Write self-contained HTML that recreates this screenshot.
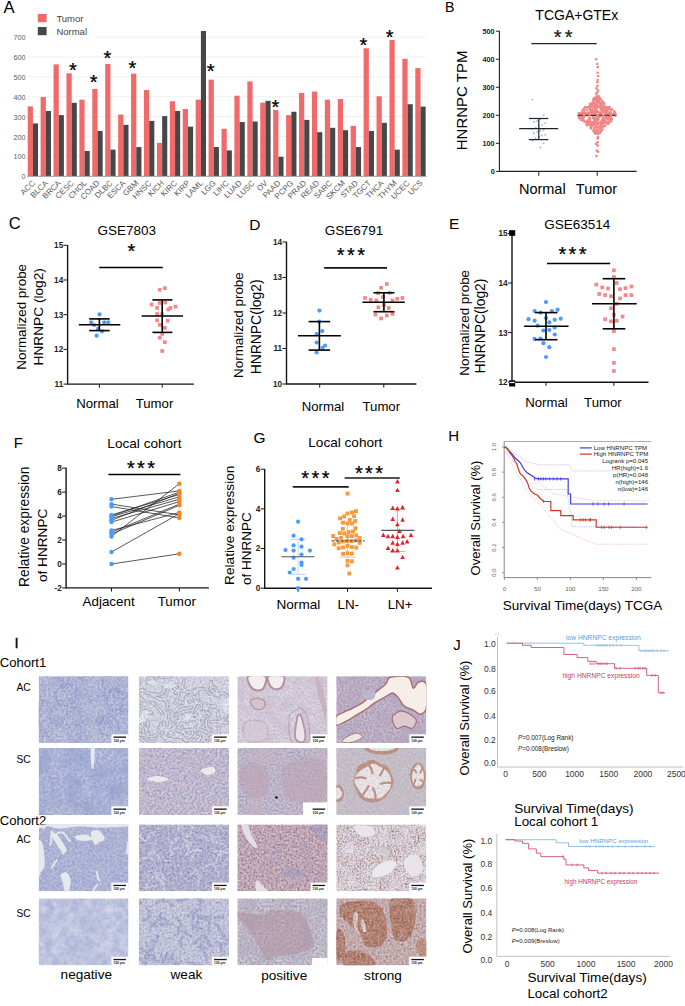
<!DOCTYPE html>
<html><head><meta charset="utf-8"><style>
html,body{margin:0;padding:0;background:#fff;overflow:hidden;}
svg{display:block;font-family:"Liberation Sans", sans-serif;}
</style></head><body>
<svg width="685" height="1006" viewBox="0 0 685 1006">
<defs><filter id="sblur" x="-5%" y="-5%" width="110%" height="110%"><feGaussianBlur stdDeviation="0.6"/></filter><clipPath id="cp1"><rect x="38.70" y="676.20" width="89.70" height="66.70"/></clipPath><filter id="nf1" x="0" y="0" width="1" height="1" color-interpolation-filters="sRGB"><feTurbulence type="fractalNoise" baseFrequency="0.07" numOctaves="2" seed="11" result="n"/><feColorMatrix in="n" type="matrix" values="0 0 0 0 0.549 0 0 0 0 0.580 0 0 0 0 0.776 1.667 0 0 0 -0.583"/><feComposite in2="SourceAlpha" operator="in"/></filter><filter id="nf2" x="0" y="0" width="1" height="1" color-interpolation-filters="sRGB"><feTurbulence type="fractalNoise" baseFrequency="0.5" numOctaves="2" seed="12" result="n"/><feColorMatrix in="n" type="matrix" values="0 0 0 0 0.549 0 0 0 0 0.580 0 0 0 0 0.776 1.833 0 0 0 -0.642"/><feComposite in2="SourceAlpha" operator="in"/></filter><filter id="nf3" x="0" y="0" width="1" height="1" color-interpolation-filters="sRGB"><feTurbulence type="fractalNoise" baseFrequency="0.45" numOctaves="2" seed="13" result="n"/><feColorMatrix in="n" type="matrix" values="0 0 0 0 0.839 0 0 0 0 0.847 0 0 0 0 0.902 1.500 0 0 0 -0.525"/><feComposite in2="SourceAlpha" operator="in"/></filter><clipPath id="cp2"><rect x="138.90" y="676.20" width="90.20" height="66.70"/></clipPath><filter id="nf4" x="0" y="0" width="1" height="1" color-interpolation-filters="sRGB"><feTurbulence type="fractalNoise" baseFrequency="0.5" numOctaves="2" seed="22" result="n"/><feColorMatrix in="n" type="matrix" values="0 0 0 0 0.667 0 0 0 0 0.635 0 0 0 0 0.737 1.000 0 0 0 -0.350"/><feComposite in2="SourceAlpha" operator="in"/></filter><filter id="nf5" x="0" y="0" width="1" height="1" color-interpolation-filters="sRGB"><feTurbulence type="fractalNoise" baseFrequency="0.5" numOctaves="2" seed="25" result="n"/><feColorMatrix in="n" type="matrix" values="0 0 0 0 0.910 0 0 0 0 0.918 0 0 0 0 0.941 1.333 0 0 0 -0.467"/><feComposite in2="SourceAlpha" operator="in"/></filter><filter id="nf6" x="0" y="0" width="1" height="1" color-interpolation-filters="sRGB"><feTurbulence type="fractalNoise" baseFrequency="0.5" numOctaves="2" seed="26" result="n"/><feColorMatrix in="n" type="matrix" values="0 0 0 0 0.588 0 0 0 0 0.557 0 0 0 0 0.675 1.000 0 0 0 -0.350"/><feComposite in2="SourceAlpha" operator="in"/></filter><clipPath id="cp3"><rect x="237.40" y="676.20" width="90.20" height="66.70"/></clipPath><filter id="nf7" x="0" y="0" width="1" height="1" color-interpolation-filters="sRGB"><feTurbulence type="fractalNoise" baseFrequency="0.5" numOctaves="2" seed="31" result="n"/><feColorMatrix in="n" type="matrix" values="0 0 0 0 0.714 0 0 0 0 0.667 0 0 0 0 0.753 1.833 0 0 0 -0.642"/><feComposite in2="SourceAlpha" operator="in"/></filter><filter id="nf8" x="0" y="0" width="1" height="1" color-interpolation-filters="sRGB"><feTurbulence type="fractalNoise" baseFrequency="0.08" numOctaves="2" seed="32" result="n"/><feColorMatrix in="n" type="matrix" values="0 0 0 0 0.784 0 0 0 0 0.729 0 0 0 0 0.792 1.500 0 0 0 -0.525"/><feComposite in2="SourceAlpha" operator="in"/></filter><clipPath id="cp4"><rect x="336.30" y="676.20" width="90.00" height="66.70"/></clipPath><filter id="nf9" x="0" y="0" width="1" height="1" color-interpolation-filters="sRGB"><feTurbulence type="fractalNoise" baseFrequency="0.5" numOctaves="2" seed="41" result="n"/><feColorMatrix in="n" type="matrix" values="0 0 0 0 0.627 0 0 0 0 0.541 0 0 0 0 0.635 2.000 0 0 0 -0.700"/><feComposite in2="SourceAlpha" operator="in"/></filter><filter id="nf10" x="0" y="0" width="1" height="1" color-interpolation-filters="sRGB"><feTurbulence type="fractalNoise" baseFrequency="0.08" numOctaves="2" seed="42" result="n"/><feColorMatrix in="n" type="matrix" values="0 0 0 0 0.698 0 0 0 0 0.647 0 0 0 0 0.753 1.667 0 0 0 -0.583"/><feComposite in2="SourceAlpha" operator="in"/></filter><clipPath id="cp5"><rect x="38.70" y="748.00" width="89.70" height="66.90"/></clipPath><filter id="nf11" x="0" y="0" width="1" height="1" color-interpolation-filters="sRGB"><feTurbulence type="fractalNoise" baseFrequency="0.5" numOctaves="2" seed="51" result="n"/><feColorMatrix in="n" type="matrix" values="0 0 0 0 0.533 0 0 0 0 0.573 0 0 0 0 0.784 2.000 0 0 0 -0.700"/><feComposite in2="SourceAlpha" operator="in"/></filter><filter id="nf12" x="0" y="0" width="1" height="1" color-interpolation-filters="sRGB"><feTurbulence type="fractalNoise" baseFrequency="0.35" numOctaves="2" seed="52" result="n"/><feColorMatrix in="n" type="matrix" values="0 0 0 0 0.824 0 0 0 0 0.839 0 0 0 0 0.902 1.500 0 0 0 -0.525"/><feComposite in2="SourceAlpha" operator="in"/></filter><filter id="nf13" x="0" y="0" width="1" height="1" color-interpolation-filters="sRGB"><feTurbulence type="fractalNoise" baseFrequency="0.06" numOctaves="2" seed="53" result="n"/><feColorMatrix in="n" type="matrix" values="0 0 0 0 0.588 0 0 0 0 0.627 0 0 0 0 0.808 1.667 0 0 0 -0.583"/><feComposite in2="SourceAlpha" operator="in"/></filter><clipPath id="cp6"><rect x="138.90" y="748.00" width="90.20" height="66.90"/></clipPath><filter id="nf14" x="0" y="0" width="1" height="1" color-interpolation-filters="sRGB"><feTurbulence type="fractalNoise" baseFrequency="0.5" numOctaves="2" seed="61" result="n"/><feColorMatrix in="n" type="matrix" values="0 0 0 0 0.549 0 0 0 0 0.525 0 0 0 0 0.698 2.167 0 0 0 -0.758"/><feComposite in2="SourceAlpha" operator="in"/></filter><filter id="nf15" x="0" y="0" width="1" height="1" color-interpolation-filters="sRGB"><feTurbulence type="fractalNoise" baseFrequency="0.06" numOctaves="2" seed="62" result="n"/><feColorMatrix in="n" type="matrix" values="0 0 0 0 0.753 0 0 0 0 0.675 0 0 0 0 0.753 1.667 0 0 0 -0.583"/><feComposite in2="SourceAlpha" operator="in"/></filter><filter id="nf16" x="0" y="0" width="1" height="1" color-interpolation-filters="sRGB"><feTurbulence type="fractalNoise" baseFrequency="0.4" numOctaves="2" seed="63" result="n"/><feColorMatrix in="n" type="matrix" values="0 0 0 0 0.886 0 0 0 0 0.878 0 0 0 0 0.918 1.500 0 0 0 -0.525"/><feComposite in2="SourceAlpha" operator="in"/></filter><clipPath id="cp7"><rect x="237.40" y="748.00" width="90.20" height="66.90"/></clipPath><filter id="nf17" x="0" y="0" width="1" height="1" color-interpolation-filters="sRGB"><feTurbulence type="fractalNoise" baseFrequency="0.5" numOctaves="2" seed="71" result="n"/><feColorMatrix in="n" type="matrix" values="0 0 0 0 0.588 0 0 0 0 0.557 0 0 0 0 0.698 2.000 0 0 0 -0.700"/><feComposite in2="SourceAlpha" operator="in"/></filter><filter id="nf18" x="0" y="0" width="1" height="1" color-interpolation-filters="sRGB"><feTurbulence type="fractalNoise" baseFrequency="0.06" numOctaves="2" seed="72" result="n"/><feColorMatrix in="n" type="matrix" values="0 0 0 0 0.776 0 0 0 0 0.698 0 0 0 0 0.753 1.500 0 0 0 -0.525"/><feComposite in2="SourceAlpha" operator="in"/></filter><clipPath id="cp8"><rect x="336.30" y="748.00" width="90.00" height="66.90"/></clipPath><filter id="nf19" x="0" y="0" width="1" height="1" color-interpolation-filters="sRGB"><feTurbulence type="fractalNoise" baseFrequency="0.5" numOctaves="2" seed="81" result="n"/><feColorMatrix in="n" type="matrix" values="0 0 0 0 0.675 0 0 0 0 0.659 0 0 0 0 0.729 2.000 0 0 0 -0.700"/><feComposite in2="SourceAlpha" operator="in"/></filter><filter id="nf20" x="0" y="0" width="1" height="1" color-interpolation-filters="sRGB"><feTurbulence type="fractalNoise" baseFrequency="0.08" numOctaves="2" seed="82" result="n"/><feColorMatrix in="n" type="matrix" values="0 0 0 0 0.761 0 0 0 0 0.745 0 0 0 0 0.784 1.333 0 0 0 -0.467"/><feComposite in2="SourceAlpha" operator="in"/></filter><filter id="nf21" x="0" y="0" width="1" height="1" color-interpolation-filters="sRGB"><feTurbulence type="fractalNoise" baseFrequency="0.5" numOctaves="2" seed="83" result="n"/><feColorMatrix in="n" type="matrix" values="0 0 0 0 0.784 0 0 0 0 0.706 0 0 0 0 0.725 1.167 0 0 0 -0.408"/><feComposite in2="SourceAlpha" operator="in"/></filter><clipPath id="cp9"><rect x="38.70" y="824.50" width="89.70" height="66.70"/></clipPath><filter id="nf22" x="0" y="0" width="1" height="1" color-interpolation-filters="sRGB"><feTurbulence type="fractalNoise" baseFrequency="0.08" numOctaves="2" seed="96" result="n"/><feColorMatrix in="n" type="matrix" values="0 0 0 0 0.627 0 0 0 0 0.651 0 0 0 0 0.808 1.333 0 0 0 -0.467"/><feComposite in2="SourceAlpha" operator="in"/></filter><filter id="nf23" x="0" y="0" width="1" height="1" color-interpolation-filters="sRGB"><feTurbulence type="fractalNoise" baseFrequency="0.5" numOctaves="2" seed="91" result="n"/><feColorMatrix in="n" type="matrix" values="0 0 0 0 0.541 0 0 0 0 0.573 0 0 0 0 0.776 1.667 0 0 0 -0.583"/><feComposite in2="SourceAlpha" operator="in"/></filter><filter id="nf24" x="0" y="0" width="1" height="1" color-interpolation-filters="sRGB"><feTurbulence type="fractalNoise" baseFrequency="0.4" numOctaves="2" seed="94" result="n"/><feColorMatrix in="n" type="matrix" values="0 0 0 0 0.839 0 0 0 0 0.847 0 0 0 0 0.902 1.167 0 0 0 -0.408"/><feComposite in2="SourceAlpha" operator="in"/></filter><clipPath id="cp10"><rect x="138.90" y="824.50" width="90.20" height="66.70"/></clipPath><filter id="nf25" x="0" y="0" width="1" height="1" color-interpolation-filters="sRGB"><feTurbulence type="fractalNoise" baseFrequency="0.5" numOctaves="2" seed="101" result="n"/><feColorMatrix in="n" type="matrix" values="0 0 0 0 0.494 0 0 0 0 0.502 0 0 0 0 0.690 1.833 0 0 0 -0.642"/><feComposite in2="SourceAlpha" operator="in"/></filter><filter id="nf26" x="0" y="0" width="1" height="1" color-interpolation-filters="sRGB"><feTurbulence type="fractalNoise" baseFrequency="0.4" numOctaves="2" seed="103" result="n"/><feColorMatrix in="n" type="matrix" values="0 0 0 0 0.871 0 0 0 0 0.871 0 0 0 0 0.910 1.333 0 0 0 -0.467"/><feComposite in2="SourceAlpha" operator="in"/></filter><clipPath id="cp11"><rect x="237.40" y="824.50" width="90.20" height="66.70"/></clipPath><filter id="nf27" x="0" y="0" width="1" height="1" color-interpolation-filters="sRGB"><feTurbulence type="fractalNoise" baseFrequency="0.5" numOctaves="2" seed="111" result="n"/><feColorMatrix in="n" type="matrix" values="0 0 0 0 0.588 0 0 0 0 0.431 0 0 0 0 0.510 2.333 0 0 0 -0.817"/><feComposite in2="SourceAlpha" operator="in"/></filter><filter id="nf28" x="0" y="0" width="1" height="1" color-interpolation-filters="sRGB"><feTurbulence type="fractalNoise" baseFrequency="0.45" numOctaves="2" seed="112" result="n"/><feColorMatrix in="n" type="matrix" values="0 0 0 0 0.878 0 0 0 0 0.839 0 0 0 0 0.863 1.667 0 0 0 -0.583"/><feComposite in2="SourceAlpha" operator="in"/></filter><filter id="nf29" x="0" y="0" width="1" height="1" color-interpolation-filters="sRGB"><feTurbulence type="fractalNoise" baseFrequency="0.07" numOctaves="2" seed="113" result="n"/><feColorMatrix in="n" type="matrix" values="0 0 0 0 0.667 0 0 0 0 0.627 0 0 0 0 0.765 1.562 0 0 0 -0.844"/><feComposite in2="SourceAlpha" operator="in"/></filter><clipPath id="cp12"><rect x="336.30" y="824.50" width="90.00" height="66.70"/></clipPath><filter id="nf30" x="0" y="0" width="1" height="1" color-interpolation-filters="sRGB"><feTurbulence type="fractalNoise" baseFrequency="0.55" numOctaves="2" seed="121" result="n"/><feColorMatrix in="n" type="matrix" values="0 0 0 0 0.675 0 0 0 0 0.478 0 0 0 0 0.431 2.692 0 0 0 -1.131"/><feComposite in2="SourceAlpha" operator="in"/></filter><filter id="nf31" x="0" y="0" width="1" height="1" color-interpolation-filters="sRGB"><feTurbulence type="fractalNoise" baseFrequency="0.09" numOctaves="2" seed="122" result="n"/><feColorMatrix in="n" type="matrix" values="0 0 0 0 0.933 0 0 0 0 0.925 0 0 0 0 0.937 2.000 0 0 0 -0.700"/><feComposite in2="SourceAlpha" operator="in"/></filter><filter id="nf32" x="0" y="0" width="1" height="1" color-interpolation-filters="sRGB"><feTurbulence type="fractalNoise" baseFrequency="0.6" numOctaves="2" seed="123" result="n"/><feColorMatrix in="n" type="matrix" values="0 0 0 0 0.549 0 0 0 0 0.510 0 0 0 0 0.667 1.000 0 0 0 -0.350"/><feComposite in2="SourceAlpha" operator="in"/></filter><clipPath id="cp13"><rect x="38.70" y="898.40" width="89.70" height="66.90"/></clipPath><filter id="nf33" x="0" y="0" width="1" height="1" color-interpolation-filters="sRGB"><feTurbulence type="fractalNoise" baseFrequency="0.06" numOctaves="2" seed="131" result="n"/><feColorMatrix in="n" type="matrix" values="0 0 0 0 0.659 0 0 0 0 0.690 0 0 0 0 0.839 2.000 0 0 0 -0.700"/><feComposite in2="SourceAlpha" operator="in"/></filter><filter id="nf34" x="0" y="0" width="1" height="1" color-interpolation-filters="sRGB"><feTurbulence type="fractalNoise" baseFrequency="0.5" numOctaves="2" seed="132" result="n"/><feColorMatrix in="n" type="matrix" values="0 0 0 0 0.647 0 0 0 0 0.675 0 0 0 0 0.831 1.500 0 0 0 -0.525"/><feComposite in2="SourceAlpha" operator="in"/></filter><filter id="nf35" x="0" y="0" width="1" height="1" color-interpolation-filters="sRGB"><feTurbulence type="fractalNoise" baseFrequency="0.15" numOctaves="2" seed="133" result="n"/><feColorMatrix in="n" type="matrix" values="0 0 0 0 0.855 0 0 0 0 0.863 0 0 0 0 0.918 1.500 0 0 0 -0.525"/><feComposite in2="SourceAlpha" operator="in"/></filter><clipPath id="cp14"><rect x="138.90" y="898.40" width="90.20" height="66.90"/></clipPath><filter id="nf36" x="0" y="0" width="1" height="1" color-interpolation-filters="sRGB"><feTurbulence type="fractalNoise" baseFrequency="0.5" numOctaves="2" seed="141" result="n"/><feColorMatrix in="n" type="matrix" values="0 0 0 0 0.529 0 0 0 0 0.541 0 0 0 0 0.722 1.667 0 0 0 -0.583"/><feComposite in2="SourceAlpha" operator="in"/></filter><filter id="nf37" x="0" y="0" width="1" height="1" color-interpolation-filters="sRGB"><feTurbulence type="fractalNoise" baseFrequency="0.4" numOctaves="2" seed="144" result="n"/><feColorMatrix in="n" type="matrix" values="0 0 0 0 0.894 0 0 0 0 0.902 0 0 0 0 0.925 1.167 0 0 0 -0.408"/><feComposite in2="SourceAlpha" operator="in"/></filter><clipPath id="cp15"><rect x="237.40" y="898.40" width="90.20" height="66.90"/></clipPath><filter id="nf38" x="0" y="0" width="1" height="1" color-interpolation-filters="sRGB"><feTurbulence type="fractalNoise" baseFrequency="0.5" numOctaves="2" seed="151" result="n"/><feColorMatrix in="n" type="matrix" values="0 0 0 0 0.549 0 0 0 0 0.518 0 0 0 0 0.627 2.000 0 0 0 -0.700"/><feComposite in2="SourceAlpha" operator="in"/></filter><filter id="nf39" x="0" y="0" width="1" height="1" color-interpolation-filters="sRGB"><feTurbulence type="fractalNoise" baseFrequency="0.4" numOctaves="2" seed="152" result="n"/><feColorMatrix in="n" type="matrix" values="0 0 0 0 0.871 0 0 0 0 0.855 0 0 0 0 0.878 1.500 0 0 0 -0.525"/><feComposite in2="SourceAlpha" operator="in"/></filter><filter id="nf40" x="0" y="0" width="1" height="1" color-interpolation-filters="sRGB"><feTurbulence type="fractalNoise" baseFrequency="0.07" numOctaves="2" seed="153" result="n"/><feColorMatrix in="n" type="matrix" values="0 0 0 0 0.690 0 0 0 0 0.659 0 0 0 0 0.745 1.500 0 0 0 -0.525"/><feComposite in2="SourceAlpha" operator="in"/></filter><clipPath id="cp16"><rect x="336.30" y="898.40" width="90.00" height="66.90"/></clipPath><filter id="nf41" x="0" y="0" width="1" height="1" color-interpolation-filters="sRGB"><feTurbulence type="fractalNoise" baseFrequency="0.5" numOctaves="2" seed="161" result="n"/><feColorMatrix in="n" type="matrix" values="0 0 0 0 0.745 0 0 0 0 0.588 0 0 0 0 0.569 1.667 0 0 0 -0.583"/><feComposite in2="SourceAlpha" operator="in"/></filter><filter id="nf42" x="0" y="0" width="1" height="1" color-interpolation-filters="sRGB"><feTurbulence type="fractalNoise" baseFrequency="0.6" numOctaves="2" seed="162" result="n"/><feColorMatrix in="n" type="matrix" values="0 0 0 0 0.627 0 0 0 0 0.588 0 0 0 0 0.745 1.000 0 0 0 -0.350"/><feComposite in2="SourceAlpha" operator="in"/></filter><filter id="nf43" x="0" y="0" width="1" height="1" color-interpolation-filters="sRGB"><feTurbulence type="fractalNoise" baseFrequency="0.5" numOctaves="2" seed="163" result="n"/><feColorMatrix in="n" type="matrix" values="0 0 0 0 0.510 0 0 0 0 0.314 0 0 0 0 0.275 1.333 0 0 0 -0.467"/><feComposite in2="SourceAlpha" operator="in"/></filter><filter id="nf44" x="0" y="0" width="1" height="1" color-interpolation-filters="sRGB"><feTurbulence type="fractalNoise" baseFrequency="0.5" numOctaves="2" seed="164" result="n"/><feColorMatrix in="n" type="matrix" values="0 0 0 0 0.910 0 0 0 0 0.871 0 0 0 0 0.878 1.167 0 0 0 -0.408"/><feComposite in2="SourceAlpha" operator="in"/></filter><filter id="nf45" x="0" y="0" width="1" height="1" color-interpolation-filters="sRGB"><feTurbulence type="fractalNoise" baseFrequency="0.15" numOctaves="2" seed="165" result="n"/><feColorMatrix in="n" type="matrix" values="0 0 0 0 0.784 0 0 0 0 0.667 0 0 0 0 0.627 1.000 0 0 0 -0.350"/><feComposite in2="SourceAlpha" operator="in"/></filter></defs>
<rect width="685" height="1006" fill="#fff"/>
<text x="3.40" y="13.30" font-size="16.6" fill="#000" text-anchor="start" font-weight="normal"  style="">A</text>
<line x1="27.30" y1="156.17" x2="426.50" y2="156.17" stroke="#eeeeee" stroke-width="0.9" />
<line x1="27.30" y1="136.34" x2="426.50" y2="136.34" stroke="#eeeeee" stroke-width="0.9" />
<line x1="27.30" y1="116.51" x2="426.50" y2="116.51" stroke="#eeeeee" stroke-width="0.9" />
<line x1="27.30" y1="96.68" x2="426.50" y2="96.68" stroke="#eeeeee" stroke-width="0.9" />
<line x1="27.30" y1="76.85" x2="426.50" y2="76.85" stroke="#eeeeee" stroke-width="0.9" />
<line x1="27.30" y1="57.02" x2="426.50" y2="57.02" stroke="#eeeeee" stroke-width="0.9" />
<line x1="27.30" y1="37.19" x2="31.50" y2="37.19" stroke="#eeeeee" stroke-width="0.9" />
<line x1="95.50" y1="37.19" x2="426.50" y2="37.19" stroke="#eeeeee" stroke-width="0.9" />
<text x="25.40" y="179.20" font-size="7.2" fill="#5a5a5a" text-anchor="end" font-weight="normal"  style="">0</text>
<text x="25.40" y="159.37" font-size="7.2" fill="#5a5a5a" text-anchor="end" font-weight="normal"  style="">100</text>
<text x="25.40" y="139.54" font-size="7.2" fill="#5a5a5a" text-anchor="end" font-weight="normal"  style="">200</text>
<text x="25.40" y="119.71" font-size="7.2" fill="#5a5a5a" text-anchor="end" font-weight="normal"  style="">300</text>
<text x="25.40" y="99.88" font-size="7.2" fill="#5a5a5a" text-anchor="end" font-weight="normal"  style="">400</text>
<text x="25.40" y="80.05" font-size="7.2" fill="#5a5a5a" text-anchor="end" font-weight="normal"  style="">500</text>
<text x="25.40" y="60.22" font-size="7.2" fill="#5a5a5a" text-anchor="end" font-weight="normal"  style="">600</text>
<text x="25.40" y="40.39" font-size="7.2" fill="#5a5a5a" text-anchor="end" font-weight="normal"  style="">700</text>
<rect x="27.70" y="106.40" width="5.25" height="69.60" fill="#f06a69" />
<rect x="32.95" y="123.45" width="5.10" height="52.55" fill="#464847" />
<rect x="40.62" y="97.08" width="5.25" height="78.92" fill="#f06a69" />
<rect x="45.87" y="110.96" width="5.10" height="65.04" fill="#464847" />
<rect x="53.54" y="64.36" width="5.25" height="111.64" fill="#f06a69" />
<rect x="58.79" y="115.12" width="5.10" height="60.88" fill="#464847" />
<rect x="66.46" y="73.28" width="5.25" height="102.72" fill="#f06a69" />
<rect x="71.71" y="102.83" width="5.10" height="73.17" fill="#464847" />
<rect x="79.38" y="99.65" width="5.25" height="76.35" fill="#f06a69" />
<rect x="84.63" y="151.01" width="5.10" height="24.99" fill="#464847" />
<rect x="92.30" y="88.95" width="5.25" height="87.05" fill="#f06a69" />
<rect x="97.55" y="130.99" width="5.10" height="45.01" fill="#464847" />
<rect x="105.22" y="63.96" width="5.25" height="112.04" fill="#f06a69" />
<rect x="110.47" y="149.63" width="5.10" height="26.37" fill="#464847" />
<rect x="118.14" y="114.53" width="5.25" height="61.47" fill="#f06a69" />
<rect x="123.39" y="124.84" width="5.10" height="51.16" fill="#464847" />
<rect x="131.06" y="73.68" width="5.25" height="102.32" fill="#f06a69" />
<rect x="136.31" y="147.05" width="5.10" height="28.95" fill="#464847" />
<rect x="143.98" y="89.94" width="5.25" height="86.06" fill="#f06a69" />
<rect x="149.23" y="120.87" width="5.10" height="55.13" fill="#464847" />
<rect x="156.90" y="142.88" width="5.25" height="33.12" fill="#f06a69" />
<rect x="162.15" y="116.11" width="5.10" height="59.89" fill="#464847" />
<rect x="169.82" y="101.24" width="5.25" height="74.76" fill="#f06a69" />
<rect x="175.07" y="110.96" width="5.10" height="65.04" fill="#464847" />
<rect x="182.74" y="108.97" width="5.25" height="67.03" fill="#f06a69" />
<rect x="187.99" y="126.62" width="5.10" height="49.38" fill="#464847" />
<rect x="195.66" y="99.65" width="5.25" height="76.35" fill="#f06a69" />
<rect x="200.91" y="31.00" width="5.10" height="145.00" fill="#464847" />
<rect x="208.58" y="79.63" width="5.25" height="96.37" fill="#f06a69" />
<rect x="213.83" y="147.05" width="5.10" height="28.95" fill="#464847" />
<rect x="221.50" y="128.80" width="5.25" height="47.20" fill="#f06a69" />
<rect x="226.75" y="150.42" width="5.10" height="25.58" fill="#464847" />
<rect x="234.42" y="95.69" width="5.25" height="80.31" fill="#f06a69" />
<rect x="239.67" y="122.06" width="5.10" height="53.94" fill="#464847" />
<rect x="247.34" y="81.41" width="5.25" height="94.59" fill="#f06a69" />
<rect x="252.59" y="121.47" width="5.10" height="54.53" fill="#464847" />
<rect x="260.26" y="102.63" width="5.25" height="73.37" fill="#f06a69" />
<rect x="265.51" y="100.84" width="5.10" height="75.16" fill="#464847" />
<rect x="273.18" y="109.97" width="5.25" height="66.03" fill="#f06a69" />
<rect x="278.43" y="156.76" width="5.10" height="19.24" fill="#464847" />
<rect x="286.10" y="115.12" width="5.25" height="60.88" fill="#f06a69" />
<rect x="291.35" y="111.75" width="5.10" height="64.25" fill="#464847" />
<rect x="299.02" y="92.91" width="5.25" height="83.09" fill="#f06a69" />
<rect x="304.27" y="119.88" width="5.10" height="56.12" fill="#464847" />
<rect x="311.94" y="91.52" width="5.25" height="84.48" fill="#f06a69" />
<rect x="317.19" y="132.18" width="5.10" height="43.82" fill="#464847" />
<rect x="324.86" y="99.65" width="5.25" height="76.35" fill="#f06a69" />
<rect x="330.11" y="127.81" width="5.10" height="48.19" fill="#464847" />
<rect x="337.78" y="99.06" width="5.25" height="76.94" fill="#f06a69" />
<rect x="343.03" y="130.19" width="5.10" height="45.81" fill="#464847" />
<rect x="350.70" y="125.83" width="5.25" height="50.17" fill="#f06a69" />
<rect x="355.95" y="147.05" width="5.10" height="28.95" fill="#464847" />
<rect x="363.62" y="48.29" width="5.25" height="127.71" fill="#f06a69" />
<rect x="368.87" y="130.99" width="5.10" height="45.01" fill="#464847" />
<rect x="376.54" y="96.28" width="5.25" height="79.72" fill="#f06a69" />
<rect x="381.79" y="122.86" width="5.10" height="53.14" fill="#464847" />
<rect x="389.46" y="39.97" width="5.25" height="136.03" fill="#f06a69" />
<rect x="394.71" y="149.63" width="5.10" height="26.37" fill="#464847" />
<rect x="402.38" y="58.80" width="5.25" height="117.20" fill="#f06a69" />
<rect x="407.63" y="104.22" width="5.10" height="71.78" fill="#464847" />
<rect x="415.30" y="68.12" width="5.25" height="107.88" fill="#f06a69" />
<rect x="420.55" y="106.59" width="5.10" height="69.41" fill="#464847" />
<line x1="27.30" y1="176.30" x2="426.50" y2="176.30" stroke="#8a8a8a" stroke-width="0.9" />
<text x="0" y="0" font-size="8" fill="#5a5a5a" text-anchor="end" transform="translate(35.50,183.6) rotate(-45)">ACC</text>
<text x="0" y="0" font-size="8" fill="#5a5a5a" text-anchor="end" transform="translate(48.42,183.6) rotate(-45)">BLCA</text>
<text x="0" y="0" font-size="8" fill="#5a5a5a" text-anchor="end" transform="translate(61.34,183.6) rotate(-45)">BRCA</text>
<text x="0" y="0" font-size="8" fill="#5a5a5a" text-anchor="end" transform="translate(74.26,183.6) rotate(-45)">CESC</text>
<text x="0" y="0" font-size="8" fill="#5a5a5a" text-anchor="end" transform="translate(87.18,183.6) rotate(-45)">CHOL</text>
<text x="0" y="0" font-size="8" fill="#5a5a5a" text-anchor="end" transform="translate(100.10,183.6) rotate(-45)">COAD</text>
<text x="0" y="0" font-size="8" fill="#5a5a5a" text-anchor="end" transform="translate(113.02,183.6) rotate(-45)">DLBC</text>
<text x="0" y="0" font-size="8" fill="#5a5a5a" text-anchor="end" transform="translate(125.94,183.6) rotate(-45)">ESCA</text>
<text x="0" y="0" font-size="8" fill="#5a5a5a" text-anchor="end" transform="translate(138.86,183.6) rotate(-45)">GBM</text>
<text x="0" y="0" font-size="8" fill="#5a5a5a" text-anchor="end" transform="translate(151.78,183.6) rotate(-45)">HNSC</text>
<text x="0" y="0" font-size="8" fill="#5a5a5a" text-anchor="end" transform="translate(164.70,183.6) rotate(-45)">KICH</text>
<text x="0" y="0" font-size="8" fill="#5a5a5a" text-anchor="end" transform="translate(177.62,183.6) rotate(-45)">KIRC</text>
<text x="0" y="0" font-size="8" fill="#5a5a5a" text-anchor="end" transform="translate(190.54,183.6) rotate(-45)">KIRP</text>
<text x="0" y="0" font-size="8" fill="#5a5a5a" text-anchor="end" transform="translate(203.46,183.6) rotate(-45)">LAML</text>
<text x="0" y="0" font-size="8" fill="#5a5a5a" text-anchor="end" transform="translate(216.38,183.6) rotate(-45)">LGG</text>
<text x="0" y="0" font-size="8" fill="#5a5a5a" text-anchor="end" transform="translate(229.30,183.6) rotate(-45)">LIHC</text>
<text x="0" y="0" font-size="8" fill="#5a5a5a" text-anchor="end" transform="translate(242.22,183.6) rotate(-45)">LUAD</text>
<text x="0" y="0" font-size="8" fill="#5a5a5a" text-anchor="end" transform="translate(255.14,183.6) rotate(-45)">LUSC</text>
<text x="0" y="0" font-size="8" fill="#5a5a5a" text-anchor="end" transform="translate(268.06,183.6) rotate(-45)">OV</text>
<text x="0" y="0" font-size="8" fill="#5a5a5a" text-anchor="end" transform="translate(280.98,183.6) rotate(-45)">PAAD</text>
<text x="0" y="0" font-size="8" fill="#5a5a5a" text-anchor="end" transform="translate(293.90,183.6) rotate(-45)">PCPG</text>
<text x="0" y="0" font-size="8" fill="#5a5a5a" text-anchor="end" transform="translate(306.82,183.6) rotate(-45)">PRAD</text>
<text x="0" y="0" font-size="8" fill="#5a5a5a" text-anchor="end" transform="translate(319.74,183.6) rotate(-45)">READ</text>
<text x="0" y="0" font-size="8" fill="#5a5a5a" text-anchor="end" transform="translate(332.66,183.6) rotate(-45)">SARC</text>
<text x="0" y="0" font-size="8" fill="#5a5a5a" text-anchor="end" transform="translate(345.58,183.6) rotate(-45)">SKCM</text>
<text x="0" y="0" font-size="8" fill="#5a5a5a" text-anchor="end" transform="translate(358.50,183.6) rotate(-45)">STAD</text>
<text x="0" y="0" font-size="8" fill="#5a5a5a" text-anchor="end" transform="translate(371.42,183.6) rotate(-45)">TGCT</text>
<text x="0" y="0" font-size="8" fill="#5a5a5a" text-anchor="end" transform="translate(384.34,183.6) rotate(-45)">THCA</text>
<text x="0" y="0" font-size="8" fill="#5a5a5a" text-anchor="end" transform="translate(397.26,183.6) rotate(-45)">THYM</text>
<text x="0" y="0" font-size="8" fill="#5a5a5a" text-anchor="end" transform="translate(410.18,183.6) rotate(-45)">UCEC</text>
<text x="0" y="0" font-size="8" fill="#5a5a5a" text-anchor="end" transform="translate(423.10,183.6) rotate(-45)">UCS</text>
<text x="73.00" y="76.60" font-size="20" fill="#000" text-anchor="middle" font-weight="normal" stroke="#000" stroke-width="0.25" style="">*</text>
<text x="93.60" y="88.50" font-size="20" fill="#000" text-anchor="middle" font-weight="normal" stroke="#000" stroke-width="0.25" style="">*</text>
<text x="107.50" y="65.30" font-size="20" fill="#000" text-anchor="middle" font-weight="normal" stroke="#000" stroke-width="0.25" style="">*</text>
<text x="132.50" y="75.10" font-size="20" fill="#000" text-anchor="middle" font-weight="normal" stroke="#000" stroke-width="0.25" style="">*</text>
<text x="210.60" y="78.00" font-size="20" fill="#000" text-anchor="middle" font-weight="normal" stroke="#000" stroke-width="0.25" style="">*</text>
<text x="275.50" y="113.80" font-size="20" fill="#000" text-anchor="middle" font-weight="normal" stroke="#000" stroke-width="0.25" style="">*</text>
<text x="363.50" y="52.40" font-size="20" fill="#000" text-anchor="middle" font-weight="normal" stroke="#000" stroke-width="0.25" style="">*</text>
<text x="389.60" y="43.60" font-size="20" fill="#000" text-anchor="middle" font-weight="normal" stroke="#000" stroke-width="0.25" style="">*</text>
<rect x="37.80" y="14.00" width="8.80" height="8.20" fill="#f06a69" />
<rect x="37.80" y="27.00" width="8.80" height="8.20" fill="#464847" />
<text x="56.40" y="21.60" font-size="9.5" fill="#444" text-anchor="start" font-weight="normal"  style="">Tumor</text>
<text x="56.40" y="34.80" font-size="9.5" fill="#444" text-anchor="start" font-weight="normal"  style="">Normal</text>
<text x="445.00" y="12.40" font-size="14.2" fill="#000" text-anchor="start" font-weight="normal"  style="">B</text>
<text x="576.80" y="20.00" font-size="14" fill="#000" text-anchor="middle" font-weight="normal"  style="">TCGA+GTEx</text>
<line x1="499.40" y1="31.00" x2="499.40" y2="171.90" stroke="#222" stroke-width="1.1" />
<line x1="499.40" y1="171.40" x2="636.60" y2="171.40" stroke="#222" stroke-width="1.1" />
<line x1="496.00" y1="171.40" x2="499.40" y2="171.40" stroke="#222" stroke-width="1" />
<text x="494.70" y="174.00" font-size="7.3" fill="#222" text-anchor="end" font-weight="bold"  style="">0</text>
<line x1="496.00" y1="143.36" x2="499.40" y2="143.36" stroke="#222" stroke-width="1" />
<text x="494.70" y="145.96" font-size="7.3" fill="#222" text-anchor="end" font-weight="bold"  style="">100</text>
<line x1="496.00" y1="115.32" x2="499.40" y2="115.32" stroke="#222" stroke-width="1" />
<text x="494.70" y="117.92" font-size="7.3" fill="#222" text-anchor="end" font-weight="bold"  style="">200</text>
<line x1="496.00" y1="87.28" x2="499.40" y2="87.28" stroke="#222" stroke-width="1" />
<text x="494.70" y="89.88" font-size="7.3" fill="#222" text-anchor="end" font-weight="bold"  style="">300</text>
<line x1="496.00" y1="59.24" x2="499.40" y2="59.24" stroke="#222" stroke-width="1" />
<text x="494.70" y="61.84" font-size="7.3" fill="#222" text-anchor="end" font-weight="bold"  style="">400</text>
<line x1="496.00" y1="31.20" x2="499.40" y2="31.20" stroke="#222" stroke-width="1" />
<text x="494.70" y="33.80" font-size="7.3" fill="#222" text-anchor="end" font-weight="bold"  style="">500</text>
<line x1="538.80" y1="171.40" x2="538.80" y2="175.90" stroke="#222" stroke-width="1" />
<line x1="597.20" y1="171.40" x2="597.20" y2="175.90" stroke="#222" stroke-width="1" />
<text x="542.30" y="194.40" font-size="14.5" fill="#000" text-anchor="middle" font-weight="normal"  style="">Normal</text>
<text x="596.50" y="194.40" font-size="14.5" fill="#000" text-anchor="middle" font-weight="normal"  style="">Tumor</text>
<text x="0" y="0" font-size="15" fill="#000" text-anchor="middle" transform="translate(467.4,100.4) rotate(-90)">HNRNPC TPM</text>
<line x1="531.40" y1="43.60" x2="596.70" y2="43.60" stroke="#222" stroke-width="1.1" />
<text x="557.60" y="44.30" font-size="20" fill="#222" text-anchor="middle" font-weight="normal" stroke="#222" stroke-width="0.25" style="">*</text>
<text x="568.60" y="44.30" font-size="20" fill="#222" text-anchor="middle" font-weight="normal" stroke="#222" stroke-width="0.25" style="">*</text>
<circle cx="532.40" cy="99.62" r="0.95" fill="#94bde8"/>
<circle cx="543.60" cy="115.32" r="0.95" fill="#94bde8"/>
<circle cx="540.40" cy="119.25" r="0.95" fill="#94bde8"/>
<circle cx="537.20" cy="120.93" r="0.95" fill="#94bde8"/>
<circle cx="534.00" cy="122.05" r="0.95" fill="#94bde8"/>
<circle cx="545.20" cy="123.17" r="0.95" fill="#94bde8"/>
<circle cx="542.00" cy="124.85" r="0.95" fill="#94bde8"/>
<circle cx="538.80" cy="126.26" r="0.95" fill="#94bde8"/>
<circle cx="535.60" cy="127.66" r="0.95" fill="#94bde8"/>
<circle cx="532.40" cy="128.78" r="0.95" fill="#94bde8"/>
<circle cx="543.60" cy="129.90" r="0.95" fill="#94bde8"/>
<circle cx="540.40" cy="130.74" r="0.95" fill="#94bde8"/>
<circle cx="537.20" cy="131.86" r="0.95" fill="#94bde8"/>
<circle cx="534.00" cy="133.27" r="0.95" fill="#94bde8"/>
<circle cx="545.20" cy="134.67" r="0.95" fill="#94bde8"/>
<circle cx="542.00" cy="135.51" r="0.95" fill="#94bde8"/>
<circle cx="538.80" cy="136.63" r="0.95" fill="#94bde8"/>
<circle cx="535.60" cy="138.31" r="0.95" fill="#94bde8"/>
<circle cx="532.40" cy="140.56" r="0.95" fill="#94bde8"/>
<circle cx="543.60" cy="143.36" r="0.95" fill="#94bde8"/>
<circle cx="540.40" cy="147.57" r="0.95" fill="#94bde8"/>
<line x1="578.00" y1="115.30" x2="616.50" y2="115.30" stroke="#222" stroke-width="1.2" />
<circle cx="595.45" cy="99.71" r="1.3" fill="#f48585"/>
<circle cx="597.57" cy="111.09" r="1.3" fill="#f48585"/>
<circle cx="580.49" cy="117.09" r="1.3" fill="#f48585"/>
<circle cx="595.03" cy="117.74" r="1.3" fill="#f48585"/>
<circle cx="602.87" cy="115.13" r="1.3" fill="#f48585"/>
<circle cx="589.38" cy="118.77" r="1.3" fill="#f48585"/>
<circle cx="585.01" cy="107.35" r="1.3" fill="#f48585"/>
<circle cx="597.76" cy="100.38" r="1.3" fill="#f48585"/>
<circle cx="589.76" cy="119.35" r="1.3" fill="#f48585"/>
<circle cx="600.00" cy="127.77" r="1.3" fill="#f48585"/>
<circle cx="598.18" cy="124.73" r="1.3" fill="#f48585"/>
<circle cx="607.76" cy="116.49" r="1.3" fill="#f48585"/>
<circle cx="594.35" cy="123.37" r="1.3" fill="#f48585"/>
<circle cx="611.00" cy="120.76" r="1.3" fill="#f48585"/>
<circle cx="601.89" cy="121.23" r="1.3" fill="#f48585"/>
<circle cx="599.37" cy="116.69" r="1.3" fill="#f48585"/>
<circle cx="595.27" cy="125.22" r="1.3" fill="#f48585"/>
<circle cx="596.17" cy="120.03" r="1.3" fill="#f48585"/>
<circle cx="596.04" cy="122.53" r="1.3" fill="#f48585"/>
<circle cx="606.36" cy="123.37" r="1.3" fill="#f48585"/>
<circle cx="594.29" cy="128.41" r="1.3" fill="#f48585"/>
<circle cx="595.82" cy="109.32" r="1.3" fill="#f48585"/>
<circle cx="597.67" cy="119.78" r="1.3" fill="#f48585"/>
<circle cx="583.28" cy="119.71" r="1.3" fill="#f48585"/>
<circle cx="598.17" cy="133.67" r="1.3" fill="#f48585"/>
<circle cx="606.41" cy="117.01" r="1.3" fill="#f48585"/>
<circle cx="594.58" cy="105.44" r="1.3" fill="#f48585"/>
<circle cx="600.64" cy="105.34" r="1.3" fill="#f48585"/>
<circle cx="592.61" cy="107.64" r="1.3" fill="#f48585"/>
<circle cx="596.69" cy="130.41" r="1.3" fill="#f48585"/>
<circle cx="602.13" cy="105.94" r="1.3" fill="#f48585"/>
<circle cx="596.80" cy="103.54" r="1.3" fill="#f48585"/>
<circle cx="583.39" cy="120.44" r="1.3" fill="#f48585"/>
<circle cx="586.00" cy="113.49" r="1.3" fill="#f48585"/>
<circle cx="585.59" cy="113.47" r="1.3" fill="#f48585"/>
<circle cx="608.29" cy="123.71" r="1.3" fill="#f48585"/>
<circle cx="604.24" cy="111.08" r="1.3" fill="#f48585"/>
<circle cx="595.67" cy="98.45" r="1.3" fill="#f48585"/>
<circle cx="610.16" cy="116.06" r="1.3" fill="#f48585"/>
<circle cx="599.31" cy="99.87" r="1.3" fill="#f48585"/>
<circle cx="601.27" cy="109.35" r="1.3" fill="#f48585"/>
<circle cx="592.32" cy="112.66" r="1.3" fill="#f48585"/>
<circle cx="591.66" cy="126.29" r="1.3" fill="#f48585"/>
<circle cx="605.43" cy="112.75" r="1.3" fill="#f48585"/>
<circle cx="581.92" cy="113.54" r="1.3" fill="#f48585"/>
<circle cx="596.98" cy="104.93" r="1.3" fill="#f48585"/>
<circle cx="589.72" cy="122.93" r="1.3" fill="#f48585"/>
<circle cx="584.37" cy="112.34" r="1.3" fill="#f48585"/>
<circle cx="594.86" cy="107.99" r="1.3" fill="#f48585"/>
<circle cx="596.65" cy="107.65" r="1.3" fill="#f48585"/>
<circle cx="593.39" cy="103.90" r="1.3" fill="#f48585"/>
<circle cx="594.95" cy="111.63" r="1.3" fill="#f48585"/>
<circle cx="581.12" cy="113.72" r="1.3" fill="#f48585"/>
<circle cx="609.95" cy="114.34" r="1.3" fill="#f48585"/>
<circle cx="586.67" cy="110.02" r="1.3" fill="#f48585"/>
<circle cx="607.40" cy="107.41" r="1.3" fill="#f48585"/>
<circle cx="593.38" cy="123.93" r="1.3" fill="#f48585"/>
<circle cx="589.41" cy="106.24" r="1.3" fill="#f48585"/>
<circle cx="602.75" cy="122.15" r="1.3" fill="#f48585"/>
<circle cx="592.54" cy="110.61" r="1.3" fill="#f48585"/>
<circle cx="603.67" cy="108.52" r="1.3" fill="#f48585"/>
<circle cx="594.31" cy="118.29" r="1.3" fill="#f48585"/>
<circle cx="608.43" cy="121.59" r="1.3" fill="#f48585"/>
<circle cx="591.62" cy="124.89" r="1.3" fill="#f48585"/>
<circle cx="608.49" cy="119.30" r="1.3" fill="#f48585"/>
<circle cx="600.39" cy="130.22" r="1.3" fill="#f48585"/>
<circle cx="611.30" cy="116.03" r="1.3" fill="#f48585"/>
<circle cx="609.80" cy="115.50" r="1.3" fill="#f48585"/>
<circle cx="610.41" cy="115.82" r="1.3" fill="#f48585"/>
<circle cx="595.61" cy="124.32" r="1.3" fill="#f48585"/>
<circle cx="598.26" cy="122.79" r="1.3" fill="#f48585"/>
<circle cx="593.84" cy="101.94" r="1.3" fill="#f48585"/>
<circle cx="614.37" cy="113.14" r="1.3" fill="#f48585"/>
<circle cx="610.94" cy="121.22" r="1.3" fill="#f48585"/>
<circle cx="600.85" cy="104.43" r="1.3" fill="#f48585"/>
<circle cx="584.44" cy="113.37" r="1.3" fill="#f48585"/>
<circle cx="601.16" cy="130.98" r="1.3" fill="#f48585"/>
<circle cx="590.02" cy="103.88" r="1.3" fill="#f48585"/>
<circle cx="596.40" cy="114.67" r="1.3" fill="#f48585"/>
<circle cx="584.03" cy="121.00" r="1.3" fill="#f48585"/>
<circle cx="598.67" cy="115.54" r="1.3" fill="#f48585"/>
<circle cx="600.36" cy="115.60" r="1.3" fill="#f48585"/>
<circle cx="599.06" cy="127.26" r="1.3" fill="#f48585"/>
<circle cx="592.20" cy="102.91" r="1.3" fill="#f48585"/>
<circle cx="588.18" cy="107.50" r="1.3" fill="#f48585"/>
<circle cx="588.14" cy="120.21" r="1.3" fill="#f48585"/>
<circle cx="578.26" cy="115.85" r="1.3" fill="#f48585"/>
<circle cx="591.04" cy="128.41" r="1.3" fill="#f48585"/>
<circle cx="600.94" cy="125.15" r="1.3" fill="#f48585"/>
<circle cx="608.39" cy="115.94" r="1.3" fill="#f48585"/>
<circle cx="596.20" cy="100.21" r="1.3" fill="#f48585"/>
<circle cx="583.83" cy="108.92" r="1.3" fill="#f48585"/>
<circle cx="597.88" cy="131.84" r="1.3" fill="#f48585"/>
<circle cx="587.42" cy="122.84" r="1.3" fill="#f48585"/>
<circle cx="590.04" cy="109.31" r="1.3" fill="#f48585"/>
<circle cx="594.14" cy="119.47" r="1.3" fill="#f48585"/>
<circle cx="583.74" cy="115.83" r="1.3" fill="#f48585"/>
<circle cx="604.55" cy="112.67" r="1.3" fill="#f48585"/>
<circle cx="594.48" cy="98.03" r="1.3" fill="#f48585"/>
<circle cx="595.64" cy="104.71" r="1.3" fill="#f48585"/>
<circle cx="589.62" cy="117.46" r="1.3" fill="#f48585"/>
<circle cx="615.37" cy="113.49" r="1.3" fill="#f48585"/>
<circle cx="606.15" cy="114.92" r="1.3" fill="#f48585"/>
<circle cx="601.61" cy="110.69" r="1.3" fill="#f48585"/>
<circle cx="590.69" cy="105.11" r="1.3" fill="#f48585"/>
<circle cx="609.67" cy="115.69" r="1.3" fill="#f48585"/>
<circle cx="602.99" cy="119.70" r="1.3" fill="#f48585"/>
<circle cx="596.93" cy="98.69" r="1.3" fill="#f48585"/>
<circle cx="597.50" cy="117.70" r="1.3" fill="#f48585"/>
<circle cx="610.70" cy="112.63" r="1.3" fill="#f48585"/>
<circle cx="591.85" cy="111.45" r="1.3" fill="#f48585"/>
<circle cx="580.59" cy="116.79" r="1.3" fill="#f48585"/>
<circle cx="604.90" cy="120.22" r="1.3" fill="#f48585"/>
<circle cx="596.95" cy="101.04" r="1.3" fill="#f48585"/>
<circle cx="589.26" cy="114.60" r="1.3" fill="#f48585"/>
<circle cx="607.58" cy="112.32" r="1.3" fill="#f48585"/>
<circle cx="608.90" cy="108.96" r="1.3" fill="#f48585"/>
<circle cx="610.34" cy="112.56" r="1.3" fill="#f48585"/>
<circle cx="597.43" cy="116.07" r="1.3" fill="#f48585"/>
<circle cx="604.12" cy="122.97" r="1.3" fill="#f48585"/>
<circle cx="585.09" cy="113.31" r="1.3" fill="#f48585"/>
<circle cx="586.75" cy="123.74" r="1.3" fill="#f48585"/>
<circle cx="601.29" cy="113.95" r="1.3" fill="#f48585"/>
<circle cx="598.75" cy="97.54" r="1.3" fill="#f48585"/>
<circle cx="615.53" cy="115.63" r="1.3" fill="#f48585"/>
<circle cx="600.02" cy="112.89" r="1.3" fill="#f48585"/>
<circle cx="601.99" cy="120.69" r="1.3" fill="#f48585"/>
<circle cx="598.59" cy="96.03" r="1.3" fill="#f48585"/>
<circle cx="596.72" cy="100.66" r="1.3" fill="#f48585"/>
<circle cx="594.42" cy="98.66" r="1.3" fill="#f48585"/>
<circle cx="594.80" cy="111.81" r="1.3" fill="#f48585"/>
<circle cx="599.84" cy="114.03" r="1.3" fill="#f48585"/>
<circle cx="602.18" cy="127.40" r="1.3" fill="#f48585"/>
<circle cx="594.75" cy="106.45" r="1.3" fill="#f48585"/>
<circle cx="606.49" cy="115.04" r="1.3" fill="#f48585"/>
<circle cx="596.11" cy="97.03" r="1.3" fill="#f48585"/>
<circle cx="608.25" cy="107.20" r="1.3" fill="#f48585"/>
<circle cx="598.49" cy="119.32" r="1.3" fill="#f48585"/>
<circle cx="614.23" cy="111.29" r="1.3" fill="#f48585"/>
<circle cx="606.35" cy="115.61" r="1.3" fill="#f48585"/>
<circle cx="579.90" cy="116.70" r="1.3" fill="#f48585"/>
<circle cx="604.98" cy="110.85" r="1.3" fill="#f48585"/>
<circle cx="597.80" cy="101.62" r="1.3" fill="#f48585"/>
<circle cx="600.01" cy="116.24" r="1.3" fill="#f48585"/>
<circle cx="582.41" cy="110.51" r="1.3" fill="#f48585"/>
<circle cx="599.99" cy="132.73" r="1.3" fill="#f48585"/>
<circle cx="603.64" cy="102.84" r="1.3" fill="#f48585"/>
<circle cx="605.73" cy="116.40" r="1.3" fill="#f48585"/>
<circle cx="598.85" cy="116.78" r="1.3" fill="#f48585"/>
<circle cx="594.49" cy="132.97" r="1.3" fill="#f48585"/>
<circle cx="596.71" cy="96.83" r="1.3" fill="#f48585"/>
<circle cx="605.08" cy="125.99" r="1.3" fill="#f48585"/>
<circle cx="594.50" cy="112.06" r="1.3" fill="#f48585"/>
<circle cx="593.63" cy="125.19" r="1.3" fill="#f48585"/>
<circle cx="592.08" cy="110.57" r="1.3" fill="#f48585"/>
<circle cx="603.16" cy="117.18" r="1.3" fill="#f48585"/>
<circle cx="584.66" cy="115.29" r="1.3" fill="#f48585"/>
<circle cx="599.34" cy="101.10" r="1.3" fill="#f48585"/>
<circle cx="594.14" cy="102.96" r="1.3" fill="#f48585"/>
<circle cx="594.63" cy="106.33" r="1.3" fill="#f48585"/>
<circle cx="586.88" cy="121.62" r="1.3" fill="#f48585"/>
<circle cx="592.86" cy="117.64" r="1.3" fill="#f48585"/>
<circle cx="611.83" cy="109.40" r="1.3" fill="#f48585"/>
<circle cx="596.37" cy="100.33" r="1.3" fill="#f48585"/>
<circle cx="611.65" cy="118.99" r="1.3" fill="#f48585"/>
<circle cx="581.46" cy="116.09" r="1.3" fill="#f48585"/>
<circle cx="596.09" cy="99.59" r="1.3" fill="#f48585"/>
<circle cx="597.54" cy="130.14" r="1.3" fill="#f48585"/>
<circle cx="586.17" cy="115.43" r="1.3" fill="#f48585"/>
<circle cx="602.81" cy="120.41" r="1.3" fill="#f48585"/>
<circle cx="595.23" cy="107.51" r="1.3" fill="#f48585"/>
<circle cx="596.11" cy="107.03" r="1.3" fill="#f48585"/>
<circle cx="605.97" cy="117.53" r="1.3" fill="#f48585"/>
<circle cx="609.68" cy="107.21" r="1.3" fill="#f48585"/>
<circle cx="589.87" cy="113.99" r="1.3" fill="#f48585"/>
<circle cx="600.58" cy="108.15" r="1.3" fill="#f48585"/>
<circle cx="591.50" cy="112.34" r="1.3" fill="#f48585"/>
<circle cx="596.92" cy="98.22" r="1.3" fill="#f48585"/>
<circle cx="583.87" cy="116.71" r="1.3" fill="#f48585"/>
<circle cx="603.10" cy="118.67" r="1.3" fill="#f48585"/>
<circle cx="580.70" cy="114.00" r="1.3" fill="#f48585"/>
<circle cx="595.60" cy="133.41" r="1.3" fill="#f48585"/>
<circle cx="606.45" cy="107.58" r="1.3" fill="#f48585"/>
<circle cx="602.49" cy="101.41" r="1.3" fill="#f48585"/>
<circle cx="596.32" cy="103.84" r="1.3" fill="#f48585"/>
<circle cx="597.28" cy="127.51" r="1.3" fill="#f48585"/>
<circle cx="601.65" cy="112.38" r="1.3" fill="#f48585"/>
<circle cx="583.59" cy="115.30" r="1.3" fill="#f48585"/>
<circle cx="579.10" cy="113.60" r="1.3" fill="#f48585"/>
<circle cx="604.64" cy="106.86" r="1.3" fill="#f48585"/>
<circle cx="594.54" cy="113.69" r="1.3" fill="#f48585"/>
<circle cx="592.85" cy="112.78" r="1.3" fill="#f48585"/>
<circle cx="607.25" cy="118.76" r="1.3" fill="#f48585"/>
<circle cx="597.16" cy="112.26" r="1.3" fill="#f48585"/>
<circle cx="587.87" cy="122.08" r="1.3" fill="#f48585"/>
<circle cx="610.68" cy="116.77" r="1.3" fill="#f48585"/>
<circle cx="607.26" cy="110.59" r="1.3" fill="#f48585"/>
<circle cx="583.15" cy="119.56" r="1.3" fill="#f48585"/>
<circle cx="597.06" cy="102.81" r="1.3" fill="#f48585"/>
<circle cx="610.72" cy="117.45" r="1.3" fill="#f48585"/>
<circle cx="593.45" cy="102.21" r="1.3" fill="#f48585"/>
<circle cx="603.17" cy="126.52" r="1.3" fill="#f48585"/>
<circle cx="590.73" cy="112.81" r="1.3" fill="#f48585"/>
<circle cx="594.32" cy="104.73" r="1.3" fill="#f48585"/>
<circle cx="597.47" cy="123.16" r="1.3" fill="#f48585"/>
<circle cx="589.77" cy="112.62" r="1.3" fill="#f48585"/>
<circle cx="603.81" cy="125.58" r="1.3" fill="#f48585"/>
<circle cx="589.79" cy="124.38" r="1.3" fill="#f48585"/>
<circle cx="581.14" cy="120.03" r="1.3" fill="#f48585"/>
<circle cx="594.59" cy="118.90" r="1.3" fill="#f48585"/>
<circle cx="610.40" cy="118.38" r="1.3" fill="#f48585"/>
<circle cx="599.15" cy="102.20" r="1.3" fill="#f48585"/>
<circle cx="613.24" cy="114.09" r="1.3" fill="#f48585"/>
<circle cx="598.50" cy="122.87" r="1.3" fill="#f48585"/>
<circle cx="604.19" cy="104.12" r="1.3" fill="#f48585"/>
<circle cx="600.50" cy="122.17" r="1.3" fill="#f48585"/>
<circle cx="594.79" cy="99.11" r="1.3" fill="#f48585"/>
<circle cx="587.95" cy="112.61" r="1.3" fill="#f48585"/>
<circle cx="606.37" cy="117.77" r="1.3" fill="#f48585"/>
<circle cx="603.53" cy="120.24" r="1.3" fill="#f48585"/>
<circle cx="605.69" cy="108.66" r="1.3" fill="#f48585"/>
<circle cx="590.55" cy="104.73" r="1.3" fill="#f48585"/>
<circle cx="596.90" cy="117.99" r="1.3" fill="#f48585"/>
<circle cx="610.18" cy="114.39" r="1.3" fill="#f48585"/>
<circle cx="595.13" cy="130.45" r="1.3" fill="#f48585"/>
<circle cx="593.22" cy="116.89" r="1.3" fill="#f48585"/>
<circle cx="595.24" cy="121.41" r="1.3" fill="#f48585"/>
<circle cx="602.53" cy="106.68" r="1.3" fill="#f48585"/>
<circle cx="596.92" cy="106.33" r="1.3" fill="#f48585"/>
<circle cx="590.34" cy="104.85" r="1.3" fill="#f48585"/>
<circle cx="609.01" cy="115.13" r="1.3" fill="#f48585"/>
<circle cx="578.94" cy="113.31" r="1.3" fill="#f48585"/>
<circle cx="599.85" cy="128.17" r="1.3" fill="#f48585"/>
<circle cx="603.18" cy="117.70" r="1.3" fill="#f48585"/>
<circle cx="600.93" cy="99.35" r="1.3" fill="#f48585"/>
<circle cx="582.23" cy="117.60" r="1.3" fill="#f48585"/>
<circle cx="598.17" cy="99.03" r="1.3" fill="#f48585"/>
<circle cx="590.06" cy="109.16" r="1.3" fill="#f48585"/>
<circle cx="609.85" cy="117.72" r="1.3" fill="#f48585"/>
<circle cx="596.24" cy="110.39" r="1.3" fill="#f48585"/>
<circle cx="581.89" cy="112.60" r="1.3" fill="#f48585"/>
<circle cx="608.18" cy="117.14" r="1.3" fill="#f48585"/>
<circle cx="604.42" cy="106.64" r="1.3" fill="#f48585"/>
<circle cx="593.64" cy="112.60" r="1.3" fill="#f48585"/>
<circle cx="579.20" cy="118.19" r="1.3" fill="#f48585"/>
<circle cx="602.25" cy="120.12" r="1.3" fill="#f48585"/>
<circle cx="603.63" cy="119.30" r="1.3" fill="#f48585"/>
<circle cx="596.31" cy="127.09" r="1.3" fill="#f48585"/>
<circle cx="592.70" cy="122.40" r="1.3" fill="#f48585"/>
<circle cx="586.08" cy="114.69" r="1.3" fill="#f48585"/>
<circle cx="597.26" cy="101.98" r="1.3" fill="#f48585"/>
<circle cx="585.68" cy="107.22" r="1.3" fill="#f48585"/>
<circle cx="590.35" cy="121.71" r="1.3" fill="#f48585"/>
<circle cx="590.02" cy="121.36" r="1.3" fill="#f48585"/>
<circle cx="591.75" cy="112.02" r="1.3" fill="#f48585"/>
<circle cx="611.04" cy="109.74" r="1.3" fill="#f48585"/>
<circle cx="601.39" cy="126.18" r="1.3" fill="#f48585"/>
<circle cx="588.05" cy="115.32" r="1.3" fill="#f48585"/>
<circle cx="590.48" cy="110.08" r="1.3" fill="#f48585"/>
<circle cx="596.05" cy="108.48" r="1.3" fill="#f48585"/>
<circle cx="597.84" cy="106.70" r="1.3" fill="#f48585"/>
<circle cx="591.99" cy="104.44" r="1.3" fill="#f48585"/>
<circle cx="596.39" cy="104.72" r="1.3" fill="#f48585"/>
<circle cx="602.49" cy="123.81" r="1.3" fill="#f48585"/>
<circle cx="587.46" cy="123.81" r="1.3" fill="#f48585"/>
<circle cx="599.97" cy="103.22" r="1.3" fill="#f48585"/>
<circle cx="587.59" cy="107.36" r="1.3" fill="#f48585"/>
<circle cx="594.40" cy="131.21" r="1.3" fill="#f48585"/>
<circle cx="594.13" cy="99.49" r="1.3" fill="#f48585"/>
<circle cx="605.35" cy="121.63" r="1.3" fill="#f48585"/>
<circle cx="605.69" cy="111.09" r="1.3" fill="#f48585"/>
<circle cx="590.54" cy="107.29" r="1.3" fill="#f48585"/>
<circle cx="583.29" cy="117.23" r="1.3" fill="#f48585"/>
<circle cx="594.52" cy="120.55" r="1.3" fill="#f48585"/>
<circle cx="607.91" cy="121.45" r="1.3" fill="#f48585"/>
<circle cx="596.06" cy="106.78" r="1.3" fill="#f48585"/>
<circle cx="595.11" cy="111.13" r="1.3" fill="#f48585"/>
<circle cx="592.89" cy="123.39" r="1.3" fill="#f48585"/>
<circle cx="606.32" cy="112.54" r="1.3" fill="#f48585"/>
<circle cx="589.37" cy="114.69" r="1.3" fill="#f48585"/>
<circle cx="602.55" cy="129.44" r="1.3" fill="#f48585"/>
<circle cx="587.12" cy="125.35" r="1.3" fill="#f48585"/>
<circle cx="584.34" cy="113.69" r="1.3" fill="#f48585"/>
<circle cx="597.77" cy="96.31" r="1.3" fill="#f48585"/>
<circle cx="583.94" cy="109.77" r="1.3" fill="#f48585"/>
<circle cx="605.96" cy="109.01" r="1.3" fill="#f48585"/>
<circle cx="598.71" cy="106.87" r="1.3" fill="#f48585"/>
<circle cx="582.04" cy="118.21" r="1.3" fill="#f48585"/>
<circle cx="595.53" cy="111.27" r="1.3" fill="#f48585"/>
<circle cx="598.76" cy="101.31" r="1.3" fill="#f48585"/>
<circle cx="611.51" cy="119.16" r="1.3" fill="#f48585"/>
<circle cx="589.14" cy="115.29" r="1.3" fill="#f48585"/>
<circle cx="595.97" cy="110.67" r="1.3" fill="#f48585"/>
<circle cx="608.60" cy="112.59" r="1.3" fill="#f48585"/>
<circle cx="592.03" cy="123.60" r="1.3" fill="#f48585"/>
<circle cx="594.28" cy="127.89" r="1.3" fill="#f48585"/>
<circle cx="593.33" cy="130.60" r="1.3" fill="#f48585"/>
<circle cx="602.92" cy="109.18" r="1.3" fill="#f48585"/>
<circle cx="588.35" cy="122.24" r="1.3" fill="#f48585"/>
<circle cx="590.95" cy="128.06" r="1.3" fill="#f48585"/>
<circle cx="609.13" cy="122.50" r="1.3" fill="#f48585"/>
<circle cx="593.55" cy="99.21" r="1.3" fill="#f48585"/>
<circle cx="596.28" cy="133.36" r="1.3" fill="#f48585"/>
<circle cx="614.89" cy="113.57" r="1.3" fill="#f48585"/>
<circle cx="608.28" cy="108.50" r="1.3" fill="#f48585"/>
<circle cx="591.21" cy="113.61" r="1.3" fill="#f48585"/>
<circle cx="594.01" cy="124.04" r="1.3" fill="#f48585"/>
<circle cx="603.12" cy="110.09" r="1.3" fill="#f48585"/>
<circle cx="584.71" cy="121.66" r="1.3" fill="#f48585"/>
<circle cx="607.31" cy="113.62" r="1.3" fill="#f48585"/>
<circle cx="590.70" cy="106.43" r="1.3" fill="#f48585"/>
<circle cx="601.73" cy="103.49" r="1.3" fill="#f48585"/>
<circle cx="589.37" cy="124.13" r="1.3" fill="#f48585"/>
<circle cx="601.60" cy="112.72" r="1.3" fill="#f48585"/>
<circle cx="589.47" cy="114.26" r="1.3" fill="#f48585"/>
<circle cx="604.86" cy="111.96" r="1.3" fill="#f48585"/>
<circle cx="594.44" cy="110.07" r="1.3" fill="#f48585"/>
<circle cx="586.75" cy="124.60" r="1.3" fill="#f48585"/>
<circle cx="602.39" cy="101.99" r="1.3" fill="#f48585"/>
<circle cx="600.93" cy="123.27" r="1.3" fill="#f48585"/>
<circle cx="591.91" cy="105.61" r="1.3" fill="#f48585"/>
<circle cx="599.60" cy="105.53" r="1.3" fill="#f48585"/>
<circle cx="593.77" cy="100.73" r="1.3" fill="#f48585"/>
<circle cx="605.81" cy="112.03" r="1.3" fill="#f48585"/>
<circle cx="593.54" cy="99.50" r="1.3" fill="#f48585"/>
<circle cx="607.56" cy="123.74" r="1.3" fill="#f48585"/>
<circle cx="599.22" cy="112.62" r="1.3" fill="#f48585"/>
<circle cx="607.06" cy="108.10" r="1.3" fill="#f48585"/>
<circle cx="590.73" cy="126.90" r="1.3" fill="#f48585"/>
<circle cx="599.56" cy="97.71" r="1.3" fill="#f48585"/>
<circle cx="596.09" cy="59.24" r="1.3" fill="#f48585"/>
<circle cx="597.22" cy="64.01" r="1.3" fill="#f48585"/>
<circle cx="597.76" cy="67.09" r="1.3" fill="#f48585"/>
<circle cx="597.58" cy="72.70" r="1.3" fill="#f48585"/>
<circle cx="598.07" cy="76.06" r="1.3" fill="#f48585"/>
<circle cx="597.58" cy="79.99" r="1.3" fill="#f48585"/>
<circle cx="597.52" cy="82.23" r="1.3" fill="#f48585"/>
<circle cx="597.46" cy="85.88" r="1.3" fill="#f48585"/>
<circle cx="596.40" cy="88.40" r="1.3" fill="#f48585"/>
<circle cx="598.05" cy="90.64" r="1.3" fill="#f48585"/>
<circle cx="597.24" cy="92.61" r="1.3" fill="#f48585"/>
<circle cx="596.05" cy="94.01" r="1.3" fill="#f48585"/>
<circle cx="597.97" cy="136.91" r="1.3" fill="#f48585"/>
<circle cx="597.65" cy="138.59" r="1.3" fill="#f48585"/>
<circle cx="597.58" cy="142.24" r="1.3" fill="#f48585"/>
<circle cx="596.12" cy="143.92" r="1.3" fill="#f48585"/>
<circle cx="597.69" cy="145.60" r="1.3" fill="#f48585"/>
<circle cx="596.81" cy="150.65" r="1.3" fill="#f48585"/>
<circle cx="597.95" cy="151.77" r="1.3" fill="#f48585"/>
<circle cx="596.37" cy="155.98" r="1.3" fill="#f48585"/>
<line x1="578.00" y1="115.30" x2="616.50" y2="115.30" stroke="#222" stroke-width="1.1" stroke-dasharray="5,2.5,3,3" opacity="0.85"/>
<line x1="519.20" y1="128.70" x2="558.20" y2="128.70" stroke="#222" stroke-width="1.2" />
<line x1="528.90" y1="118.50" x2="548.30" y2="118.50" stroke="#222" stroke-width="1.2" />
<line x1="528.90" y1="139.60" x2="548.30" y2="139.60" stroke="#222" stroke-width="1.2" />
<line x1="538.80" y1="118.50" x2="538.80" y2="139.60" stroke="#222" stroke-width="1.2" />
<text x="8.80" y="228.60" font-size="16.5" fill="#000" text-anchor="start" font-weight="normal"  style="">C</text>
<text x="126.70" y="235.00" font-size="13.5" fill="#000" text-anchor="middle" font-weight="normal"  style="">GSE7803</text>
<line x1="67.60" y1="245.00" x2="67.60" y2="384.60" stroke="#151515" stroke-width="1.4" />
<line x1="67.60" y1="384.10" x2="193.90" y2="384.10" stroke="#151515" stroke-width="1.4" />
<line x1="63.60" y1="384.10" x2="67.60" y2="384.10" stroke="#151515" stroke-width="1" />
<text x="63.20" y="387.00" font-size="8.2" fill="#222" text-anchor="end" font-weight="bold"  style="">11</text>
<line x1="63.60" y1="349.40" x2="67.60" y2="349.40" stroke="#151515" stroke-width="1" />
<text x="63.20" y="352.30" font-size="8.2" fill="#222" text-anchor="end" font-weight="bold"  style="">12</text>
<line x1="63.60" y1="314.70" x2="67.60" y2="314.70" stroke="#151515" stroke-width="1" />
<text x="63.20" y="317.60" font-size="8.2" fill="#222" text-anchor="end" font-weight="bold"  style="">13</text>
<line x1="63.60" y1="280.00" x2="67.60" y2="280.00" stroke="#151515" stroke-width="1" />
<text x="63.20" y="282.90" font-size="8.2" fill="#222" text-anchor="end" font-weight="bold"  style="">14</text>
<line x1="63.60" y1="245.30" x2="67.60" y2="245.30" stroke="#151515" stroke-width="1" />
<text x="63.20" y="248.20" font-size="8.2" fill="#222" text-anchor="end" font-weight="bold"  style="">15</text>
<line x1="99.40" y1="384.10" x2="99.40" y2="387.70" stroke="#151515" stroke-width="1" />
<line x1="162.20" y1="384.10" x2="162.20" y2="387.70" stroke="#151515" stroke-width="1" />
<text x="97.40" y="407.80" font-size="13.2" fill="#000" text-anchor="middle" font-weight="normal"  style="">Normal</text>
<text x="154.50" y="407.80" font-size="13.2" fill="#000" text-anchor="middle" font-weight="normal"  style="">Tumor</text>
<line x1="99.20" y1="267.50" x2="162.80" y2="267.50" stroke="#000" stroke-width="1.4" />
<text x="131.50" y="258.32" font-size="20" fill="#000" text-anchor="middle" font-weight="normal" stroke="#000" stroke-width="0.25" style="">*</text>
<text x="0" y="0" font-size="13.4" text-anchor="middle" transform="translate(26.00,316.80) rotate(-90)">Normalized probe</text>
<text x="0" y="0" font-size="13.7" text-anchor="middle" transform="translate(42.60,316.80) rotate(-90)">HNRNPC (log2)</text>
<circle cx="99.50" cy="314.40" r="2.1" fill="#4a9bff"/>
<circle cx="91.10" cy="322.30" r="2.1" fill="#4a9bff"/>
<circle cx="94.20" cy="325.00" r="2.1" fill="#4a9bff"/>
<circle cx="98.10" cy="328.70" r="2.1" fill="#4a9bff"/>
<circle cx="102.10" cy="331.30" r="2.1" fill="#4a9bff"/>
<circle cx="104.30" cy="322.30" r="2.1" fill="#4a9bff"/>
<circle cx="108.20" cy="322.30" r="2.1" fill="#4a9bff"/>
<circle cx="96.60" cy="335.70" r="2.1" fill="#4a9bff"/>
<rect x="157.85" y="287.85" width="3.70" height="3.70" fill="#f58787" />
<rect x="162.95" y="286.35" width="3.70" height="3.70" fill="#f58787" />
<rect x="149.75" y="302.75" width="3.70" height="3.70" fill="#f58787" />
<rect x="155.25" y="306.05" width="3.70" height="3.70" fill="#f58787" />
<rect x="157.85" y="301.15" width="3.70" height="3.70" fill="#f58787" />
<rect x="163.35" y="300.65" width="3.70" height="3.70" fill="#f58787" />
<rect x="166.45" y="307.65" width="3.70" height="3.70" fill="#f58787" />
<rect x="168.55" y="306.15" width="3.70" height="3.70" fill="#f58787" />
<rect x="173.65" y="304.75" width="3.70" height="3.70" fill="#f58787" />
<rect x="155.25" y="312.15" width="3.70" height="3.70" fill="#f58787" />
<rect x="160.35" y="312.15" width="3.70" height="3.70" fill="#f58787" />
<rect x="155.25" y="318.45" width="3.70" height="3.70" fill="#f58787" />
<rect x="165.85" y="318.85" width="3.70" height="3.70" fill="#f58787" />
<rect x="157.85" y="322.95" width="3.70" height="3.70" fill="#f58787" />
<rect x="162.95" y="326.05" width="3.70" height="3.70" fill="#f58787" />
<rect x="160.35" y="332.15" width="3.70" height="3.70" fill="#f58787" />
<rect x="157.85" y="335.85" width="3.70" height="3.70" fill="#f58787" />
<rect x="162.95" y="340.35" width="3.70" height="3.70" fill="#f58787" />
<rect x="160.35" y="349.15" width="3.70" height="3.70" fill="#f58787" />
<line x1="78.80" y1="324.70" x2="120.30" y2="324.70" stroke="#000" stroke-width="1.6" />
<line x1="89.20" y1="318.90" x2="109.70" y2="318.90" stroke="#000" stroke-width="1.6" />
<line x1="89.20" y1="330.60" x2="109.70" y2="330.60" stroke="#000" stroke-width="1.6" />
<line x1="99.40" y1="318.90" x2="99.40" y2="330.60" stroke="#000" stroke-width="1.6" />
<line x1="141.70" y1="316.00" x2="183.00" y2="316.00" stroke="#000" stroke-width="1.6" />
<line x1="152.40" y1="299.90" x2="172.40" y2="299.90" stroke="#000" stroke-width="1.6" />
<line x1="152.40" y1="332.40" x2="172.40" y2="332.40" stroke="#000" stroke-width="1.6" />
<line x1="162.20" y1="299.90" x2="162.20" y2="332.40" stroke="#000" stroke-width="1.6" />
<text x="249.20" y="229.70" font-size="15.5" fill="#000" text-anchor="start" font-weight="normal"  style="">D</text>
<text x="353.90" y="235.00" font-size="13.5" fill="#000" text-anchor="middle" font-weight="normal"  style="">GSE6791</text>
<line x1="286.50" y1="241.70" x2="286.50" y2="384.50" stroke="#151515" stroke-width="1.4" />
<line x1="286.50" y1="384.00" x2="416.40" y2="384.00" stroke="#151515" stroke-width="1.4" />
<line x1="282.50" y1="384.00" x2="286.50" y2="384.00" stroke="#151515" stroke-width="1" />
<text x="282.10" y="386.90" font-size="8.2" fill="#222" text-anchor="end" font-weight="bold"  style="">10</text>
<line x1="282.50" y1="348.50" x2="286.50" y2="348.50" stroke="#151515" stroke-width="1" />
<text x="282.10" y="351.40" font-size="8.2" fill="#222" text-anchor="end" font-weight="bold"  style="">11</text>
<line x1="282.50" y1="313.00" x2="286.50" y2="313.00" stroke="#151515" stroke-width="1" />
<text x="282.10" y="315.90" font-size="8.2" fill="#222" text-anchor="end" font-weight="bold"  style="">12</text>
<line x1="282.50" y1="277.50" x2="286.50" y2="277.50" stroke="#151515" stroke-width="1" />
<text x="282.10" y="280.40" font-size="8.2" fill="#222" text-anchor="end" font-weight="bold"  style="">13</text>
<line x1="282.50" y1="242.00" x2="286.50" y2="242.00" stroke="#151515" stroke-width="1" />
<text x="282.10" y="244.90" font-size="8.2" fill="#222" text-anchor="end" font-weight="bold"  style="">14</text>
<line x1="319.70" y1="384.00" x2="319.70" y2="387.60" stroke="#151515" stroke-width="1" />
<line x1="383.80" y1="384.00" x2="383.80" y2="387.60" stroke="#151515" stroke-width="1" />
<text x="323.00" y="411.00" font-size="13.2" fill="#000" text-anchor="middle" font-weight="normal"  style="">Normal</text>
<text x="381.30" y="411.00" font-size="13.2" fill="#000" text-anchor="middle" font-weight="normal"  style="">Tumor</text>
<line x1="324.20" y1="267.90" x2="387.00" y2="267.90" stroke="#111" stroke-width="1.6" />
<text x="340.70" y="262.12" font-size="20" fill="#000" text-anchor="middle" font-weight="normal" stroke="#000" stroke-width="0.25" style="">*</text>
<text x="350.90" y="262.12" font-size="20" fill="#000" text-anchor="middle" font-weight="normal" stroke="#000" stroke-width="0.25" style="">*</text>
<text x="361.10" y="262.12" font-size="20" fill="#000" text-anchor="middle" font-weight="normal" stroke="#000" stroke-width="0.25" style="">*</text>
<text x="0" y="0" font-size="13.4" text-anchor="middle" transform="translate(243.10,325.10) rotate(-90)">Normalized probe</text>
<text x="0" y="0" font-size="13.9" text-anchor="middle" transform="translate(261.20,326.80) rotate(-90)">HNRNPC(log2)</text>
<circle cx="319.40" cy="310.60" r="2.1" fill="#4a9bff"/>
<circle cx="322.30" cy="331.10" r="2.1" fill="#4a9bff"/>
<circle cx="316.60" cy="334.00" r="2.1" fill="#4a9bff"/>
<circle cx="316.60" cy="342.50" r="2.1" fill="#4a9bff"/>
<circle cx="325.10" cy="345.50" r="2.1" fill="#4a9bff"/>
<circle cx="322.60" cy="347.80" r="2.1" fill="#4a9bff"/>
<circle cx="316.60" cy="352.50" r="2.1" fill="#4a9bff"/>
<circle cx="319.40" cy="321.60" r="2.1" fill="#4a9bff"/>
<rect x="384.95" y="282.15" width="3.70" height="3.70" fill="#f58787" />
<rect x="379.25" y="285.95" width="3.70" height="3.70" fill="#f58787" />
<rect x="387.75" y="290.95" width="3.70" height="3.70" fill="#f58787" />
<rect x="376.15" y="291.15" width="3.70" height="3.70" fill="#f58787" />
<rect x="363.15" y="296.05" width="3.70" height="3.70" fill="#f58787" />
<rect x="368.85" y="297.95" width="3.70" height="3.70" fill="#f58787" />
<rect x="374.55" y="298.55" width="3.70" height="3.70" fill="#f58787" />
<rect x="381.15" y="295.15" width="3.70" height="3.70" fill="#f58787" />
<rect x="390.65" y="298.55" width="3.70" height="3.70" fill="#f58787" />
<rect x="395.35" y="296.95" width="3.70" height="3.70" fill="#f58787" />
<rect x="400.55" y="296.05" width="3.70" height="3.70" fill="#f58787" />
<rect x="376.45" y="305.55" width="3.70" height="3.70" fill="#f58787" />
<rect x="386.85" y="306.15" width="3.70" height="3.70" fill="#f58787" />
<rect x="373.55" y="312.75" width="3.70" height="3.70" fill="#f58787" />
<rect x="379.25" y="316.55" width="3.70" height="3.70" fill="#f58787" />
<rect x="384.95" y="313.65" width="3.70" height="3.70" fill="#f58787" />
<rect x="390.65" y="312.15" width="3.70" height="3.70" fill="#f58787" />
<rect x="382.05" y="303.15" width="3.70" height="3.70" fill="#f58787" />
<line x1="298.00" y1="335.80" x2="340.90" y2="335.80" stroke="#000" stroke-width="1.6" />
<line x1="308.60" y1="321.60" x2="330.20" y2="321.60" stroke="#000" stroke-width="1.6" />
<line x1="308.60" y1="350.10" x2="330.20" y2="350.10" stroke="#000" stroke-width="1.6" />
<line x1="319.40" y1="321.60" x2="319.40" y2="350.10" stroke="#000" stroke-width="1.6" />
<line x1="362.50" y1="302.20" x2="404.80" y2="302.20" stroke="#000" stroke-width="1.6" />
<line x1="373.50" y1="292.80" x2="394.40" y2="292.80" stroke="#000" stroke-width="1.6" />
<line x1="373.50" y1="311.70" x2="394.40" y2="311.70" stroke="#000" stroke-width="1.6" />
<line x1="383.90" y1="292.80" x2="383.90" y2="311.70" stroke="#000" stroke-width="1.6" />
<text x="449.00" y="228.90" font-size="15.5" fill="#000" text-anchor="start" font-weight="normal"  style="">E</text>
<text x="577.20" y="228.60" font-size="13.5" fill="#000" text-anchor="middle" font-weight="normal"  style="">GSE63514</text>
<line x1="512.00" y1="233.00" x2="512.00" y2="382.70" stroke="#151515" stroke-width="1.4" />
<line x1="512.00" y1="382.20" x2="648.50" y2="382.20" stroke="#151515" stroke-width="1.4" />
<line x1="508.00" y1="382.20" x2="512.00" y2="382.20" stroke="#151515" stroke-width="1" />
<text x="507.60" y="385.10" font-size="8.2" fill="#222" text-anchor="end" font-weight="bold"  style="">12</text>
<line x1="508.00" y1="332.60" x2="512.00" y2="332.60" stroke="#151515" stroke-width="1" />
<text x="507.60" y="335.50" font-size="8.2" fill="#222" text-anchor="end" font-weight="bold"  style="">13</text>
<line x1="508.00" y1="283.00" x2="512.00" y2="283.00" stroke="#151515" stroke-width="1" />
<text x="507.60" y="285.90" font-size="8.2" fill="#222" text-anchor="end" font-weight="bold"  style="">14</text>
<line x1="508.00" y1="233.40" x2="512.00" y2="233.40" stroke="#151515" stroke-width="1" />
<text x="507.60" y="236.30" font-size="8.2" fill="#222" text-anchor="end" font-weight="bold"  style="">15</text>
<line x1="546.00" y1="382.20" x2="546.00" y2="385.80" stroke="#151515" stroke-width="1" />
<line x1="613.90" y1="382.20" x2="613.90" y2="385.80" stroke="#151515" stroke-width="1" />
<rect x="509.10" y="230.20" width="6.10" height="5.60" fill="#000" />
<rect x="509.10" y="380.30" width="6.10" height="6.20" fill="#000" />
<rect x="509.60" y="381.90" width="5.10" height="1.20" fill="#fff" />
<text x="546.40" y="407.20" font-size="13.2" fill="#000" text-anchor="middle" font-weight="normal"  style="">Normal</text>
<text x="602.90" y="407.20" font-size="13.2" fill="#000" text-anchor="middle" font-weight="normal"  style="">Tumor</text>
<line x1="547.00" y1="263.50" x2="610.20" y2="263.50" stroke="#000" stroke-width="1.4" />
<text x="562.30" y="260.82" font-size="20" fill="#000" text-anchor="middle" font-weight="normal" stroke="#000" stroke-width="0.25" style="">*</text>
<text x="572.50" y="260.82" font-size="20" fill="#000" text-anchor="middle" font-weight="normal" stroke="#000" stroke-width="0.25" style="">*</text>
<text x="582.70" y="260.82" font-size="20" fill="#000" text-anchor="middle" font-weight="normal" stroke="#000" stroke-width="0.25" style="">*</text>
<text x="0" y="0" font-size="13.4" text-anchor="middle" transform="translate(468.60,322.80) rotate(-90)">Normalized probe</text>
<text x="0" y="0" font-size="13.9" text-anchor="middle" transform="translate(484.60,326.00) rotate(-90)">HNRNPC(log2)</text>
<circle cx="546.00" cy="302.10" r="2.1" fill="#4a9bff"/>
<circle cx="534.60" cy="311.00" r="2.1" fill="#4a9bff"/>
<circle cx="540.50" cy="312.60" r="2.1" fill="#4a9bff"/>
<circle cx="551.90" cy="311.00" r="2.1" fill="#4a9bff"/>
<circle cx="557.60" cy="309.70" r="2.1" fill="#4a9bff"/>
<circle cx="528.50" cy="319.20" r="2.1" fill="#4a9bff"/>
<circle cx="534.60" cy="320.70" r="2.1" fill="#4a9bff"/>
<circle cx="549.30" cy="322.40" r="2.1" fill="#4a9bff"/>
<circle cx="554.70" cy="319.80" r="2.1" fill="#4a9bff"/>
<circle cx="560.70" cy="318.70" r="2.1" fill="#4a9bff"/>
<circle cx="537.70" cy="325.70" r="2.1" fill="#4a9bff"/>
<circle cx="554.70" cy="327.50" r="2.1" fill="#4a9bff"/>
<circle cx="543.40" cy="330.50" r="2.1" fill="#4a9bff"/>
<circle cx="549.30" cy="330.10" r="2.1" fill="#4a9bff"/>
<circle cx="554.70" cy="334.50" r="2.1" fill="#4a9bff"/>
<circle cx="534.60" cy="338.90" r="2.1" fill="#4a9bff"/>
<circle cx="543.40" cy="343.20" r="2.1" fill="#4a9bff"/>
<circle cx="549.30" cy="347.20" r="2.1" fill="#4a9bff"/>
<circle cx="546.00" cy="357.00" r="2.1" fill="#4a9bff"/>
<circle cx="540.50" cy="338.50" r="2.1" fill="#4a9bff"/>
<circle cx="546.00" cy="318.00" r="2.1" fill="#4a9bff"/>
<rect x="612.05" y="268.45" width="3.70" height="3.70" fill="#f58787" />
<rect x="612.05" y="275.05" width="3.70" height="3.70" fill="#f58787" />
<rect x="594.45" y="282.75" width="3.70" height="3.70" fill="#f58787" />
<rect x="600.45" y="285.55" width="3.70" height="3.70" fill="#f58787" />
<rect x="606.15" y="286.65" width="3.70" height="3.70" fill="#f58787" />
<rect x="614.85" y="281.15" width="3.70" height="3.70" fill="#f58787" />
<rect x="618.15" y="287.35" width="3.70" height="3.70" fill="#f58787" />
<rect x="623.65" y="286.25" width="3.70" height="3.70" fill="#f58787" />
<rect x="629.55" y="284.65" width="3.70" height="3.70" fill="#f58787" />
<rect x="597.35" y="292.15" width="3.70" height="3.70" fill="#f58787" />
<rect x="603.25" y="293.25" width="3.70" height="3.70" fill="#f58787" />
<rect x="609.15" y="294.35" width="3.70" height="3.70" fill="#f58787" />
<rect x="618.15" y="296.55" width="3.70" height="3.70" fill="#f58787" />
<rect x="623.65" y="293.25" width="3.70" height="3.70" fill="#f58787" />
<rect x="629.55" y="293.25" width="3.70" height="3.70" fill="#f58787" />
<rect x="614.85" y="301.95" width="3.70" height="3.70" fill="#f58787" />
<rect x="609.15" y="306.35" width="3.70" height="3.70" fill="#f58787" />
<rect x="612.05" y="312.95" width="3.70" height="3.70" fill="#f58787" />
<rect x="620.75" y="314.65" width="3.70" height="3.70" fill="#f58787" />
<rect x="603.25" y="317.35" width="3.70" height="3.70" fill="#f58787" />
<rect x="609.15" y="319.45" width="3.70" height="3.70" fill="#f58787" />
<rect x="614.85" y="318.85" width="3.70" height="3.70" fill="#f58787" />
<rect x="612.05" y="329.35" width="3.70" height="3.70" fill="#f58787" />
<rect x="612.05" y="347.25" width="3.70" height="3.70" fill="#f58787" />
<rect x="612.05" y="361.05" width="3.70" height="3.70" fill="#f58787" />
<rect x="612.05" y="369.15" width="3.70" height="3.70" fill="#f58787" />
<line x1="524.10" y1="326.20" x2="568.50" y2="326.20" stroke="#000" stroke-width="1.6" />
<line x1="535.00" y1="312.60" x2="557.40" y2="312.60" stroke="#000" stroke-width="1.6" />
<line x1="535.00" y1="339.70" x2="557.40" y2="339.70" stroke="#000" stroke-width="1.6" />
<line x1="546.00" y1="312.60" x2="546.00" y2="339.70" stroke="#000" stroke-width="1.6" />
<line x1="592.00" y1="303.70" x2="636.70" y2="303.70" stroke="#000" stroke-width="1.6" />
<line x1="602.70" y1="278.70" x2="625.30" y2="278.70" stroke="#000" stroke-width="1.6" />
<line x1="602.70" y1="328.80" x2="625.30" y2="328.80" stroke="#000" stroke-width="1.6" />
<line x1="613.90" y1="278.70" x2="613.90" y2="328.80" stroke="#000" stroke-width="1.6" />
<text x="13.80" y="448.20" font-size="15" fill="#000" text-anchor="start" font-weight="normal"  style="">F</text>
<text x="144.40" y="447.60" font-size="13.6" fill="#000" text-anchor="middle" font-weight="normal"  style="">Local cohort</text>
<line x1="66.10" y1="467.80" x2="66.10" y2="588.40" stroke="#151515" stroke-width="1.4" />
<line x1="66.10" y1="587.90" x2="208.90" y2="587.90" stroke="#151515" stroke-width="1.4" />
<line x1="62.10" y1="468.16" x2="66.10" y2="468.16" stroke="#151515" stroke-width="1" />
<text x="61.70" y="471.06" font-size="8.2" fill="#222" text-anchor="end" font-weight="bold"  style="">8</text>
<line x1="62.10" y1="492.12" x2="66.10" y2="492.12" stroke="#151515" stroke-width="1" />
<text x="61.70" y="495.02" font-size="8.2" fill="#222" text-anchor="end" font-weight="bold"  style="">6</text>
<line x1="62.10" y1="516.08" x2="66.10" y2="516.08" stroke="#151515" stroke-width="1" />
<text x="61.70" y="518.98" font-size="8.2" fill="#222" text-anchor="end" font-weight="bold"  style="">4</text>
<line x1="62.10" y1="540.04" x2="66.10" y2="540.04" stroke="#151515" stroke-width="1" />
<text x="61.70" y="542.94" font-size="8.2" fill="#222" text-anchor="end" font-weight="bold"  style="">2</text>
<line x1="62.10" y1="564.00" x2="66.10" y2="564.00" stroke="#151515" stroke-width="1" />
<text x="61.70" y="566.90" font-size="8.2" fill="#222" text-anchor="end" font-weight="bold"  style="">0</text>
<line x1="62.10" y1="587.96" x2="66.10" y2="587.96" stroke="#151515" stroke-width="1" />
<text x="61.70" y="590.86" font-size="8.2" fill="#222" text-anchor="end" font-weight="bold"  style="">-2</text>
<line x1="111.50" y1="587.90" x2="111.50" y2="591.50" stroke="#151515" stroke-width="1" />
<line x1="179.30" y1="587.90" x2="179.30" y2="591.50" stroke="#151515" stroke-width="1" />
<text x="108.60" y="606.30" font-size="13.4" fill="#000" text-anchor="middle" font-weight="normal"  style="">Adjacent</text>
<text x="176.80" y="606.30" font-size="13.4" fill="#000" text-anchor="middle" font-weight="normal"  style="">Tumor</text>
<line x1="108.40" y1="474.50" x2="180.40" y2="474.50" stroke="#000" stroke-width="1.4" />
<text x="130.80" y="474.52" font-size="20" fill="#000" text-anchor="middle" font-weight="normal" stroke="#000" stroke-width="0.25" style="">*</text>
<text x="141.00" y="474.52" font-size="20" fill="#000" text-anchor="middle" font-weight="normal" stroke="#000" stroke-width="0.25" style="">*</text>
<text x="151.20" y="474.52" font-size="20" fill="#000" text-anchor="middle" font-weight="normal" stroke="#000" stroke-width="0.25" style="">*</text>
<text x="0" y="0" font-size="13.8" text-anchor="start" transform="translate(28.90,587.00) rotate(-90)">Relative expression</text>
<text x="0" y="0" font-size="13.6" text-anchor="start" transform="translate(47.00,582.00) rotate(-90)">of HNRNPC</text>
<line x1="111.50" y1="499.31" x2="179.30" y2="490.92" stroke="#222" stroke-width="0.75" />
<line x1="111.50" y1="504.10" x2="179.30" y2="514.88" stroke="#222" stroke-width="0.75" />
<line x1="111.50" y1="506.50" x2="179.30" y2="517.88" stroke="#222" stroke-width="0.75" />
<line x1="111.50" y1="514.88" x2="179.30" y2="494.52" stroke="#222" stroke-width="0.75" />
<line x1="111.50" y1="516.68" x2="179.30" y2="496.91" stroke="#222" stroke-width="0.75" />
<line x1="111.50" y1="518.48" x2="179.30" y2="499.31" stroke="#222" stroke-width="0.75" />
<line x1="111.50" y1="520.27" x2="179.30" y2="493.32" stroke="#222" stroke-width="0.75" />
<line x1="111.50" y1="522.07" x2="179.30" y2="501.70" stroke="#222" stroke-width="0.75" />
<line x1="111.50" y1="530.46" x2="179.30" y2="512.49" stroke="#222" stroke-width="0.75" />
<line x1="111.50" y1="532.25" x2="179.30" y2="504.10" stroke="#222" stroke-width="0.75" />
<line x1="111.50" y1="534.05" x2="179.30" y2="505.30" stroke="#222" stroke-width="0.75" />
<line x1="111.50" y1="536.45" x2="179.30" y2="483.73" stroke="#222" stroke-width="0.75" />
<line x1="111.50" y1="552.02" x2="179.30" y2="513.68" stroke="#222" stroke-width="0.75" />
<line x1="111.50" y1="564.00" x2="179.30" y2="553.82" stroke="#222" stroke-width="0.75" />
<line x1="111.50" y1="516.08" x2="179.30" y2="492.12" stroke="#222" stroke-width="0.75" />
<circle cx="111.50" cy="499.31" r="2.2" fill="#4a9bff"/>
<circle cx="179.30" cy="490.92" r="2.2" fill="#f5861f"/>
<circle cx="111.50" cy="504.10" r="2.2" fill="#4a9bff"/>
<circle cx="179.30" cy="514.88" r="2.2" fill="#f5861f"/>
<circle cx="111.50" cy="506.50" r="2.2" fill="#4a9bff"/>
<circle cx="179.30" cy="517.88" r="2.2" fill="#f5861f"/>
<circle cx="111.50" cy="514.88" r="2.2" fill="#4a9bff"/>
<circle cx="179.30" cy="494.52" r="2.2" fill="#f5861f"/>
<circle cx="111.50" cy="516.68" r="2.2" fill="#4a9bff"/>
<circle cx="179.30" cy="496.91" r="2.2" fill="#f5861f"/>
<circle cx="111.50" cy="518.48" r="2.2" fill="#4a9bff"/>
<circle cx="179.30" cy="499.31" r="2.2" fill="#f5861f"/>
<circle cx="111.50" cy="520.27" r="2.2" fill="#4a9bff"/>
<circle cx="179.30" cy="493.32" r="2.2" fill="#f5861f"/>
<circle cx="111.50" cy="522.07" r="2.2" fill="#4a9bff"/>
<circle cx="179.30" cy="501.70" r="2.2" fill="#f5861f"/>
<circle cx="111.50" cy="530.46" r="2.2" fill="#4a9bff"/>
<circle cx="179.30" cy="512.49" r="2.2" fill="#f5861f"/>
<circle cx="111.50" cy="532.25" r="2.2" fill="#4a9bff"/>
<circle cx="179.30" cy="504.10" r="2.2" fill="#f5861f"/>
<circle cx="111.50" cy="534.05" r="2.2" fill="#4a9bff"/>
<circle cx="179.30" cy="505.30" r="2.2" fill="#f5861f"/>
<circle cx="111.50" cy="536.45" r="2.2" fill="#4a9bff"/>
<circle cx="179.30" cy="483.73" r="2.2" fill="#f5861f"/>
<circle cx="111.50" cy="552.02" r="2.2" fill="#4a9bff"/>
<circle cx="179.30" cy="513.68" r="2.2" fill="#f5861f"/>
<circle cx="111.50" cy="564.00" r="2.2" fill="#4a9bff"/>
<circle cx="179.30" cy="553.82" r="2.2" fill="#f5861f"/>
<circle cx="111.50" cy="516.08" r="2.2" fill="#4a9bff"/>
<circle cx="179.30" cy="492.12" r="2.2" fill="#f5861f"/>
<text x="253.60" y="443.00" font-size="15.5" fill="#000" text-anchor="start" font-weight="normal"  style="">G</text>
<text x="345.30" y="447.40" font-size="13.6" fill="#000" text-anchor="middle" font-weight="normal"  style="">Local cohort</text>
<line x1="264.70" y1="468.90" x2="264.70" y2="588.70" stroke="#151515" stroke-width="1.4" />
<line x1="264.70" y1="588.20" x2="432.00" y2="588.20" stroke="#151515" stroke-width="1.4" />
<line x1="260.70" y1="469.22" x2="264.70" y2="469.22" stroke="#151515" stroke-width="1" />
<text x="260.30" y="472.12" font-size="8.2" fill="#222" text-anchor="end" font-weight="bold"  style="">6</text>
<line x1="260.70" y1="508.88" x2="264.70" y2="508.88" stroke="#151515" stroke-width="1" />
<text x="260.30" y="511.78" font-size="8.2" fill="#222" text-anchor="end" font-weight="bold"  style="">4</text>
<line x1="260.70" y1="548.54" x2="264.70" y2="548.54" stroke="#151515" stroke-width="1" />
<text x="260.30" y="551.44" font-size="8.2" fill="#222" text-anchor="end" font-weight="bold"  style="">2</text>
<line x1="260.70" y1="588.20" x2="264.70" y2="588.20" stroke="#151515" stroke-width="1" />
<text x="260.30" y="591.10" font-size="8.2" fill="#222" text-anchor="end" font-weight="bold"  style="">0</text>
<line x1="298.10" y1="588.20" x2="298.10" y2="591.80" stroke="#151515" stroke-width="1" />
<line x1="347.50" y1="588.20" x2="347.50" y2="591.80" stroke="#151515" stroke-width="1" />
<line x1="397.40" y1="588.20" x2="397.40" y2="591.80" stroke="#151515" stroke-width="1" />
<text x="298.40" y="608.70" font-size="13.6" fill="#000" text-anchor="middle" font-weight="normal"  style="">Normal</text>
<text x="348.30" y="609.20" font-size="13.4" fill="#000" text-anchor="middle" font-weight="normal"  style="">LN-</text>
<text x="400.10" y="609.20" font-size="13.4" fill="#000" text-anchor="middle" font-weight="normal"  style="">LN+</text>
<line x1="292.80" y1="486.90" x2="348.70" y2="486.90" stroke="#1a1a1a" stroke-width="1.6" />
<line x1="344.60" y1="478.00" x2="399.80" y2="478.00" stroke="#1a1a1a" stroke-width="1.6" />
<text x="305.20" y="485.22" font-size="20" fill="#000" text-anchor="middle" font-weight="normal" stroke="#000" stroke-width="0.25" style="">*</text>
<text x="315.40" y="485.22" font-size="20" fill="#000" text-anchor="middle" font-weight="normal" stroke="#000" stroke-width="0.25" style="">*</text>
<text x="325.60" y="485.22" font-size="20" fill="#000" text-anchor="middle" font-weight="normal" stroke="#000" stroke-width="0.25" style="">*</text>
<text x="358.80" y="479.72" font-size="20" fill="#000" text-anchor="middle" font-weight="normal" stroke="#000" stroke-width="0.25" style="">*</text>
<text x="369.00" y="479.72" font-size="20" fill="#000" text-anchor="middle" font-weight="normal" stroke="#000" stroke-width="0.25" style="">*</text>
<text x="379.20" y="479.72" font-size="20" fill="#000" text-anchor="middle" font-weight="normal" stroke="#000" stroke-width="0.25" style="">*</text>
<text x="0" y="0" font-size="13.7" text-anchor="start" transform="translate(233.60,585.00) rotate(-90)">Relative expression</text>
<text x="0" y="0" font-size="13.5" text-anchor="start" transform="translate(250.80,585.00) rotate(-90)">of HNRNPC</text>
<line x1="298.10" y1="539.30" x2="298.10" y2="574.30" stroke="#a8cdf5" stroke-width="0.8" />
<line x1="290.20" y1="539.30" x2="306.00" y2="539.30" stroke="#a8cdf5" stroke-width="0.8" />
<line x1="290.20" y1="574.30" x2="306.00" y2="574.30" stroke="#a8cdf5" stroke-width="0.8" />
<circle cx="298.10" cy="521.70" r="2.1" fill="#4a9bff"/>
<circle cx="293.60" cy="535.70" r="2.1" fill="#4a9bff"/>
<circle cx="301.50" cy="539.30" r="2.1" fill="#4a9bff"/>
<circle cx="293.60" cy="545.40" r="2.1" fill="#4a9bff"/>
<circle cx="301.50" cy="546.70" r="2.1" fill="#4a9bff"/>
<circle cx="285.50" cy="550.10" r="2.1" fill="#4a9bff"/>
<circle cx="293.60" cy="550.60" r="2.1" fill="#4a9bff"/>
<circle cx="309.90" cy="550.60" r="2.1" fill="#4a9bff"/>
<circle cx="301.50" cy="554.60" r="2.1" fill="#4a9bff"/>
<circle cx="293.60" cy="557.70" r="2.1" fill="#4a9bff"/>
<circle cx="301.50" cy="562.50" r="2.1" fill="#4a9bff"/>
<circle cx="293.60" cy="569.00" r="2.1" fill="#4a9bff"/>
<circle cx="289.70" cy="572.50" r="2.1" fill="#4a9bff"/>
<circle cx="301.50" cy="565.00" r="2.1" fill="#4a9bff"/>
<circle cx="298.10" cy="578.80" r="2.1" fill="#4a9bff"/>
<circle cx="306.00" cy="578.80" r="2.1" fill="#4a9bff"/>
<circle cx="298.10" cy="588.20" r="2.1" fill="#4a9bff"/>
<line x1="281.50" y1="556.70" x2="314.40" y2="556.70" stroke="#555" stroke-width="1.1" />
<line x1="347.50" y1="523.00" x2="347.50" y2="557.20" stroke="#f9b878" stroke-width="0.8" />
<line x1="339.50" y1="523.00" x2="355.50" y2="523.00" stroke="#f9b878" stroke-width="0.8" />
<line x1="339.50" y1="557.20" x2="355.50" y2="557.20" stroke="#f9b878" stroke-width="0.8" />
<rect x="345.55" y="491.65" width="3.90" height="3.90" fill="#f89a3c" />
<rect x="350.05" y="510.55" width="3.90" height="3.90" fill="#f89a3c" />
<rect x="353.95" y="509.25" width="3.90" height="3.90" fill="#f89a3c" />
<rect x="338.15" y="516.35" width="3.90" height="3.90" fill="#f89a3c" />
<rect x="342.15" y="514.55" width="3.90" height="3.90" fill="#f89a3c" />
<rect x="340.85" y="526.85" width="3.90" height="3.90" fill="#f89a3c" />
<rect x="353.45" y="526.35" width="3.90" height="3.90" fill="#f89a3c" />
<rect x="345.55" y="539.04" width="3.90" height="3.90" fill="#f89a3c" />
<rect x="349.95" y="539.07" width="3.90" height="3.90" fill="#f89a3c" />
<rect x="341.15" y="539.44" width="3.90" height="3.90" fill="#f89a3c" />
<rect x="354.35" y="538.51" width="3.90" height="3.90" fill="#f89a3c" />
<rect x="336.75" y="540.54" width="3.90" height="3.90" fill="#f89a3c" />
<rect x="357.65" y="540.90" width="3.90" height="3.90" fill="#f89a3c" />
<rect x="334.55" y="536.99" width="3.90" height="3.90" fill="#f89a3c" />
<rect x="357.65" y="536.14" width="3.90" height="3.90" fill="#f89a3c" />
<rect x="338.95" y="535.91" width="3.90" height="3.90" fill="#f89a3c" />
<rect x="332.35" y="542.34" width="3.90" height="3.90" fill="#f89a3c" />
<rect x="345.55" y="534.40" width="3.90" height="3.90" fill="#f89a3c" />
<rect x="349.95" y="534.19" width="3.90" height="3.90" fill="#f89a3c" />
<rect x="345.55" y="543.94" width="3.90" height="3.90" fill="#f89a3c" />
<rect x="331.25" y="534.05" width="3.90" height="3.90" fill="#f89a3c" />
<rect x="354.35" y="533.46" width="3.90" height="3.90" fill="#f89a3c" />
<rect x="349.95" y="545.11" width="3.90" height="3.90" fill="#f89a3c" />
<rect x="341.15" y="545.48" width="3.90" height="3.90" fill="#f89a3c" />
<rect x="354.35" y="545.70" width="3.90" height="3.90" fill="#f89a3c" />
<rect x="336.75" y="546.26" width="3.90" height="3.90" fill="#f89a3c" />
<rect x="342.25" y="531.54" width="3.90" height="3.90" fill="#f89a3c" />
<rect x="337.85" y="531.10" width="3.90" height="3.90" fill="#f89a3c" />
<rect x="346.65" y="530.14" width="3.90" height="3.90" fill="#f89a3c" />
<rect x="351.05" y="529.58" width="3.90" height="3.90" fill="#f89a3c" />
<rect x="345.55" y="551.26" width="3.90" height="3.90" fill="#f89a3c" />
<rect x="349.95" y="551.64" width="3.90" height="3.90" fill="#f89a3c" />
<rect x="341.15" y="551.92" width="3.90" height="3.90" fill="#f89a3c" />
<rect x="345.55" y="521.64" width="3.90" height="3.90" fill="#f89a3c" />
<rect x="349.95" y="521.61" width="3.90" height="3.90" fill="#f89a3c" />
<rect x="341.15" y="520.73" width="3.90" height="3.90" fill="#f89a3c" />
<rect x="345.55" y="558.86" width="3.90" height="3.90" fill="#f89a3c" />
<rect x="353.25" y="519.24" width="3.90" height="3.90" fill="#f89a3c" />
<rect x="349.95" y="559.34" width="3.90" height="3.90" fill="#f89a3c" />
<rect x="347.75" y="517.99" width="3.90" height="3.90" fill="#f89a3c" />
<rect x="345.55" y="563.40" width="3.90" height="3.90" fill="#f89a3c" />
<rect x="352.15" y="514.28" width="3.90" height="3.90" fill="#f89a3c" />
<rect x="345.55" y="511.59" width="3.90" height="3.90" fill="#f89a3c" />
<rect x="347.35" y="571.55" width="3.90" height="3.90" fill="#f89a3c" />
<line x1="331.50" y1="540.90" x2="364.60" y2="540.90" stroke="#555" stroke-width="1.1" stroke-dasharray="3,1.5"/>
<line x1="397.40" y1="509.40" x2="397.40" y2="551.40" stroke="#f08080" stroke-width="0.8" />
<line x1="390.00" y1="509.40" x2="405.00" y2="509.40" stroke="#f08080" stroke-width="0.8" />
<line x1="390.00" y1="551.40" x2="405.00" y2="551.40" stroke="#f08080" stroke-width="0.8" />
<polygon points="397.40,478.98 395.09,483.39 399.71,483.39" fill="#ee1c25"/>
<polygon points="397.40,487.68 395.09,492.09 399.71,492.09" fill="#ee1c25"/>
<polygon points="392.70,505.48 390.39,509.89 395.01,509.89" fill="#ee1c25"/>
<polygon points="397.40,506.08 395.09,510.49 399.71,510.49" fill="#ee1c25"/>
<polygon points="402.60,504.78 400.29,509.19 404.91,509.19" fill="#ee1c25"/>
<polygon points="392.70,516.48 390.39,520.89 395.01,520.89" fill="#ee1c25"/>
<polygon points="402.60,517.28 400.29,521.69 404.91,521.69" fill="#ee1c25"/>
<polygon points="397.40,521.88 395.09,526.29 399.71,526.29" fill="#ee1c25"/>
<polygon points="399.50,528.48 397.19,532.89 401.81,532.89" fill="#ee1c25"/>
<polygon points="383.30,532.48 380.99,536.89 385.61,536.89" fill="#ee1c25"/>
<polygon points="388.00,533.78 385.69,538.19 390.31,538.19" fill="#ee1c25"/>
<polygon points="392.70,533.78 390.39,538.19 395.01,538.19" fill="#ee1c25"/>
<polygon points="403.10,533.78 400.79,538.19 405.41,538.19" fill="#ee1c25"/>
<polygon points="411.00,532.48 408.69,536.89 413.31,536.89" fill="#ee1c25"/>
<polygon points="392.70,540.28 390.39,544.69 395.01,544.69" fill="#ee1c25"/>
<polygon points="397.40,541.58 395.09,545.99 399.71,545.99" fill="#ee1c25"/>
<polygon points="402.60,540.28 400.29,544.69 404.91,544.69" fill="#ee1c25"/>
<polygon points="407.10,538.98 404.79,543.39 409.41,543.39" fill="#ee1c25"/>
<polygon points="392.70,548.08 390.39,552.49 395.01,552.49" fill="#ee1c25"/>
<polygon points="397.40,548.08 395.09,552.49 399.71,552.49" fill="#ee1c25"/>
<polygon points="402.60,554.68 400.29,559.09 404.91,559.09" fill="#ee1c25"/>
<polygon points="397.40,565.18 395.09,569.59 399.71,569.59" fill="#ee1c25"/>
<polygon points="388.00,545.48 385.69,549.89 390.31,549.89" fill="#ee1c25"/>
<polygon points="397.40,534.48 395.09,538.89 399.71,538.89" fill="#ee1c25"/>
<line x1="381.40" y1="530.40" x2="414.50" y2="530.40" stroke="#555" stroke-width="1.1" />
<text x="448.30" y="441.00" font-size="15" fill="#000" text-anchor="start" font-weight="normal"  style="">H</text>
<line x1="504.20" y1="441.50" x2="651.30" y2="441.50" stroke="#999" stroke-width="0.8" />
<line x1="504.20" y1="441.30" x2="504.20" y2="577.80" stroke="#777" stroke-width="0.9" />
<line x1="504.20" y1="577.60" x2="651.30" y2="577.60" stroke="#777" stroke-width="0.9" />
<line x1="502.10" y1="572.60" x2="504.20" y2="572.60" stroke="#777" stroke-width="0.8" />
<text x="0" y="0" font-size="6" fill="#666" text-anchor="middle" transform="translate(496.4,572.60) rotate(-90)">0.0</text>
<line x1="502.10" y1="547.48" x2="504.20" y2="547.48" stroke="#777" stroke-width="0.8" />
<text x="0" y="0" font-size="6" fill="#666" text-anchor="middle" transform="translate(496.4,547.48) rotate(-90)">0.2</text>
<line x1="502.10" y1="522.36" x2="504.20" y2="522.36" stroke="#777" stroke-width="0.8" />
<text x="0" y="0" font-size="6" fill="#666" text-anchor="middle" transform="translate(496.4,522.36) rotate(-90)">0.4</text>
<line x1="502.10" y1="497.24" x2="504.20" y2="497.24" stroke="#777" stroke-width="0.8" />
<text x="0" y="0" font-size="6" fill="#666" text-anchor="middle" transform="translate(496.4,497.24) rotate(-90)">0.6</text>
<line x1="502.10" y1="472.12" x2="504.20" y2="472.12" stroke="#777" stroke-width="0.8" />
<text x="0" y="0" font-size="6" fill="#666" text-anchor="middle" transform="translate(496.4,472.12) rotate(-90)">0.8</text>
<line x1="502.10" y1="447.00" x2="504.20" y2="447.00" stroke="#777" stroke-width="0.8" />
<text x="0" y="0" font-size="6" fill="#666" text-anchor="middle" transform="translate(496.4,447.00) rotate(-90)">1.0</text>
<line x1="504.40" y1="577.60" x2="504.40" y2="580.00" stroke="#777" stroke-width="0.8" />
<text x="504.40" y="590.90" font-size="6.2" fill="#666" text-anchor="middle" font-weight="normal"  style="">0</text>
<line x1="537.40" y1="577.60" x2="537.40" y2="580.00" stroke="#777" stroke-width="0.8" />
<text x="537.40" y="590.90" font-size="6.2" fill="#666" text-anchor="middle" font-weight="normal"  style="">50</text>
<line x1="570.40" y1="577.60" x2="570.40" y2="580.00" stroke="#777" stroke-width="0.8" />
<text x="570.40" y="590.90" font-size="6.2" fill="#666" text-anchor="middle" font-weight="normal"  style="">100</text>
<line x1="603.40" y1="577.60" x2="603.40" y2="580.00" stroke="#777" stroke-width="0.8" />
<text x="603.40" y="590.90" font-size="6.2" fill="#666" text-anchor="middle" font-weight="normal"  style="">150</text>
<line x1="636.40" y1="577.60" x2="636.40" y2="580.00" stroke="#777" stroke-width="0.8" />
<text x="636.40" y="590.90" font-size="6.2" fill="#666" text-anchor="middle" font-weight="normal"  style="">200</text>
<text x="0" y="0" font-size="13" text-anchor="middle" transform="translate(479.5,518.0) rotate(-90)">Overall Survival (%)</text>
<text x="582.50" y="609.50" font-size="13.5" fill="#000" text-anchor="middle" font-weight="normal"  style="">Survival Time(days) TCGA</text>
<polyline points="504.40,444.40 514.82,453.58 527.23,461.77 539.64,464.75 569.42,464.75 571.91,470.95 628.99,470.95 638.92,470.95" fill="none" stroke="#b8b8f0" stroke-width="0.8" stroke-dasharray="1.2,1"/>
<polyline points="504.40,449.36 514.82,463.51 527.23,480.88 535.92,489.57 566.94,489.57 569.42,508.93 571.41,514.39 571.91,526.80 638.92,526.80" fill="none" stroke="#b8b8f0" stroke-width="0.8" stroke-dasharray="1.2,1"/>
<polyline points="504.40,444.89 517.30,459.78 529.71,475.92 539.64,483.36 552.05,493.29 571.91,497.01 595.49,500.74 648.85,500.74" fill="none" stroke="#f5b8b8" stroke-width="0.8" stroke-dasharray="1.2,1"/>
<polyline points="504.40,449.86 514.82,469.71 527.23,492.05 539.64,504.46 549.57,515.63 560.74,529.28 571.91,534.24 595.49,544.17 648.85,544.17" fill="none" stroke="#f5b8b8" stroke-width="0.8" stroke-dasharray="1.2,1"/>
<polyline points="504.40,446.88 506.88,447.87 508.62,450.35 511.10,452.83 512.83,454.82 514.82,457.80 516.56,459.29 518.54,461.03 520.28,462.76 521.77,465.24 523.51,468.47 525.24,470.95 527.23,472.69 529.71,474.18 531.70,475.42 534.18,477.16 535.92,478.40 538.40,478.90 568.18,478.90 568.18,494.04 570.67,494.04 570.67,503.96 647.61,503.96" fill="none" stroke="#3a3ae0" stroke-width="1.15" />
<polyline points="504.40,446.88 506.13,447.87 507.87,449.86 509.86,452.83 511.84,455.32 513.58,457.80 514.82,461.03 516.81,463.51 518.54,469.71 519.78,472.69 521.03,474.68 523.01,475.92 524.75,478.40 526.49,480.88 527.73,483.36 529.22,488.33 530.95,490.81 532.69,492.55 534.68,494.04 537.16,495.03 539.14,497.01 540.88,499.00 542.87,500.74 544.60,501.48 549.57,501.48 550.81,501.48 550.81,510.67 559.50,510.67 560.74,510.67 560.74,515.63 571.91,515.63 573.15,515.63 573.15,519.85 595.49,519.85 596.23,519.85 596.23,527.29 647.61,527.29" fill="none" stroke="#cc3322" stroke-width="1.15" />
<line x1="534.68" y1="477.30" x2="534.68" y2="480.50" stroke="#3a3ae0" stroke-width="0.8" />
<line x1="538.40" y1="477.30" x2="538.40" y2="480.50" stroke="#3a3ae0" stroke-width="0.8" />
<line x1="540.88" y1="477.30" x2="540.88" y2="480.50" stroke="#3a3ae0" stroke-width="0.8" />
<line x1="543.36" y1="477.30" x2="543.36" y2="480.50" stroke="#3a3ae0" stroke-width="0.8" />
<line x1="545.85" y1="477.30" x2="545.85" y2="480.50" stroke="#3a3ae0" stroke-width="0.8" />
<line x1="549.57" y1="477.30" x2="549.57" y2="480.50" stroke="#3a3ae0" stroke-width="0.8" />
<line x1="553.29" y1="477.30" x2="553.29" y2="480.50" stroke="#3a3ae0" stroke-width="0.8" />
<line x1="557.01" y1="477.30" x2="557.01" y2="480.50" stroke="#3a3ae0" stroke-width="0.8" />
<line x1="560.74" y1="477.30" x2="560.74" y2="480.50" stroke="#3a3ae0" stroke-width="0.8" />
<line x1="593.00" y1="502.36" x2="593.00" y2="505.56" stroke="#3a3ae0" stroke-width="0.8" />
<line x1="597.97" y1="502.36" x2="597.97" y2="505.56" stroke="#3a3ae0" stroke-width="0.8" />
<line x1="604.17" y1="502.36" x2="604.17" y2="505.56" stroke="#3a3ae0" stroke-width="0.8" />
<line x1="608.64" y1="502.36" x2="608.64" y2="505.56" stroke="#3a3ae0" stroke-width="0.8" />
<line x1="624.03" y1="502.36" x2="624.03" y2="505.56" stroke="#3a3ae0" stroke-width="0.8" />
<line x1="543.36" y1="499.88" x2="543.36" y2="503.08" stroke="#cc3322" stroke-width="0.8" />
<line x1="580.59" y1="518.25" x2="580.59" y2="521.45" stroke="#cc3322" stroke-width="0.8" />
<line x1="583.08" y1="518.25" x2="583.08" y2="521.45" stroke="#cc3322" stroke-width="0.8" />
<line x1="585.56" y1="518.25" x2="585.56" y2="521.45" stroke="#cc3322" stroke-width="0.8" />
<line x1="589.28" y1="518.25" x2="589.28" y2="521.45" stroke="#cc3322" stroke-width="0.8" />
<line x1="590.52" y1="518.25" x2="590.52" y2="521.45" stroke="#cc3322" stroke-width="0.8" />
<line x1="601.69" y1="525.69" x2="601.69" y2="528.89" stroke="#cc3322" stroke-width="0.8" />
<line x1="604.17" y1="525.69" x2="604.17" y2="528.89" stroke="#cc3322" stroke-width="0.8" />
<line x1="609.14" y1="525.69" x2="609.14" y2="528.89" stroke="#cc3322" stroke-width="0.8" />
<line x1="611.62" y1="525.69" x2="611.62" y2="528.89" stroke="#cc3322" stroke-width="0.8" />
<line x1="620.31" y1="525.69" x2="620.31" y2="528.89" stroke="#cc3322" stroke-width="0.8" />
<line x1="646.37" y1="525.69" x2="646.37" y2="528.89" stroke="#cc3322" stroke-width="0.8" />
<line x1="579.80" y1="447.90" x2="591.80" y2="447.90" stroke="#3a3ae0" stroke-width="1.2" />
<line x1="579.80" y1="454.10" x2="591.80" y2="454.10" stroke="#cc3322" stroke-width="1.2" />
<text x="593.70" y="450.10" font-size="6.1" fill="#222" text-anchor="start" font-weight="normal"  style="">Low HNRNPC TPM</text>
<text x="593.70" y="456.30" font-size="6.1" fill="#222" text-anchor="start" font-weight="normal"  style="">High HNRNPC TPM</text>
<text x="648.10" y="463.20" font-size="6.1" fill="#222" text-anchor="end" font-weight="normal"  style="">Logrank p=0.045</text>
<text x="648.10" y="469.90" font-size="6.1" fill="#222" text-anchor="end" font-weight="normal"  style="">HR(high)=1.6</text>
<text x="648.10" y="477.40" font-size="6.1" fill="#222" text-anchor="end" font-weight="normal"  style="">p(HR)=0.048</text>
<text x="648.10" y="484.30" font-size="6.1" fill="#222" text-anchor="end" font-weight="normal"  style="">n(high)=146</text>
<text x="648.10" y="491.20" font-size="6.1" fill="#222" text-anchor="end" font-weight="normal"  style="">n(low)=146</text>
<text x="453.20" y="650.40" font-size="15" fill="#000" text-anchor="start" font-weight="normal"  style="">J</text>
<line x1="497.50" y1="636.90" x2="497.50" y2="767.00" stroke="#bbbbbb" stroke-width="0.9" />
<line x1="497.50" y1="767.00" x2="683.50" y2="767.00" stroke="#bbbbbb" stroke-width="0.9" />
<text x="495.80" y="647.30" font-size="8.5" fill="#333" text-anchor="end" font-weight="normal"  style="">1.0</text>
<text x="495.80" y="671.50" font-size="8.5" fill="#333" text-anchor="end" font-weight="normal"  style="">0.8</text>
<text x="495.80" y="694.10" font-size="8.5" fill="#333" text-anchor="end" font-weight="normal"  style="">0.6</text>
<text x="495.80" y="719.10" font-size="8.5" fill="#333" text-anchor="end" font-weight="normal"  style="">0.4</text>
<text x="495.80" y="742.50" font-size="8.5" fill="#333" text-anchor="end" font-weight="normal"  style="">0.2</text>
<text x="495.80" y="765.80" font-size="8.5" fill="#333" text-anchor="end" font-weight="normal"  style="">0.0</text>
<text x="505.50" y="776.80" font-size="8.5" fill="#333" text-anchor="middle" font-weight="normal"  style="">0</text>
<text x="539.40" y="776.80" font-size="8.5" fill="#333" text-anchor="middle" font-weight="normal"  style="">500</text>
<text x="574.60" y="776.80" font-size="8.5" fill="#333" text-anchor="middle" font-weight="normal"  style="">1000</text>
<text x="608.80" y="776.80" font-size="8.5" fill="#333" text-anchor="middle" font-weight="normal"  style="">1500</text>
<text x="642.90" y="776.80" font-size="8.5" fill="#333" text-anchor="middle" font-weight="normal"  style="">2000</text>
<text x="676.40" y="776.80" font-size="8.5" fill="#333" text-anchor="middle" font-weight="normal"  style="">2500</text>
<circle cx="495.90" cy="634.20" r="0.5" fill="#888"/>
<circle cx="498.40" cy="634.20" r="0.5" fill="#888"/>
<text x="0" y="0" font-size="13" text-anchor="middle" transform="translate(468.9,718.0) rotate(-90)">Overall Survival (%)</text>
<polyline points="506.60,643.20 583.80,643.20 583.80,645.30 639.00,645.30 639.00,650.80 668.70,650.80" fill="none" stroke="#86b3e3" stroke-width="0.85" />
<polyline points="506.60,643.20 522.50,643.20 522.50,645.30 531.10,645.30 531.10,647.50 563.90,647.50 563.90,654.50 577.10,654.50 577.10,657.60 587.80,657.60 587.80,661.30 596.10,661.30 596.10,663.70 614.50,663.70 614.50,668.30 646.70,668.30 646.70,675.40 658.30,675.40 658.30,692.80 665.10,692.80" fill="none" stroke="#d2476c" stroke-width="0.85" />
<line x1="597.00" y1="644.00" x2="597.00" y2="646.60" stroke="#86b3e3" stroke-width="0.8" />
<line x1="599.00" y1="644.00" x2="599.00" y2="646.60" stroke="#86b3e3" stroke-width="0.8" />
<line x1="601.00" y1="644.00" x2="601.00" y2="646.60" stroke="#86b3e3" stroke-width="0.8" />
<line x1="603.00" y1="644.00" x2="603.00" y2="646.60" stroke="#86b3e3" stroke-width="0.8" />
<line x1="605.00" y1="644.00" x2="605.00" y2="646.60" stroke="#86b3e3" stroke-width="0.8" />
<line x1="607.00" y1="644.00" x2="607.00" y2="646.60" stroke="#86b3e3" stroke-width="0.8" />
<line x1="610.00" y1="644.00" x2="610.00" y2="646.60" stroke="#86b3e3" stroke-width="0.8" />
<line x1="613.00" y1="644.00" x2="613.00" y2="646.60" stroke="#86b3e3" stroke-width="0.8" />
<line x1="617.00" y1="644.00" x2="617.00" y2="646.60" stroke="#86b3e3" stroke-width="0.8" />
<line x1="621.00" y1="644.00" x2="621.00" y2="646.60" stroke="#86b3e3" stroke-width="0.8" />
<line x1="641.00" y1="649.50" x2="641.00" y2="652.10" stroke="#86b3e3" stroke-width="0.8" />
<line x1="644.00" y1="649.50" x2="644.00" y2="652.10" stroke="#86b3e3" stroke-width="0.8" />
<line x1="646.00" y1="649.50" x2="646.00" y2="652.10" stroke="#86b3e3" stroke-width="0.8" />
<line x1="648.00" y1="649.50" x2="648.00" y2="652.10" stroke="#86b3e3" stroke-width="0.8" />
<line x1="650.00" y1="649.50" x2="650.00" y2="652.10" stroke="#86b3e3" stroke-width="0.8" />
<line x1="652.00" y1="649.50" x2="652.00" y2="652.10" stroke="#86b3e3" stroke-width="0.8" />
<line x1="654.00" y1="649.50" x2="654.00" y2="652.10" stroke="#86b3e3" stroke-width="0.8" />
<line x1="657.00" y1="649.50" x2="657.00" y2="652.10" stroke="#86b3e3" stroke-width="0.8" />
<line x1="661.00" y1="649.50" x2="661.00" y2="652.10" stroke="#86b3e3" stroke-width="0.8" />
<line x1="664.00" y1="649.50" x2="664.00" y2="652.10" stroke="#86b3e3" stroke-width="0.8" />
<line x1="590.00" y1="662.40" x2="590.00" y2="665.00" stroke="#d2476c" stroke-width="0.8" />
<line x1="592.00" y1="662.40" x2="592.00" y2="665.00" stroke="#d2476c" stroke-width="0.8" />
<line x1="594.00" y1="662.40" x2="594.00" y2="665.00" stroke="#d2476c" stroke-width="0.8" />
<line x1="598.00" y1="662.40" x2="598.00" y2="665.00" stroke="#d2476c" stroke-width="0.8" />
<line x1="600.00" y1="662.40" x2="600.00" y2="665.00" stroke="#d2476c" stroke-width="0.8" />
<line x1="602.00" y1="662.40" x2="602.00" y2="665.00" stroke="#d2476c" stroke-width="0.8" />
<line x1="605.00" y1="662.40" x2="605.00" y2="665.00" stroke="#d2476c" stroke-width="0.8" />
<line x1="607.00" y1="662.40" x2="607.00" y2="665.00" stroke="#d2476c" stroke-width="0.8" />
<line x1="616.00" y1="667.00" x2="616.00" y2="669.60" stroke="#d2476c" stroke-width="0.8" />
<line x1="620.00" y1="667.00" x2="620.00" y2="669.60" stroke="#d2476c" stroke-width="0.8" />
<line x1="635.00" y1="667.00" x2="635.00" y2="669.60" stroke="#d2476c" stroke-width="0.8" />
<line x1="638.00" y1="667.00" x2="638.00" y2="669.60" stroke="#d2476c" stroke-width="0.8" />
<line x1="640.00" y1="667.00" x2="640.00" y2="669.60" stroke="#d2476c" stroke-width="0.8" />
<line x1="643.00" y1="667.00" x2="643.00" y2="669.60" stroke="#d2476c" stroke-width="0.8" />
<line x1="645.00" y1="667.00" x2="645.00" y2="669.60" stroke="#d2476c" stroke-width="0.8" />
<line x1="652.00" y1="674.10" x2="652.00" y2="676.70" stroke="#d2476c" stroke-width="0.8" />
<line x1="655.00" y1="674.10" x2="655.00" y2="676.70" stroke="#d2476c" stroke-width="0.8" />
<line x1="661.00" y1="691.50" x2="661.00" y2="694.10" stroke="#d2476c" stroke-width="0.8" />
<line x1="663.00" y1="691.50" x2="663.00" y2="694.10" stroke="#d2476c" stroke-width="0.8" />
<text x="566.00" y="639.60" font-size="6.7" fill="#5f9bd8" text-anchor="start" font-weight="normal"  style="">low HNRNPC expression</text>
<text x="562.40" y="678.30" font-size="6.7" fill="#c63a60" text-anchor="start" font-weight="normal"  style="">high HNRNPC expression</text>
<text x="517.90" y="740.20" font-size="6.4" fill="#222" text-anchor="start" font-weight="normal"  style=""><tspan font-style="italic">P</tspan>=0.007(Log Rank)</text>
<text x="517.90" y="751.30" font-size="6.4" fill="#222" text-anchor="start" font-weight="normal"  style=""><tspan font-style="italic">P</tspan>=0.008(Breslow)</text>
<text x="514.20" y="812.60" font-size="13.6" fill="#000" text-anchor="start" font-weight="normal"  style="">Survival Time(days)</text>
<text x="514.20" y="826.30" font-size="13.4" fill="#000" text-anchor="start" font-weight="normal"  style="">Local cohort 1</text>
<line x1="496.80" y1="834.00" x2="496.80" y2="956.30" stroke="#bbbbbb" stroke-width="0.9" />
<line x1="496.80" y1="956.30" x2="669.70" y2="956.30" stroke="#bbbbbb" stroke-width="0.9" />
<text x="492.30" y="844.40" font-size="8.5" fill="#333" text-anchor="end" font-weight="normal"  style="">1.0</text>
<text x="492.30" y="866.60" font-size="8.5" fill="#333" text-anchor="end" font-weight="normal"  style="">0.8</text>
<text x="492.30" y="891.40" font-size="8.5" fill="#333" text-anchor="end" font-weight="normal"  style="">0.6</text>
<text x="492.30" y="916.40" font-size="8.5" fill="#333" text-anchor="end" font-weight="normal"  style="">0.4</text>
<text x="492.30" y="939.60" font-size="8.5" fill="#333" text-anchor="end" font-weight="normal"  style="">0.2</text>
<text x="492.30" y="962.50" font-size="8.5" fill="#333" text-anchor="end" font-weight="normal"  style="">0.0</text>
<text x="507.10" y="967.00" font-size="8.5" fill="#333" text-anchor="middle" font-weight="normal"  style="">0</text>
<text x="547.70" y="967.00" font-size="8.5" fill="#333" text-anchor="middle" font-weight="normal"  style="">500</text>
<text x="586.00" y="967.00" font-size="8.5" fill="#333" text-anchor="middle" font-weight="normal"  style="">1000</text>
<text x="626.10" y="967.00" font-size="8.5" fill="#333" text-anchor="middle" font-weight="normal"  style="">1500</text>
<text x="663.50" y="967.00" font-size="8.5" fill="#333" text-anchor="middle" font-weight="normal"  style="">2000</text>
<text x="0" y="0" font-size="13" text-anchor="middle" transform="translate(472.2,896.1) rotate(-90)">Overall Survival (%)</text>
<polyline points="505.70,839.70 556.20,839.70 556.20,842.80 568.50,842.80 568.50,846.50 654.30,846.50" fill="none" stroke="#86b3e3" stroke-width="0.85" />
<polyline points="505.70,839.70 514.90,839.70 514.90,841.00 522.50,841.00 522.50,843.40 528.60,843.40 528.60,848.90 536.30,848.90 536.30,853.20 540.90,853.20 540.90,856.60 563.90,856.60 563.90,859.30 566.00,859.30 566.00,864.90 583.80,864.90 583.80,867.90 588.40,867.90 588.40,870.40 597.60,870.40 597.60,873.10 659.00,873.10" fill="none" stroke="#d2476c" stroke-width="0.85" />
<line x1="586.00" y1="845.20" x2="586.00" y2="847.80" stroke="#86b3e3" stroke-width="0.8" />
<line x1="590.00" y1="845.20" x2="590.00" y2="847.80" stroke="#86b3e3" stroke-width="0.8" />
<line x1="596.00" y1="845.20" x2="596.00" y2="847.80" stroke="#86b3e3" stroke-width="0.8" />
<line x1="600.00" y1="845.20" x2="600.00" y2="847.80" stroke="#86b3e3" stroke-width="0.8" />
<line x1="603.00" y1="845.20" x2="603.00" y2="847.80" stroke="#86b3e3" stroke-width="0.8" />
<line x1="608.00" y1="845.20" x2="608.00" y2="847.80" stroke="#86b3e3" stroke-width="0.8" />
<line x1="612.00" y1="845.20" x2="612.00" y2="847.80" stroke="#86b3e3" stroke-width="0.8" />
<line x1="618.00" y1="845.20" x2="618.00" y2="847.80" stroke="#86b3e3" stroke-width="0.8" />
<line x1="625.00" y1="845.20" x2="625.00" y2="847.80" stroke="#86b3e3" stroke-width="0.8" />
<line x1="632.00" y1="845.20" x2="632.00" y2="847.80" stroke="#86b3e3" stroke-width="0.8" />
<line x1="637.00" y1="845.20" x2="637.00" y2="847.80" stroke="#86b3e3" stroke-width="0.8" />
<line x1="645.00" y1="845.20" x2="645.00" y2="847.80" stroke="#86b3e3" stroke-width="0.8" />
<line x1="650.00" y1="845.20" x2="650.00" y2="847.80" stroke="#86b3e3" stroke-width="0.8" />
<line x1="563.00" y1="855.30" x2="563.00" y2="857.90" stroke="#d2476c" stroke-width="0.8" />
<line x1="572.00" y1="863.60" x2="572.00" y2="866.20" stroke="#d2476c" stroke-width="0.8" />
<line x1="577.00" y1="863.60" x2="577.00" y2="866.20" stroke="#d2476c" stroke-width="0.8" />
<line x1="602.00" y1="871.80" x2="602.00" y2="874.40" stroke="#d2476c" stroke-width="0.8" />
<line x1="606.00" y1="871.80" x2="606.00" y2="874.40" stroke="#d2476c" stroke-width="0.8" />
<line x1="611.00" y1="871.80" x2="611.00" y2="874.40" stroke="#d2476c" stroke-width="0.8" />
<line x1="615.00" y1="871.80" x2="615.00" y2="874.40" stroke="#d2476c" stroke-width="0.8" />
<line x1="620.00" y1="871.80" x2="620.00" y2="874.40" stroke="#d2476c" stroke-width="0.8" />
<line x1="624.00" y1="871.80" x2="624.00" y2="874.40" stroke="#d2476c" stroke-width="0.8" />
<line x1="629.00" y1="871.80" x2="629.00" y2="874.40" stroke="#d2476c" stroke-width="0.8" />
<line x1="633.00" y1="871.80" x2="633.00" y2="874.40" stroke="#d2476c" stroke-width="0.8" />
<line x1="638.00" y1="871.80" x2="638.00" y2="874.40" stroke="#d2476c" stroke-width="0.8" />
<line x1="642.00" y1="871.80" x2="642.00" y2="874.40" stroke="#d2476c" stroke-width="0.8" />
<line x1="646.00" y1="871.80" x2="646.00" y2="874.40" stroke="#d2476c" stroke-width="0.8" />
<line x1="650.00" y1="871.80" x2="650.00" y2="874.40" stroke="#d2476c" stroke-width="0.8" />
<line x1="654.00" y1="871.80" x2="654.00" y2="874.40" stroke="#d2476c" stroke-width="0.8" />
<text x="579.20" y="842.60" font-size="6.2" fill="#5f9bd8" text-anchor="start" font-weight="normal"  style="">low HNRNPC expression</text>
<text x="564.50" y="883.70" font-size="6.3" fill="#c63a60" text-anchor="start" font-weight="normal"  style="">high HNRNPC expression</text>
<text x="511.80" y="932.30" font-size="6.0" fill="#222" text-anchor="start" font-weight="normal"  style=""><tspan font-style="italic">P</tspan>=0.008(Log Rank)</text>
<text x="511.80" y="943.00" font-size="6.0" fill="#222" text-anchor="start" font-weight="normal"  style=""><tspan font-style="italic">P</tspan>=0.009(Breslow)</text>
<text x="527.40" y="982.40" font-size="13.6" fill="#000" text-anchor="start" font-weight="normal"  style="">Survival Time(days)</text>
<text x="527.40" y="998.30" font-size="13.4" fill="#000" text-anchor="start" font-weight="normal"  style="">Local cohort2</text>
<text x="14.40" y="648.40" font-size="14.8" fill="#000" text-anchor="start" font-weight="normal" stroke="#000" stroke-width="0.35" style="">I</text>
<text x="-0.30" y="667.40" font-size="13.1" fill="#000" text-anchor="start" font-weight="normal"  style="">Cohort1</text>
<text x="-0.30" y="824.80" font-size="13.1" fill="#000" text-anchor="start" font-weight="normal"  style="">Cohort2</text>
<text x="16.40" y="691.30" font-size="10.2" fill="#000" text-anchor="start" font-weight="normal"  style="">AC</text>
<text x="16.40" y="762.90" font-size="10.2" fill="#000" text-anchor="start" font-weight="normal"  style="">SC</text>
<text x="16.40" y="842.80" font-size="10.2" fill="#000" text-anchor="start" font-weight="normal"  style="">AC</text>
<text x="16.40" y="917.00" font-size="10.2" fill="#000" text-anchor="start" font-weight="normal"  style="">SC</text>
<text x="86.30" y="978.70" font-size="13.6" fill="#000" text-anchor="middle" font-weight="normal"  style="">negative</text>
<text x="186.40" y="979.40" font-size="13.6" fill="#000" text-anchor="middle" font-weight="normal"  style="">weak</text>
<text x="284.20" y="980.10" font-size="13.6" fill="#000" text-anchor="middle" font-weight="normal"  style="">positive</text>
<text x="383.00" y="980.10" font-size="13.6" fill="#000" text-anchor="middle" font-weight="normal"  style="">strong</text>
<g clip-path="url(#cp1)">
<rect x="38.70" y="676.20" width="89.70" height="66.70" fill="rgb(184,188,214)" />
<rect x="38.70" y="676.20" width="89.70" height="66.70" fill="#000" filter="url(#nf1)"/>
<g filter="url(#sblur)">
<g fill="none" stroke="rgb(135,143,196)" stroke-width="2.2" opacity="0.55"><ellipse cx="65.7" cy="695.2" rx="10" ry="11"/><ellipse cx="114.7" cy="700.2" rx="8" ry="11"/><ellipse cx="108.7" cy="726.2" rx="10" ry="9"/><ellipse cx="44.7" cy="716.2" rx="6" ry="16"/></g>
</g>
<rect x="38.70" y="676.20" width="89.70" height="66.70" fill="#000" filter="url(#nf2)"/>
<rect x="38.70" y="676.20" width="89.70" height="66.70" fill="#000" filter="url(#nf3)"/>
</g>
<rect x="111.40" y="734.30" width="17.00" height="8.60" fill="#fff" />
<rect x="113.40" y="736.50" width="12.60" height="1.30" fill="#151515" />
<text x="113.40" y="741.50" font-size="3.3" fill="#222" text-anchor="start" font-weight="bold"  style="">100 µm</text>
<g clip-path="url(#cp2)">
<rect x="138.90" y="676.20" width="90.20" height="66.70" fill="rgb(222,228,234)" />
<rect x="138.90" y="676.20" width="90.20" height="66.70" fill="#000" filter="url(#nf4)"/>
<g filter="url(#sblur)">
<g fill="none" stroke-linecap="round" stroke-linejoin="round" opacity="0.9"><path d="M156.1,738.0 L156.1,739.5 L155.5,740.8 L154.1,741.5 L152.7,741.9 L151.2,742.0 L149.8,741.4 L148.6,740.5 L147.5,739.4 L146.9,738.1 L146.7,736.6 L147.1,735.2 L147.7,733.8 L148.5,732.5 M196.9,715.7 L195.5,715.2 L194.0,715.2 L192.5,715.6 L191.0,715.9 L189.6,716.2 L188.2,716.7 L186.9,717.4 M134.1,710.7 L133.1,709.6 L132.3,708.3 L131.6,707.0 L131.0,705.6 L130.7,704.1 L130.6,702.6 L131.1,701.2 L131.8,699.9 L132.9,698.9 L134.1,698.0 L135.4,697.1 L136.7,696.4 L138.1,696.0 L139.6,695.8 M197.6,733.5 L199.0,733.0 L200.5,732.7 L201.9,733.2 L203.2,734.0 L204.5,734.7 L205.8,735.5 L207.0,736.3 L207.7,737.6 L208.3,739.0 L207.8,740.5 L207.0,741.7 L205.9,742.7 L204.6,743.6 M144.0,700.6 L142.7,700.0 L141.4,699.1 L139.9,698.9 L138.6,698.2 L137.1,697.9 L135.9,697.0 L135.4,695.6 L134.9,694.1 L134.3,692.8 L133.6,691.5 L133.2,690.0 L133.1,688.5 L132.9,687.0 M186.7,721.9 L187.9,721.1 L189.3,720.5 L190.7,720.0 L192.2,719.9 L193.7,719.5 L195.1,719.0 L196.4,718.2 L197.5,717.2 L198.8,716.4 L200.0,715.5 L201.1,714.5 L202.0,713.3 L202.8,712.0 L203.7,710.8 M140.3,689.8 L141.7,690.3 L143.0,690.9 L144.4,691.5 L145.7,692.3 L147.0,693.0 L148.5,693.1 L150.0,693.3 L151.5,693.6 L152.9,694.0 L154.4,694.1 L155.7,694.9 L157.2,695.2 M137.0,712.9 L136.5,714.3 L136.1,715.8 L135.5,717.2 L134.2,718.0 L133.2,719.0 L132.0,719.9 L130.5,720.3 L129.0,720.4 L127.5,720.3 L126.0,720.6 L124.7,721.2 L123.3,721.9 L121.9,722.5 M188.2,691.5 L189.6,692.2 L191.1,692.1 L192.5,691.7 L194.0,691.4 L195.5,691.1 L196.9,690.6 L198.2,689.8 M192.9,717.6 L192.1,718.9 L190.9,719.7 L189.5,720.4 L188.0,720.7 L186.5,720.9 L185.1,721.2 L183.6,720.8 L182.4,719.9 L181.2,719.1 L180.2,717.9 L179.7,716.5 L179.6,715.0 M183.8,720.6 L182.3,720.5 L180.8,720.4 L179.3,720.4 L177.8,720.8 L176.4,721.1 L175.0,721.8 M149.4,702.4 L150.9,702.7 L152.4,702.9 L153.7,703.6 L154.9,704.5 L155.9,705.6 L156.8,706.8 L157.7,708.0 L158.9,708.8 L159.8,710.0 L160.9,711.1 L161.6,712.4 L162.3,713.7 M142.5,689.3 L141.1,689.9 L139.9,690.7 L138.7,691.6 L137.3,692.3 L135.9,692.6 L134.4,692.5 M205.4,691.5 L206.9,692.0 L208.2,692.6 L209.5,693.5 L210.8,694.1 L212.3,694.5 L213.8,694.6 L215.3,694.8 L216.7,695.0 L218.1,695.6 L219.5,696.3 M199.7,707.5 L199.1,708.9 L198.8,710.3 L198.8,711.8 L199.2,713.3 L199.4,714.8 L199.8,716.2 L200.7,717.4 L201.7,718.5 M215.2,705.4 L213.9,706.1 L212.7,707.1 L211.5,708.0 L210.3,708.9 L209.3,710.0 M225.4,704.4 L226.6,703.6 L227.7,702.5 L228.1,701.1 L228.7,699.7 L228.5,698.2 L227.8,696.9 L226.9,695.7 L225.8,694.7 L224.5,693.8 L223.1,693.4 L221.6,693.2 L220.1,693.4 L218.9,694.3 M227.9,745.3 L227.5,743.9 L227.4,742.4 L227.4,740.9 L227.6,739.4 L228.1,738.0 L228.7,736.7 M215.2,706.6 L213.7,706.6 L212.3,706.3 L210.8,706.0 L209.4,705.6 L208.0,704.9 M210.5,721.6 L212.0,721.7 L213.5,721.5 L215.0,721.2 L216.4,721.6 L217.9,721.7 L219.4,722.1 L220.8,722.6 L222.0,723.4 M166.1,709.9 L166.6,708.5 L167.3,707.2 L167.6,705.7 L167.8,704.2 L167.0,702.9 L166.3,701.6 L165.2,700.5 L164.0,699.7 L162.5,699.4 M170.2,733.2 L171.4,732.4 L172.5,731.3 L173.4,730.1 L174.0,728.7 L174.6,727.3 L175.6,726.2 L176.6,725.1 L177.5,723.9 L178.1,722.6 L178.8,721.2 L179.7,720.0 L179.8,718.5 L179.4,717.1 M197.8,744.5 L198.9,743.4 L200.3,742.7 L201.7,743.1 L203.0,743.9 L204.1,744.9 L205.1,746.1 L205.6,747.5 L205.8,748.9 L205.6,750.4 L204.9,751.7 L204.6,753.2 M202.8,733.9 L202.9,735.4 L203.2,736.8 L203.8,738.2 L204.0,739.7 L204.6,741.1 L205.1,742.5 M161.0,672.9 L161.6,671.5 L162.4,670.3 L162.7,668.8 L162.9,667.3 L162.5,665.9 L161.8,664.5 M194.7,697.8 L195.1,699.2 L195.2,700.7 L195.5,702.2 L195.6,703.7 L195.0,705.1 L194.4,706.4 L194.0,707.9 L193.4,709.3 L192.8,710.6 L192.2,712.0 L191.7,713.5 L191.4,714.9 L191.0,716.4 L190.7,717.8 M208.3,690.0 L206.9,689.4 L205.5,689.1 L204.0,688.7 L202.5,688.6 L201.1,689.0 L199.6,688.9 L198.1,689.2 L196.6,689.1 L195.1,689.0 M199.9,701.8 L200.7,703.1 L201.2,704.5 L201.5,705.9 L201.3,707.4 L201.0,708.9 L200.6,710.3 L200.2,711.8 L200.2,713.3 M175.0,716.0 L176.3,715.3 L177.7,714.7 L178.9,713.8 L180.1,713.0 L181.6,712.5 L182.9,711.9 L184.4,711.4 L185.9,711.3 L187.3,710.9 L188.8,710.6 L190.3,710.4 L191.7,710.1 L193.2,709.9 M137.1,729.1 L137.4,730.6 L137.9,732.0 L138.6,733.3 L139.6,734.4 L141.0,735.1 L142.4,735.4 L143.9,735.9 L145.3,736.1 M191.8,730.6 L192.6,731.8 L192.8,733.3 L192.2,734.6 L191.2,735.8 L190.1,736.8 L188.7,737.4 L187.2,737.3 L186.0,736.4 L185.2,735.1 L184.6,733.8 M151.4,713.5 L150.1,712.7 L149.0,711.8 L147.6,711.2 L146.2,710.8 L144.7,710.6 L143.2,711.0 L141.8,711.6 L140.4,712.0 L138.9,712.3 M135.4,724.3 L136.8,724.6 L138.3,724.9 L139.7,725.5 L140.9,726.4 L141.7,727.6 L142.7,728.8 L143.0,730.3 L143.3,731.7 L143.5,733.2 L143.9,734.7 L144.1,736.1 L144.3,737.6 M176.3,684.6 L177.8,684.8 L179.1,685.5 L180.4,686.3 L181.5,687.3 L182.8,688.0 L184.0,688.9 L185.1,689.9 L185.9,691.2 L186.8,692.4 L187.2,693.9 M196.0,730.5 L194.6,729.9 L193.2,729.6 L191.7,729.5 L190.2,729.5 L188.7,729.6 L187.2,729.8 L185.7,730.1 L184.3,730.5 L183.1,731.5 M161.0,723.2 L160.6,724.6 L160.7,726.1 L160.6,727.6 L161.0,729.0 L161.6,730.4 L162.1,731.8 L162.4,733.3 L162.7,734.8 L162.6,736.3 M181.3,741.7 L180.9,743.1 L180.2,744.4 L179.5,745.8 L179.0,747.2 L178.4,748.6 L177.5,749.7 L176.2,750.5 L175.1,751.6 L173.9,752.5 M170.4,710.8 L169.6,712.1 L169.0,713.5 L168.8,715.0 L168.6,716.5 L168.7,718.0 L169.2,719.4 L169.6,720.8 L170.2,722.2 L171.1,723.4 L171.9,724.7 L172.9,725.8 L174.0,726.8 L175.1,727.8 M198.3,717.5 L199.1,718.7 L199.5,720.1 L199.6,721.6 L199.4,723.1 L199.1,724.6 L199.0,726.1 L198.4,727.4 L197.6,728.7 L196.5,729.7 M172.9,728.5 L171.7,729.2 L170.3,729.8 L168.8,729.9 L167.3,729.6 L165.9,729.1 L164.6,728.4 L163.2,727.8 L162.3,726.6 M216.1,688.2 L214.7,687.7 L213.2,687.3 L212.2,686.2 L211.2,685.0 L210.6,683.7 M141.2,706.1 L139.7,705.9 L138.2,705.5 L136.9,704.8 L135.7,704.0 L134.4,703.1 L133.5,701.9 L132.7,700.7 L132.1,699.3 L131.9,697.8 L132.1,696.3 L131.9,694.8 L131.9,693.3 M186.5,696.0 L185.7,697.2 L185.3,698.7 L185.2,700.2 L185.3,701.7 L185.7,703.1 L186.5,704.4 L187.6,705.3 M174.4,674.1 L173.1,675.0 L171.9,675.8 L170.5,676.4 L169.1,677.0 L167.7,677.3 L166.2,677.3 L164.7,677.4 L163.2,677.1 L161.7,676.9 L160.4,676.1 M198.9,710.7 L197.6,711.5 L196.5,712.4 L195.6,713.6 L194.4,714.5 L192.9,715.0 L191.5,715.5 L190.1,716.0 L188.7,716.5 L187.2,716.7 L185.7,716.5 L184.2,716.4 L182.7,716.4 L181.2,716.5 M225.3,718.2 L224.1,719.1 L223.0,720.0 L222.0,721.2 L221.2,722.4 L220.5,723.7 L219.7,725.0 L219.2,726.4 L218.7,727.9 L218.4,729.3 L218.6,730.8 L218.7,732.3 L219.1,733.7 M168.1,689.0 L167.8,690.5 L167.3,691.9 L166.7,693.3 L165.9,694.6 L165.6,696.1 L165.0,697.4 L164.2,698.7 L163.0,699.6 L161.5,699.9 L160.0,699.8 M175.0,712.2 L175.8,710.9 L176.6,709.7 L177.5,708.5 L178.6,707.4 L179.8,706.6 L181.2,706.1 L182.7,705.8 L184.1,705.3 L185.6,705.6 L187.1,705.7 L188.5,705.3 M139.9,683.2 L139.2,681.9 L138.7,680.5 L137.9,679.2 L137.2,677.9 L136.3,676.7 L135.2,675.7 L134.0,674.8 L132.9,673.8 L132.0,672.6 L131.0,671.5 L130.1,670.3 M178.6,701.3 L180.1,701.5 L181.5,702.1 L182.6,703.0 L184.0,703.7 L185.3,704.3 L186.8,704.2 L188.3,704.3 L189.8,704.5 L191.3,704.8 L192.8,704.9 L194.3,705.2 M195.3,744.1 L193.9,743.7 L192.5,743.1 L191.1,742.5 L189.6,742.2 L188.2,742.1 M134.3,732.2 L135.3,733.3 L135.9,734.6 L136.4,736.1 L136.8,737.5 L136.9,739.0 L136.8,740.5 L136.5,742.0 L136.0,743.4 L135.2,744.6 L134.3,745.9 L133.4,747.0 L132.7,748.4 M138.0,735.8 L138.9,736.9 L139.9,738.1 L141.0,739.1 L142.2,740.0 L143.3,741.0 L144.5,741.9 L145.7,742.8 L146.9,743.6 L148.3,744.2 L149.8,744.6 M148.2,727.3 L147.8,725.8 L147.5,724.3 L147.5,722.8 L146.9,721.5 L146.3,720.1 L145.6,718.8 L144.4,717.8 L143.1,717.1 L141.9,716.2 L140.6,715.4 L139.3,714.6 M169.6,732.1 L168.2,731.4 L167.0,730.6 L165.6,729.9 L164.3,729.3 L162.8,729.0 L161.3,728.7 L160.0,728.0 L158.6,727.5 M145.3,724.2 L144.6,722.9 L143.7,721.6 L142.8,720.5 L141.9,719.3 L140.7,718.4 L139.4,717.7 L138.0,717.1 L136.5,717.1 L135.1,717.6 L133.8,718.4 L132.8,719.5 L131.7,720.5 L130.7,721.6 M154.0,680.9 L152.8,679.9 L151.6,679.1 L150.6,678.0 L150.7,676.5 L151.8,675.4 L153.3,675.2 L154.8,675.4 L156.0,676.2 L156.6,677.6 L156.4,679.1 M165.0,731.8 L165.6,730.5 L166.9,729.7 L168.4,729.4 L169.9,729.4 L171.4,729.5 L172.6,730.4 L172.7,731.9 L172.1,733.2 L171.5,734.6 L170.3,735.5 L168.8,735.8 M147.3,682.9 L147.7,681.5 L148.1,680.0 L149.0,678.8 L149.8,677.5 L151.1,676.8 L152.3,676.0 L153.8,675.8 L155.3,676.1 L156.7,676.7 M197.5,691.7 L196.1,692.1 L194.7,692.6 L193.4,693.5 L192.2,694.4 L190.8,694.8 L189.4,695.4 L188.3,696.4 L187.6,697.7 M159.0,747.7 L160.5,748.0 L162.0,748.2 L163.5,748.5 L165.0,748.4 L166.4,748.0 L167.9,748.0 L169.4,748.1 L170.9,748.3 L172.4,748.2 L173.9,748.2 L175.4,748.4 L176.8,749.0 L177.9,749.9 M216.4,735.1 L217.5,736.1 L218.2,737.4 L219.0,738.7 L219.3,740.2 L219.7,741.6 L220.2,743.0 L220.8,744.4 L221.5,745.7 L221.9,747.2 M186.8,703.4 L186.4,702.0 L186.3,700.5 L186.8,699.1 L187.9,698.0 L189.3,697.5 L190.7,697.1 L192.2,696.8 L193.7,697.0 L195.2,697.0 L196.6,697.4 M198.0,736.3 L196.9,737.2 L195.7,738.1 L194.6,739.2 L194.0,740.5 L193.9,742.0 L194.2,743.5 L194.9,744.9 M154.1,696.4 L155.5,696.9 L156.8,697.7 L158.2,698.3 L159.7,698.6 L161.2,698.6 L162.7,698.8 L164.1,699.2 L165.4,699.9 M226.7,703.6 L227.7,704.7 L228.7,705.8 L230.0,706.6 L231.3,707.4 L232.7,708.0 L234.0,708.6 L235.5,709.0 L236.9,709.4 L238.4,709.6 M201.7,741.6 L202.5,740.3 L203.3,739.1 L204.4,738.0 L205.5,737.0 L206.9,736.3 L208.0,735.4 L209.4,734.7 L210.6,733.8 L211.9,733.2 M160.0,729.8 L159.4,731.2 L158.7,732.5 L157.7,733.7 L156.5,734.6 L155.2,735.3 L153.8,735.9 L152.4,736.2 L150.9,736.7 L149.4,736.8 M232.2,692.8 L233.5,692.1 L234.9,691.5 L236.2,690.7 L237.4,689.8 L238.6,688.9 L239.9,688.3 M186.5,691.3 L185.0,691.2 L183.5,691.0 L182.0,690.9 L180.6,690.6 L179.1,690.7 L177.6,690.3 L176.2,689.9 L174.9,689.1 L173.6,688.3 M189.5,735.8 L188.1,735.4 L186.6,735.0 L185.3,734.4 L184.2,733.3 L183.5,732.0 L183.0,730.6 L182.6,729.1 L182.2,727.7 L182.1,726.2 M210.6,729.1 L209.1,729.3 L207.6,729.2 L206.1,729.0 L204.7,728.5 L203.3,727.9 L202.0,727.2 L200.9,726.2 L200.2,724.8 L199.1,723.8 L198.2,722.6 L197.4,721.3 L196.9,719.9 L196.0,718.8 M178.1,691.3 L178.6,692.7 L178.6,694.2 L178.2,695.6 L177.9,697.1 L177.4,698.5 L177.3,700.0 L176.7,701.4 L175.6,702.4 L174.3,703.2 M184.3,679.9 L183.8,681.3 L183.5,682.8 L183.3,684.3 L182.7,685.6 L181.9,686.9 L180.7,687.9 L179.5,688.7 L178.4,689.7 L177.3,690.8 L176.3,691.9 L175.3,693.0 M209.8,715.9 L209.1,714.6 L208.2,713.4 L206.8,712.9 L205.3,713.2 L204.0,713.9 L202.7,714.8 L201.6,715.7 L200.6,716.9 L200.0,718.3 M232.8,723.6 L231.4,723.0 L230.2,722.2 L229.2,721.0 L228.6,719.7 L228.7,718.2 L229.1,716.7 M165.9,741.2 L167.3,740.7 L168.7,740.3 L170.2,739.9 L171.7,739.8 L173.2,739.5 L174.6,739.2 L176.1,739.5 L177.5,740.0 L179.0,740.0 L180.4,740.6 L181.8,741.2 L183.0,742.0 L184.1,743.1 L185.2,744.1 M163.6,687.3 L163.6,688.8 L163.7,690.3 L163.1,691.7 L162.3,693.0 L161.3,694.0 L159.8,694.5 L158.4,694.8 L156.9,695.2 L155.5,695.6 L154.0,695.8 L152.5,695.5 L151.2,694.7 L149.9,694.0 M218.1,693.5 L216.6,693.5 L215.2,693.1 L213.8,692.4 L212.6,691.6 L211.5,690.5 L211.1,689.1 L210.6,687.7 L210.4,686.2 L210.6,684.7 L210.9,683.2 L211.4,681.8 M197.2,690.0 L197.3,691.5 L197.5,693.0 L197.9,694.4 L197.8,695.9 L198.1,697.4 L198.1,698.9 L197.7,700.3 L196.8,701.5 L195.6,702.5 L194.2,702.9 M160.8,726.8 L161.5,728.2 L161.7,729.7 L161.9,731.1 L162.3,732.6 L162.6,734.1 L162.9,735.5 L163.9,736.7 L164.8,737.9 L166.0,738.8 L167.5,739.0 L169.0,739.2 L170.4,739.0 M233.9,722.5 L235.2,723.2 L236.5,723.9 L237.9,724.5 L239.2,725.1 L240.2,726.3 L241.1,727.5 L241.5,729.0 M171.0,722.0 L170.5,723.4 L169.8,724.8 L169.5,726.2 L169.1,727.7 L168.7,729.1 L168.1,730.5 L167.4,731.8 L166.4,732.9 L165.4,734.1 L164.7,735.4 L163.9,736.6 M170.6,726.3 L169.6,727.4 L168.1,727.8 L166.6,727.8 L165.2,727.4 L163.9,726.6 L163.4,725.2 L163.8,723.7 L164.7,722.5 M195.2,727.5 L196.5,726.8 L197.9,726.2 L199.2,725.4 L200.4,724.5 L201.2,723.3 L202.1,722.1 L203.0,720.8 L203.3,719.4 L203.7,717.9 L204.2,716.5 M199.5,723.1 L198.3,722.1 L197.2,721.1 L196.0,720.3 L194.6,719.7 L193.2,719.1 M165.1,736.6 L166.4,737.4 L167.6,738.3 L168.9,739.1 L170.2,739.9 L171.5,740.6 L172.9,741.1 L174.2,741.8 L175.7,741.8 L177.2,741.8 L178.7,741.4 L180.0,740.8 L181.3,740.1 M149.1,723.5 L148.0,722.5 L147.1,721.3 L146.0,720.2 L144.7,719.5 L143.2,719.2 L141.8,718.8 L140.3,719.2 L138.8,719.0 L137.4,718.8 L135.9,718.8 L134.4,719.0 M230.0,698.6 L229.3,699.9 L228.9,701.3 L228.9,702.8 L229.2,704.3 L229.7,705.7 L230.1,707.2 L230.4,708.6 L230.8,710.1 L231.7,711.3 L232.9,712.2 L234.1,713.0 M201.3,703.9 L199.8,703.7 L198.3,703.4 L196.8,703.3 L195.3,703.4 L193.8,703.4 L192.3,703.4 L190.9,703.0 L190.0,701.9 L189.2,700.6 L188.5,699.2 M227.5,723.2 L226.0,722.9 L224.5,722.6 L223.1,722.2 L221.9,721.4 L220.6,720.6 L219.7,719.3 L218.8,718.1 L218.2,716.8 L217.7,715.4 L217.9,713.9 L218.1,712.4 L218.2,710.9 M218.9,672.0 L218.5,670.5 L217.9,669.1 L217.0,668.0 L216.5,666.6 L216.1,665.1 L215.8,663.6 L215.0,662.4 L214.2,661.1 L213.3,659.9 L212.6,658.6 L211.5,657.5 L210.8,656.2 M209.8,730.7 L208.8,729.6 L207.9,728.3 L207.1,727.1 L206.5,725.7 L206.0,724.3 L206.0,722.8 L206.3,721.3 L206.5,719.8 L206.9,718.4 M171.0,733.9 L171.8,732.6 L172.8,731.5 L174.1,730.8 L175.6,730.5 L177.1,730.4 L178.5,731.0 L179.9,731.4 L181.2,732.1 L182.4,733.1 M232.7,732.2 L232.8,733.7 L232.9,735.2 L233.0,736.7 L232.8,738.2 L232.9,739.7 L233.1,741.1" stroke="rgb(170,162,188)" stroke-width="3.6"/><path d="M156.1,738.0 L156.1,739.5 L155.5,740.8 L154.1,741.5 L152.7,741.9 L151.2,742.0 L149.8,741.4 L148.6,740.5 L147.5,739.4 L146.9,738.1 L146.7,736.6 L147.1,735.2 L147.7,733.8 L148.5,732.5 M196.9,715.7 L195.5,715.2 L194.0,715.2 L192.5,715.6 L191.0,715.9 L189.6,716.2 L188.2,716.7 L186.9,717.4 M134.1,710.7 L133.1,709.6 L132.3,708.3 L131.6,707.0 L131.0,705.6 L130.7,704.1 L130.6,702.6 L131.1,701.2 L131.8,699.9 L132.9,698.9 L134.1,698.0 L135.4,697.1 L136.7,696.4 L138.1,696.0 L139.6,695.8 M197.6,733.5 L199.0,733.0 L200.5,732.7 L201.9,733.2 L203.2,734.0 L204.5,734.7 L205.8,735.5 L207.0,736.3 L207.7,737.6 L208.3,739.0 L207.8,740.5 L207.0,741.7 L205.9,742.7 L204.6,743.6 M144.0,700.6 L142.7,700.0 L141.4,699.1 L139.9,698.9 L138.6,698.2 L137.1,697.9 L135.9,697.0 L135.4,695.6 L134.9,694.1 L134.3,692.8 L133.6,691.5 L133.2,690.0 L133.1,688.5 L132.9,687.0 M186.7,721.9 L187.9,721.1 L189.3,720.5 L190.7,720.0 L192.2,719.9 L193.7,719.5 L195.1,719.0 L196.4,718.2 L197.5,717.2 L198.8,716.4 L200.0,715.5 L201.1,714.5 L202.0,713.3 L202.8,712.0 L203.7,710.8 M140.3,689.8 L141.7,690.3 L143.0,690.9 L144.4,691.5 L145.7,692.3 L147.0,693.0 L148.5,693.1 L150.0,693.3 L151.5,693.6 L152.9,694.0 L154.4,694.1 L155.7,694.9 L157.2,695.2 M137.0,712.9 L136.5,714.3 L136.1,715.8 L135.5,717.2 L134.2,718.0 L133.2,719.0 L132.0,719.9 L130.5,720.3 L129.0,720.4 L127.5,720.3 L126.0,720.6 L124.7,721.2 L123.3,721.9 L121.9,722.5 M188.2,691.5 L189.6,692.2 L191.1,692.1 L192.5,691.7 L194.0,691.4 L195.5,691.1 L196.9,690.6 L198.2,689.8 M192.9,717.6 L192.1,718.9 L190.9,719.7 L189.5,720.4 L188.0,720.7 L186.5,720.9 L185.1,721.2 L183.6,720.8 L182.4,719.9 L181.2,719.1 L180.2,717.9 L179.7,716.5 L179.6,715.0 M183.8,720.6 L182.3,720.5 L180.8,720.4 L179.3,720.4 L177.8,720.8 L176.4,721.1 L175.0,721.8 M149.4,702.4 L150.9,702.7 L152.4,702.9 L153.7,703.6 L154.9,704.5 L155.9,705.6 L156.8,706.8 L157.7,708.0 L158.9,708.8 L159.8,710.0 L160.9,711.1 L161.6,712.4 L162.3,713.7 M142.5,689.3 L141.1,689.9 L139.9,690.7 L138.7,691.6 L137.3,692.3 L135.9,692.6 L134.4,692.5 M205.4,691.5 L206.9,692.0 L208.2,692.6 L209.5,693.5 L210.8,694.1 L212.3,694.5 L213.8,694.6 L215.3,694.8 L216.7,695.0 L218.1,695.6 L219.5,696.3 M199.7,707.5 L199.1,708.9 L198.8,710.3 L198.8,711.8 L199.2,713.3 L199.4,714.8 L199.8,716.2 L200.7,717.4 L201.7,718.5 M215.2,705.4 L213.9,706.1 L212.7,707.1 L211.5,708.0 L210.3,708.9 L209.3,710.0 M225.4,704.4 L226.6,703.6 L227.7,702.5 L228.1,701.1 L228.7,699.7 L228.5,698.2 L227.8,696.9 L226.9,695.7 L225.8,694.7 L224.5,693.8 L223.1,693.4 L221.6,693.2 L220.1,693.4 L218.9,694.3 M227.9,745.3 L227.5,743.9 L227.4,742.4 L227.4,740.9 L227.6,739.4 L228.1,738.0 L228.7,736.7 M215.2,706.6 L213.7,706.6 L212.3,706.3 L210.8,706.0 L209.4,705.6 L208.0,704.9 M210.5,721.6 L212.0,721.7 L213.5,721.5 L215.0,721.2 L216.4,721.6 L217.9,721.7 L219.4,722.1 L220.8,722.6 L222.0,723.4 M166.1,709.9 L166.6,708.5 L167.3,707.2 L167.6,705.7 L167.8,704.2 L167.0,702.9 L166.3,701.6 L165.2,700.5 L164.0,699.7 L162.5,699.4 M170.2,733.2 L171.4,732.4 L172.5,731.3 L173.4,730.1 L174.0,728.7 L174.6,727.3 L175.6,726.2 L176.6,725.1 L177.5,723.9 L178.1,722.6 L178.8,721.2 L179.7,720.0 L179.8,718.5 L179.4,717.1 M197.8,744.5 L198.9,743.4 L200.3,742.7 L201.7,743.1 L203.0,743.9 L204.1,744.9 L205.1,746.1 L205.6,747.5 L205.8,748.9 L205.6,750.4 L204.9,751.7 L204.6,753.2 M202.8,733.9 L202.9,735.4 L203.2,736.8 L203.8,738.2 L204.0,739.7 L204.6,741.1 L205.1,742.5 M161.0,672.9 L161.6,671.5 L162.4,670.3 L162.7,668.8 L162.9,667.3 L162.5,665.9 L161.8,664.5 M194.7,697.8 L195.1,699.2 L195.2,700.7 L195.5,702.2 L195.6,703.7 L195.0,705.1 L194.4,706.4 L194.0,707.9 L193.4,709.3 L192.8,710.6 L192.2,712.0 L191.7,713.5 L191.4,714.9 L191.0,716.4 L190.7,717.8 M208.3,690.0 L206.9,689.4 L205.5,689.1 L204.0,688.7 L202.5,688.6 L201.1,689.0 L199.6,688.9 L198.1,689.2 L196.6,689.1 L195.1,689.0 M199.9,701.8 L200.7,703.1 L201.2,704.5 L201.5,705.9 L201.3,707.4 L201.0,708.9 L200.6,710.3 L200.2,711.8 L200.2,713.3 M175.0,716.0 L176.3,715.3 L177.7,714.7 L178.9,713.8 L180.1,713.0 L181.6,712.5 L182.9,711.9 L184.4,711.4 L185.9,711.3 L187.3,710.9 L188.8,710.6 L190.3,710.4 L191.7,710.1 L193.2,709.9 M137.1,729.1 L137.4,730.6 L137.9,732.0 L138.6,733.3 L139.6,734.4 L141.0,735.1 L142.4,735.4 L143.9,735.9 L145.3,736.1 M191.8,730.6 L192.6,731.8 L192.8,733.3 L192.2,734.6 L191.2,735.8 L190.1,736.8 L188.7,737.4 L187.2,737.3 L186.0,736.4 L185.2,735.1 L184.6,733.8 M151.4,713.5 L150.1,712.7 L149.0,711.8 L147.6,711.2 L146.2,710.8 L144.7,710.6 L143.2,711.0 L141.8,711.6 L140.4,712.0 L138.9,712.3 M135.4,724.3 L136.8,724.6 L138.3,724.9 L139.7,725.5 L140.9,726.4 L141.7,727.6 L142.7,728.8 L143.0,730.3 L143.3,731.7 L143.5,733.2 L143.9,734.7 L144.1,736.1 L144.3,737.6 M176.3,684.6 L177.8,684.8 L179.1,685.5 L180.4,686.3 L181.5,687.3 L182.8,688.0 L184.0,688.9 L185.1,689.9 L185.9,691.2 L186.8,692.4 L187.2,693.9 M196.0,730.5 L194.6,729.9 L193.2,729.6 L191.7,729.5 L190.2,729.5 L188.7,729.6 L187.2,729.8 L185.7,730.1 L184.3,730.5 L183.1,731.5 M161.0,723.2 L160.6,724.6 L160.7,726.1 L160.6,727.6 L161.0,729.0 L161.6,730.4 L162.1,731.8 L162.4,733.3 L162.7,734.8 L162.6,736.3 M181.3,741.7 L180.9,743.1 L180.2,744.4 L179.5,745.8 L179.0,747.2 L178.4,748.6 L177.5,749.7 L176.2,750.5 L175.1,751.6 L173.9,752.5 M170.4,710.8 L169.6,712.1 L169.0,713.5 L168.8,715.0 L168.6,716.5 L168.7,718.0 L169.2,719.4 L169.6,720.8 L170.2,722.2 L171.1,723.4 L171.9,724.7 L172.9,725.8 L174.0,726.8 L175.1,727.8 M198.3,717.5 L199.1,718.7 L199.5,720.1 L199.6,721.6 L199.4,723.1 L199.1,724.6 L199.0,726.1 L198.4,727.4 L197.6,728.7 L196.5,729.7 M172.9,728.5 L171.7,729.2 L170.3,729.8 L168.8,729.9 L167.3,729.6 L165.9,729.1 L164.6,728.4 L163.2,727.8 L162.3,726.6 M216.1,688.2 L214.7,687.7 L213.2,687.3 L212.2,686.2 L211.2,685.0 L210.6,683.7 M141.2,706.1 L139.7,705.9 L138.2,705.5 L136.9,704.8 L135.7,704.0 L134.4,703.1 L133.5,701.9 L132.7,700.7 L132.1,699.3 L131.9,697.8 L132.1,696.3 L131.9,694.8 L131.9,693.3 M186.5,696.0 L185.7,697.2 L185.3,698.7 L185.2,700.2 L185.3,701.7 L185.7,703.1 L186.5,704.4 L187.6,705.3 M174.4,674.1 L173.1,675.0 L171.9,675.8 L170.5,676.4 L169.1,677.0 L167.7,677.3 L166.2,677.3 L164.7,677.4 L163.2,677.1 L161.7,676.9 L160.4,676.1 M198.9,710.7 L197.6,711.5 L196.5,712.4 L195.6,713.6 L194.4,714.5 L192.9,715.0 L191.5,715.5 L190.1,716.0 L188.7,716.5 L187.2,716.7 L185.7,716.5 L184.2,716.4 L182.7,716.4 L181.2,716.5 M225.3,718.2 L224.1,719.1 L223.0,720.0 L222.0,721.2 L221.2,722.4 L220.5,723.7 L219.7,725.0 L219.2,726.4 L218.7,727.9 L218.4,729.3 L218.6,730.8 L218.7,732.3 L219.1,733.7 M168.1,689.0 L167.8,690.5 L167.3,691.9 L166.7,693.3 L165.9,694.6 L165.6,696.1 L165.0,697.4 L164.2,698.7 L163.0,699.6 L161.5,699.9 L160.0,699.8 M175.0,712.2 L175.8,710.9 L176.6,709.7 L177.5,708.5 L178.6,707.4 L179.8,706.6 L181.2,706.1 L182.7,705.8 L184.1,705.3 L185.6,705.6 L187.1,705.7 L188.5,705.3 M139.9,683.2 L139.2,681.9 L138.7,680.5 L137.9,679.2 L137.2,677.9 L136.3,676.7 L135.2,675.7 L134.0,674.8 L132.9,673.8 L132.0,672.6 L131.0,671.5 L130.1,670.3 M178.6,701.3 L180.1,701.5 L181.5,702.1 L182.6,703.0 L184.0,703.7 L185.3,704.3 L186.8,704.2 L188.3,704.3 L189.8,704.5 L191.3,704.8 L192.8,704.9 L194.3,705.2 M195.3,744.1 L193.9,743.7 L192.5,743.1 L191.1,742.5 L189.6,742.2 L188.2,742.1 M134.3,732.2 L135.3,733.3 L135.9,734.6 L136.4,736.1 L136.8,737.5 L136.9,739.0 L136.8,740.5 L136.5,742.0 L136.0,743.4 L135.2,744.6 L134.3,745.9 L133.4,747.0 L132.7,748.4 M138.0,735.8 L138.9,736.9 L139.9,738.1 L141.0,739.1 L142.2,740.0 L143.3,741.0 L144.5,741.9 L145.7,742.8 L146.9,743.6 L148.3,744.2 L149.8,744.6 M148.2,727.3 L147.8,725.8 L147.5,724.3 L147.5,722.8 L146.9,721.5 L146.3,720.1 L145.6,718.8 L144.4,717.8 L143.1,717.1 L141.9,716.2 L140.6,715.4 L139.3,714.6 M169.6,732.1 L168.2,731.4 L167.0,730.6 L165.6,729.9 L164.3,729.3 L162.8,729.0 L161.3,728.7 L160.0,728.0 L158.6,727.5 M145.3,724.2 L144.6,722.9 L143.7,721.6 L142.8,720.5 L141.9,719.3 L140.7,718.4 L139.4,717.7 L138.0,717.1 L136.5,717.1 L135.1,717.6 L133.8,718.4 L132.8,719.5 L131.7,720.5 L130.7,721.6 M154.0,680.9 L152.8,679.9 L151.6,679.1 L150.6,678.0 L150.7,676.5 L151.8,675.4 L153.3,675.2 L154.8,675.4 L156.0,676.2 L156.6,677.6 L156.4,679.1 M165.0,731.8 L165.6,730.5 L166.9,729.7 L168.4,729.4 L169.9,729.4 L171.4,729.5 L172.6,730.4 L172.7,731.9 L172.1,733.2 L171.5,734.6 L170.3,735.5 L168.8,735.8 M147.3,682.9 L147.7,681.5 L148.1,680.0 L149.0,678.8 L149.8,677.5 L151.1,676.8 L152.3,676.0 L153.8,675.8 L155.3,676.1 L156.7,676.7 M197.5,691.7 L196.1,692.1 L194.7,692.6 L193.4,693.5 L192.2,694.4 L190.8,694.8 L189.4,695.4 L188.3,696.4 L187.6,697.7 M159.0,747.7 L160.5,748.0 L162.0,748.2 L163.5,748.5 L165.0,748.4 L166.4,748.0 L167.9,748.0 L169.4,748.1 L170.9,748.3 L172.4,748.2 L173.9,748.2 L175.4,748.4 L176.8,749.0 L177.9,749.9 M216.4,735.1 L217.5,736.1 L218.2,737.4 L219.0,738.7 L219.3,740.2 L219.7,741.6 L220.2,743.0 L220.8,744.4 L221.5,745.7 L221.9,747.2 M186.8,703.4 L186.4,702.0 L186.3,700.5 L186.8,699.1 L187.9,698.0 L189.3,697.5 L190.7,697.1 L192.2,696.8 L193.7,697.0 L195.2,697.0 L196.6,697.4 M198.0,736.3 L196.9,737.2 L195.7,738.1 L194.6,739.2 L194.0,740.5 L193.9,742.0 L194.2,743.5 L194.9,744.9 M154.1,696.4 L155.5,696.9 L156.8,697.7 L158.2,698.3 L159.7,698.6 L161.2,698.6 L162.7,698.8 L164.1,699.2 L165.4,699.9 M226.7,703.6 L227.7,704.7 L228.7,705.8 L230.0,706.6 L231.3,707.4 L232.7,708.0 L234.0,708.6 L235.5,709.0 L236.9,709.4 L238.4,709.6 M201.7,741.6 L202.5,740.3 L203.3,739.1 L204.4,738.0 L205.5,737.0 L206.9,736.3 L208.0,735.4 L209.4,734.7 L210.6,733.8 L211.9,733.2 M160.0,729.8 L159.4,731.2 L158.7,732.5 L157.7,733.7 L156.5,734.6 L155.2,735.3 L153.8,735.9 L152.4,736.2 L150.9,736.7 L149.4,736.8 M232.2,692.8 L233.5,692.1 L234.9,691.5 L236.2,690.7 L237.4,689.8 L238.6,688.9 L239.9,688.3 M186.5,691.3 L185.0,691.2 L183.5,691.0 L182.0,690.9 L180.6,690.6 L179.1,690.7 L177.6,690.3 L176.2,689.9 L174.9,689.1 L173.6,688.3 M189.5,735.8 L188.1,735.4 L186.6,735.0 L185.3,734.4 L184.2,733.3 L183.5,732.0 L183.0,730.6 L182.6,729.1 L182.2,727.7 L182.1,726.2 M210.6,729.1 L209.1,729.3 L207.6,729.2 L206.1,729.0 L204.7,728.5 L203.3,727.9 L202.0,727.2 L200.9,726.2 L200.2,724.8 L199.1,723.8 L198.2,722.6 L197.4,721.3 L196.9,719.9 L196.0,718.8 M178.1,691.3 L178.6,692.7 L178.6,694.2 L178.2,695.6 L177.9,697.1 L177.4,698.5 L177.3,700.0 L176.7,701.4 L175.6,702.4 L174.3,703.2 M184.3,679.9 L183.8,681.3 L183.5,682.8 L183.3,684.3 L182.7,685.6 L181.9,686.9 L180.7,687.9 L179.5,688.7 L178.4,689.7 L177.3,690.8 L176.3,691.9 L175.3,693.0 M209.8,715.9 L209.1,714.6 L208.2,713.4 L206.8,712.9 L205.3,713.2 L204.0,713.9 L202.7,714.8 L201.6,715.7 L200.6,716.9 L200.0,718.3 M232.8,723.6 L231.4,723.0 L230.2,722.2 L229.2,721.0 L228.6,719.7 L228.7,718.2 L229.1,716.7 M165.9,741.2 L167.3,740.7 L168.7,740.3 L170.2,739.9 L171.7,739.8 L173.2,739.5 L174.6,739.2 L176.1,739.5 L177.5,740.0 L179.0,740.0 L180.4,740.6 L181.8,741.2 L183.0,742.0 L184.1,743.1 L185.2,744.1 M163.6,687.3 L163.6,688.8 L163.7,690.3 L163.1,691.7 L162.3,693.0 L161.3,694.0 L159.8,694.5 L158.4,694.8 L156.9,695.2 L155.5,695.6 L154.0,695.8 L152.5,695.5 L151.2,694.7 L149.9,694.0 M218.1,693.5 L216.6,693.5 L215.2,693.1 L213.8,692.4 L212.6,691.6 L211.5,690.5 L211.1,689.1 L210.6,687.7 L210.4,686.2 L210.6,684.7 L210.9,683.2 L211.4,681.8 M197.2,690.0 L197.3,691.5 L197.5,693.0 L197.9,694.4 L197.8,695.9 L198.1,697.4 L198.1,698.9 L197.7,700.3 L196.8,701.5 L195.6,702.5 L194.2,702.9 M160.8,726.8 L161.5,728.2 L161.7,729.7 L161.9,731.1 L162.3,732.6 L162.6,734.1 L162.9,735.5 L163.9,736.7 L164.8,737.9 L166.0,738.8 L167.5,739.0 L169.0,739.2 L170.4,739.0 M233.9,722.5 L235.2,723.2 L236.5,723.9 L237.9,724.5 L239.2,725.1 L240.2,726.3 L241.1,727.5 L241.5,729.0 M171.0,722.0 L170.5,723.4 L169.8,724.8 L169.5,726.2 L169.1,727.7 L168.7,729.1 L168.1,730.5 L167.4,731.8 L166.4,732.9 L165.4,734.1 L164.7,735.4 L163.9,736.6 M170.6,726.3 L169.6,727.4 L168.1,727.8 L166.6,727.8 L165.2,727.4 L163.9,726.6 L163.4,725.2 L163.8,723.7 L164.7,722.5 M195.2,727.5 L196.5,726.8 L197.9,726.2 L199.2,725.4 L200.4,724.5 L201.2,723.3 L202.1,722.1 L203.0,720.8 L203.3,719.4 L203.7,717.9 L204.2,716.5 M199.5,723.1 L198.3,722.1 L197.2,721.1 L196.0,720.3 L194.6,719.7 L193.2,719.1 M165.1,736.6 L166.4,737.4 L167.6,738.3 L168.9,739.1 L170.2,739.9 L171.5,740.6 L172.9,741.1 L174.2,741.8 L175.7,741.8 L177.2,741.8 L178.7,741.4 L180.0,740.8 L181.3,740.1 M149.1,723.5 L148.0,722.5 L147.1,721.3 L146.0,720.2 L144.7,719.5 L143.2,719.2 L141.8,718.8 L140.3,719.2 L138.8,719.0 L137.4,718.8 L135.9,718.8 L134.4,719.0 M230.0,698.6 L229.3,699.9 L228.9,701.3 L228.9,702.8 L229.2,704.3 L229.7,705.7 L230.1,707.2 L230.4,708.6 L230.8,710.1 L231.7,711.3 L232.9,712.2 L234.1,713.0 M201.3,703.9 L199.8,703.7 L198.3,703.4 L196.8,703.3 L195.3,703.4 L193.8,703.4 L192.3,703.4 L190.9,703.0 L190.0,701.9 L189.2,700.6 L188.5,699.2 M227.5,723.2 L226.0,722.9 L224.5,722.6 L223.1,722.2 L221.9,721.4 L220.6,720.6 L219.7,719.3 L218.8,718.1 L218.2,716.8 L217.7,715.4 L217.9,713.9 L218.1,712.4 L218.2,710.9 M218.9,672.0 L218.5,670.5 L217.9,669.1 L217.0,668.0 L216.5,666.6 L216.1,665.1 L215.8,663.6 L215.0,662.4 L214.2,661.1 L213.3,659.9 L212.6,658.6 L211.5,657.5 L210.8,656.2 M209.8,730.7 L208.8,729.6 L207.9,728.3 L207.1,727.1 L206.5,725.7 L206.0,724.3 L206.0,722.8 L206.3,721.3 L206.5,719.8 L206.9,718.4 M171.0,733.9 L171.8,732.6 L172.8,731.5 L174.1,730.8 L175.6,730.5 L177.1,730.4 L178.5,731.0 L179.9,731.4 L181.2,732.1 L182.4,733.1 M232.7,732.2 L232.8,733.7 L232.9,735.2 L233.0,736.7 L232.8,738.2 L232.9,739.7 L233.1,741.1" stroke="rgb(226,232,236)" stroke-width="1.3"/></g>
<path d="M146.90,682.20 C146.73,681.37 150.90,680.03 152.90,680.20 C154.90,680.37 158.73,682.37 158.90,683.20 C159.07,684.03 155.90,685.37 153.90,685.20 C151.90,685.03 147.07,683.03 146.90,682.20 Z" fill="#e6f4f0"  opacity="1"/>
<path d="M163.90,685.20 C165.07,684.37 169.73,683.20 171.90,683.20 C174.07,683.20 177.07,684.37 176.90,685.20 C176.73,686.03 172.90,687.70 170.90,688.20 C168.90,688.70 166.07,688.70 164.90,688.20 C163.73,687.70 162.73,686.03 163.90,685.20 Z" fill="#e6f4f0"  opacity="1"/>
<path d="M140.90,714.20 C142.23,712.20 145.57,709.87 146.90,710.20 C148.23,710.53 149.57,714.20 148.90,716.20 C148.23,718.20 144.57,721.20 142.90,722.20 C141.23,723.20 139.23,723.53 138.90,722.20 C138.57,720.87 139.57,716.20 140.90,714.20 Z" fill="#e6f4f0"  opacity="1"/>
<path d="M222.90,702.20 C223.57,699.87 227.90,696.87 228.90,698.20 C229.90,699.53 229.57,707.87 228.90,710.20 C228.23,712.53 225.90,713.53 224.90,712.20 C223.90,710.87 222.23,704.53 222.90,702.20 Z" fill="#e6f4f0"  opacity="1"/>
<path d="M182.90,716.20 C183.57,715.03 187.57,712.87 188.90,713.20 C190.23,713.53 191.57,717.03 190.90,718.20 C190.23,719.37 186.23,720.53 184.90,720.20 C183.57,719.87 182.23,717.37 182.90,716.20 Z" fill="#e6f4f0"  opacity="1"/>
</g>
<rect x="138.90" y="676.20" width="90.20" height="66.70" fill="#000" filter="url(#nf5)"/>
<rect x="138.90" y="676.20" width="90.20" height="66.70" fill="#000" filter="url(#nf6)"/>
</g>
<rect x="212.10" y="734.30" width="17.00" height="8.60" fill="#fff" />
<rect x="214.10" y="736.50" width="12.60" height="1.30" fill="#151515" />
<text x="214.10" y="741.50" font-size="3.3" fill="#222" text-anchor="start" font-weight="bold"  style="">100 µm</text>
<g clip-path="url(#cp3)">
<rect x="237.40" y="676.20" width="90.20" height="66.70" fill="rgb(222,218,228)" />
<rect x="237.40" y="676.20" width="90.20" height="66.70" fill="#000" filter="url(#nf7)"/>
<rect x="237.40" y="676.20" width="90.20" height="66.70" fill="#000" filter="url(#nf8)"/>
<g filter="url(#sblur)">
<path d="M248.40,676.20 C245.90,677.87 249.07,683.87 250.40,686.20 C251.73,688.53 254.23,689.87 256.40,690.20 C258.57,690.53 261.90,690.53 263.40,688.20 C264.90,685.87 267.90,678.20 265.40,676.20 C262.90,674.20 250.90,674.53 248.40,676.20 Z" fill="#f2eef0" stroke="#b48f9c" stroke-width="2.0" stroke-linejoin="round" opacity="1"/>
<path d="M268.40,676.20 C266.23,677.87 268.90,684.03 270.40,686.20 C271.90,688.37 275.40,689.20 277.40,689.20 C279.40,689.20 281.40,688.37 282.40,686.20 C283.40,684.03 285.73,677.87 283.40,676.20 C281.07,674.53 270.57,674.53 268.40,676.20 Z" fill="#f2eef0" stroke="#b48f9c" stroke-width="2.0" stroke-linejoin="round" opacity="1"/>
<path d="M250.40,701.20 C250.73,699.37 255.07,698.20 257.40,698.20 C259.73,698.20 263.40,699.53 264.40,701.20 C265.40,702.87 264.90,706.87 263.40,708.20 C261.90,709.53 257.57,710.37 255.40,709.20 C253.23,708.03 250.07,703.03 250.40,701.20 Z" fill="#d6c2ca" stroke="#b48f9c" stroke-width="1.4" stroke-linejoin="round" opacity="0.8"/>
<path d="M244.40,724.20 C245.73,721.03 249.90,720.37 253.40,720.20 C256.90,720.03 263.07,720.53 265.40,723.20 C267.73,725.87 268.73,733.03 267.40,736.20 C266.07,739.37 261.07,741.70 257.40,742.20 C253.73,742.70 247.57,742.20 245.40,739.20 C243.23,736.20 243.07,727.37 244.40,724.20 Z" fill="#d9c9d0" stroke="#b48f9c" stroke-width="1.0" stroke-linejoin="round" opacity="0.45"/>
<path d="M295.40,738.20 C294.40,734.87 295.73,726.20 296.40,722.20 C297.07,718.20 298.40,714.53 299.40,714.20 C300.40,713.87 301.40,716.53 302.40,720.20 C303.40,723.87 305.40,732.53 305.40,736.20 C305.40,739.87 304.07,741.87 302.40,742.20 C300.73,742.53 296.40,741.53 295.40,738.20 Z" fill="#efe8eb" stroke="#b48f9c" stroke-width="1.8" stroke-linejoin="round" opacity="0.9"/>
<path d="M289.40,716.20 C290.07,710.87 293.57,711.53 295.40,710.20 C297.23,708.87 298.40,707.20 300.40,708.20 C302.40,709.20 305.90,711.87 307.40,716.20 C308.90,720.53 309.40,729.87 309.40,734.20 C309.40,738.53 310.40,740.87 307.40,742.20 C304.40,743.53 294.40,746.53 291.40,742.20 C288.40,737.87 288.73,721.53 289.40,716.20 Z" fill="none" stroke="#b48f9c" stroke-width="1.2" stroke-linejoin="round" opacity="0.6"/>
<path d="M315.40,676.20 C316.07,675.53 319.57,681.20 321.40,686.20 C323.23,691.20 325.73,700.87 326.40,706.20 C327.07,711.53 326.23,718.20 325.40,718.20 C324.57,718.20 322.73,710.87 321.40,706.20 C320.07,701.53 318.40,695.20 317.40,690.20 C316.40,685.20 314.73,676.87 315.40,676.20 Z" fill="#c8a9b6"  opacity="0.7"/>
</g>
</g>
<rect x="310.60" y="734.30" width="17.00" height="8.60" fill="#fff" />
<rect x="312.60" y="736.50" width="12.60" height="1.30" fill="#151515" />
<text x="312.60" y="741.50" font-size="3.3" fill="#222" text-anchor="start" font-weight="bold"  style="">100 µm</text>
<g clip-path="url(#cp4)">
<rect x="336.30" y="676.20" width="90.00" height="66.70" fill="rgb(200,190,208)" />
<rect x="336.30" y="676.20" width="90.00" height="66.70" fill="#000" filter="url(#nf9)"/>
<rect x="336.30" y="676.20" width="90.00" height="66.70" fill="#000" filter="url(#nf10)"/>
<g filter="url(#sblur)">
<path d="M336.30,716.20 C338.30,713.70 344.30,712.20 348.30,710.20 C352.30,708.20 356.80,706.37 360.30,704.20 C363.80,702.03 366.30,699.53 369.30,697.20 C372.30,694.87 375.47,692.53 378.30,690.20 C381.13,687.87 384.30,685.37 386.30,683.20 C388.30,681.03 386.63,678.20 390.30,677.20 C393.97,676.20 404.47,675.37 408.30,677.20 C412.13,679.03 411.63,687.37 413.30,688.20 C414.97,689.03 416.13,682.87 418.30,682.20 C420.47,681.53 424.97,679.87 426.30,684.20 C427.63,688.53 427.30,703.20 426.30,708.20 C425.30,713.20 422.47,713.87 420.30,714.20 C418.13,714.53 415.97,711.53 413.30,710.20 C410.63,708.87 406.63,708.03 404.30,706.20 C401.97,704.37 401.13,701.37 399.30,699.20 C397.47,697.03 395.13,693.87 393.30,693.20 C391.47,692.53 390.30,694.20 388.30,695.20 C386.30,696.20 383.63,697.87 381.30,699.20 C378.97,700.53 376.80,701.53 374.30,703.20 C371.80,704.87 369.30,707.20 366.30,709.20 C363.30,711.20 359.63,713.20 356.30,715.20 C352.97,717.20 349.63,719.53 346.30,721.20 C342.97,722.87 337.97,726.03 336.30,725.20 C334.63,724.37 334.30,718.70 336.30,716.20 Z" fill="#f5efe8" stroke="#a87078" stroke-width="1.5" stroke-linejoin="round" opacity="1"/>
<path d="M363.30,694.20 C363.97,692.70 367.30,690.53 369.30,690.20 C371.30,689.87 374.63,690.70 375.30,692.20 C375.97,693.70 374.97,698.03 373.30,699.20 C371.63,700.37 366.97,700.03 365.30,699.20 C363.63,698.37 362.63,695.70 363.30,694.20 Z" fill="#bdb5cf"  opacity="1"/>
<path d="M392.30,717.20 C392.97,714.37 397.63,711.87 400.30,711.20 C402.97,710.53 405.63,711.70 408.30,713.20 C410.97,714.70 415.63,717.70 416.30,720.20 C416.97,722.70 414.30,727.20 412.30,728.20 C410.30,729.20 406.97,726.20 404.30,726.20 C401.63,726.20 398.30,729.70 396.30,728.20 C394.30,726.70 391.63,720.03 392.30,717.20 Z" fill="#dccad0" stroke="#a87078" stroke-width="1.2" stroke-linejoin="round" opacity="1"/>
<path d="M346.30,737.20 C348.63,735.70 353.63,733.20 356.30,733.20 C358.97,733.20 362.97,735.70 362.30,737.20 C361.63,738.70 355.63,741.37 352.30,742.20 C348.97,743.03 343.30,743.03 342.30,742.20 C341.30,741.37 343.97,738.70 346.30,737.20 Z" fill="#efe6e2" stroke="#a87078" stroke-width="1.0" stroke-linejoin="round" opacity="1"/>
</g>
</g>
<rect x="409.30" y="734.30" width="17.00" height="8.60" fill="#fff" />
<rect x="411.30" y="736.50" width="12.60" height="1.30" fill="#151515" />
<text x="411.30" y="741.50" font-size="3.3" fill="#222" text-anchor="start" font-weight="bold"  style="">100 µm</text>
<g clip-path="url(#cp5)">
<rect x="38.70" y="748.00" width="89.70" height="66.90" fill="rgb(176,184,214)" />
<rect x="38.70" y="748.00" width="89.70" height="66.90" fill="#000" filter="url(#nf11)"/>
<rect x="38.70" y="748.00" width="89.70" height="66.90" fill="#000" filter="url(#nf12)"/>
<rect x="38.70" y="748.00" width="89.70" height="66.90" fill="#000" filter="url(#nf13)"/>
<g filter="url(#sblur)">
<path d="M90.70,748.00 C91.20,744.67 94.20,745.00 94.70,748.00 C95.20,751.00 94.20,762.67 93.70,766.00 C93.20,769.33 92.20,771.00 91.70,768.00 C91.20,765.00 90.20,751.33 90.70,748.00 Z" fill="#e6e8f0"  opacity="1"/>
</g>
</g>
<rect x="111.40" y="806.30" width="17.00" height="8.60" fill="#fff" />
<rect x="113.40" y="808.50" width="12.60" height="1.30" fill="#151515" />
<text x="113.40" y="813.50" font-size="3.3" fill="#222" text-anchor="start" font-weight="bold"  style="">100 µm</text>
<g clip-path="url(#cp6)">
<rect x="138.90" y="748.00" width="90.20" height="66.90" fill="rgb(194,190,210)" />
<rect x="138.90" y="748.00" width="90.20" height="66.90" fill="#000" filter="url(#nf14)"/>
<rect x="138.90" y="748.00" width="90.20" height="66.90" fill="#000" filter="url(#nf15)"/>
<rect x="138.90" y="748.00" width="90.20" height="66.90" fill="#000" filter="url(#nf16)"/>
<g filter="url(#sblur)">
<path d="M146.90,779.00 C146.57,778.00 153.23,776.00 156.90,776.00 C160.57,776.00 168.57,778.00 168.90,779.00 C169.23,780.00 162.57,782.00 158.90,782.00 C155.23,782.00 147.23,780.00 146.90,779.00 Z" fill="#ebe8ee"  opacity="1"/>
<path d="M200.90,770.00 C201.90,768.67 210.57,766.67 212.90,767.00 C215.23,767.33 215.90,770.67 214.90,772.00 C213.90,773.33 209.23,775.33 206.90,775.00 C204.57,774.67 199.90,771.33 200.90,770.00 Z" fill="#ebe8ee"  opacity="1"/>
</g>
</g>
<rect x="212.10" y="806.30" width="17.00" height="8.60" fill="#fff" />
<rect x="214.10" y="808.50" width="12.60" height="1.30" fill="#151515" />
<text x="214.10" y="813.50" font-size="3.3" fill="#222" text-anchor="start" font-weight="bold"  style="">100 µm</text>
<g clip-path="url(#cp7)">
<rect x="237.40" y="748.00" width="90.20" height="66.90" fill="rgb(202,198,212)" />
<rect x="237.40" y="748.00" width="90.20" height="66.90" fill="#000" filter="url(#nf17)"/>
<rect x="237.40" y="748.00" width="90.20" height="66.90" fill="#000" filter="url(#nf18)"/>
<g filter="url(#sblur)">
<path d="M240.40,768.00 C242.23,764.50 247.57,763.33 251.40,763.00 C255.23,762.67 260.40,763.50 263.40,766.00 C266.40,768.50 268.73,773.67 269.40,778.00 C270.07,782.33 269.40,788.67 267.40,792.00 C265.40,795.33 261.07,797.50 257.40,798.00 C253.73,798.50 248.23,797.33 245.40,795.00 C242.57,792.67 241.23,788.50 240.40,784.00 C239.57,779.50 238.57,771.50 240.40,768.00 Z" fill="rgb(190,160,175)"  opacity="0.5"/>
<path d="M281.40,770.00 C283.40,765.00 290.07,762.00 295.40,760.00 C300.73,758.00 308.40,757.33 313.40,758.00 C318.40,758.67 323.40,757.33 325.40,764.00 C327.40,770.67 327.73,791.33 325.40,798.00 C323.07,804.67 316.73,803.33 311.40,804.00 C306.07,804.67 298.07,804.33 293.40,802.00 C288.73,799.67 285.40,795.33 283.40,790.00 C281.40,784.67 279.40,775.00 281.40,770.00 Z" fill="rgb(190,160,175)"  opacity="0.5"/>
<circle cx="276.40" cy="797.50" r="1.3" fill="#181010"/>
</g>
</g>
<rect x="303.10" y="802.40" width="24.50" height="12.50" fill="#fff" />
<rect x="312.60" y="808.50" width="12.60" height="1.30" fill="#151515" />
<text x="312.60" y="813.50" font-size="3.3" fill="#222" text-anchor="start" font-weight="bold"  style="">100 µm</text>
<g clip-path="url(#cp8)">
<rect x="336.30" y="748.00" width="90.00" height="66.90" fill="rgb(206,203,210)" />
<rect x="336.30" y="748.00" width="90.00" height="66.90" fill="#000" filter="url(#nf19)"/>
<rect x="336.30" y="748.00" width="90.00" height="66.90" fill="#000" filter="url(#nf20)"/>
<g filter="url(#sblur)">
<path d="M393.73,781.70 C393.68,784.26 392.02,787.04 390.92,789.30 C389.83,791.56 388.84,793.44 387.18,795.25 C385.51,797.06 383.23,798.99 380.95,800.17 C378.67,801.35 376.03,802.16 373.50,802.33 C370.97,802.50 368.06,802.08 365.76,801.20 C363.45,800.33 361.32,798.98 359.69,797.07 C358.06,795.17 357.06,792.32 355.99,789.76 C354.92,787.20 353.33,784.29 353.27,781.70 C353.21,779.11 354.81,776.83 355.65,774.23 C356.49,771.64 356.60,768.13 358.31,766.12 C360.01,764.11 363.36,763.21 365.89,762.18 C368.42,761.14 371.01,759.58 373.50,759.91 C375.99,760.24 378.54,763.09 380.82,764.16 C383.11,765.23 385.50,764.69 387.23,766.33 C388.96,767.96 390.14,771.39 391.22,773.95 C392.31,776.52 393.78,779.14 393.73,781.70 Z" fill="#b98a78"  opacity="1"/>
<path d="M391.07,781.70 C391.12,783.86 390.97,786.34 390.11,788.35 C389.24,790.35 387.59,792.06 385.89,793.72 C384.19,795.39 381.97,797.56 379.91,798.35 C377.85,799.14 375.73,798.53 373.50,798.48 C371.27,798.43 368.47,798.77 366.52,798.06 C364.58,797.34 363.24,795.72 361.83,794.18 C360.43,792.64 359.33,790.90 358.09,788.82 C356.86,786.74 354.80,783.91 354.44,781.70 C354.08,779.49 354.84,777.42 355.92,775.53 C356.99,773.64 359.09,771.80 360.90,770.34 C362.71,768.87 364.69,767.85 366.79,766.75 C368.89,765.66 371.31,763.77 373.50,763.76 C375.69,763.75 377.96,765.74 379.94,766.72 C381.92,767.70 383.73,768.19 385.38,769.63 C387.03,771.07 388.89,773.35 389.84,775.37 C390.79,777.38 391.03,779.54 391.07,781.70 Z" fill="#ebeaec"  opacity="1"/>
<path d="M391.9,783.1 Q387.8,781.9 380.6,783.7 M375.6,800.1 Q375.8,792.6 372.9,788.1 M361.9,796.1 Q366.7,789.5 368.5,785.9 M355.4,778.0 Q362.0,776.7 365.7,778.4 M367.7,764.1 Q371.6,767.3 372.5,773.5 M384.1,766.5 Q383.6,769.4 380.1,775.4 " fill="none" stroke="#b98a78" stroke-width="2.2" stroke-linecap="round"/>
<path d="M425.75,776.20 C425.73,778.39 425.11,780.88 424.49,782.91 C423.86,784.93 423.08,787.32 421.98,788.36 C420.89,789.39 419.20,789.23 417.90,789.13 C416.60,789.02 415.27,788.77 414.21,787.72 C413.15,786.68 412.23,784.79 411.53,782.87 C410.82,780.94 410.05,778.44 409.96,776.20 C409.87,773.96 410.29,771.37 411.00,769.43 C411.71,767.48 413.07,765.60 414.22,764.51 C415.37,763.43 416.65,762.97 417.90,762.94 C419.15,762.91 420.58,763.19 421.70,764.33 C422.82,765.47 423.93,767.80 424.61,769.78 C425.28,771.75 425.77,774.01 425.75,776.20 Z" fill="#b98a78"  opacity="1"/>
<path d="M423.92,776.20 C423.94,778.12 423.64,780.37 423.12,781.89 C422.59,783.40 421.66,784.55 420.79,785.29 C419.92,786.03 418.83,786.28 417.90,786.33 C416.97,786.39 416.06,786.44 415.21,785.63 C414.37,784.81 413.37,783.01 412.83,781.43 C412.29,779.86 411.90,778.00 411.97,776.20 C412.05,774.40 412.75,772.17 413.31,770.61 C413.87,769.06 414.56,767.88 415.32,766.85 C416.08,765.81 417.01,764.54 417.90,764.40 C418.79,764.25 419.83,764.99 420.67,765.99 C421.52,766.99 422.43,768.68 422.97,770.38 C423.51,772.08 423.89,774.28 423.92,776.20 Z" fill="#ebeaec"  opacity="1"/>
<path d="M423.1,782.9 Q423.0,780.0 419.9,780.0 M413.4,784.2 Q415.8,780.4 415.1,779.5 M412.7,769.6 Q415.8,769.7 416.0,772.7 M422.0,767.6 Q422.7,768.7 420.4,772.7 " fill="none" stroke="#b98a78" stroke-width="1.8" stroke-linecap="round"/>
<path d="M398.81,747.50 C398.82,748.59 398.12,749.81 397.10,750.75 C396.09,751.70 394.58,752.56 392.70,753.19 C390.81,753.82 388.25,754.35 385.80,754.53 C383.35,754.72 380.39,754.51 377.99,754.30 C375.58,754.09 373.32,753.89 371.35,753.26 C369.37,752.63 367.41,751.48 366.13,750.52 C364.84,749.56 363.63,748.51 363.64,747.50 C363.64,746.49 364.98,745.39 366.17,744.44 C367.35,743.49 368.80,742.46 370.75,741.83 C372.70,741.19 375.39,740.84 377.87,740.64 C380.34,740.45 383.17,740.42 385.61,740.65 C388.05,740.89 390.62,741.47 392.52,742.07 C394.43,742.67 395.99,743.33 397.04,744.23 C398.09,745.14 398.80,746.41 398.81,747.50 Z" fill="#b98a78"  opacity="1"/>
<path d="M396.35,746.50 C396.50,747.17 395.85,747.80 394.82,748.40 C393.79,749.01 391.84,749.71 390.19,750.13 C388.54,750.55 386.83,750.80 384.92,750.95 C383.02,751.10 380.70,751.17 378.74,751.04 C376.77,750.91 374.72,750.60 373.13,750.18 C371.53,749.76 370.09,749.13 369.16,748.51 C368.24,747.90 367.66,747.17 367.60,746.50 C367.53,745.83 367.93,745.14 368.78,744.52 C369.64,743.90 371.07,743.22 372.74,742.79 C374.42,742.35 376.78,742.06 378.82,741.92 C380.87,741.77 383.03,741.75 385.01,741.91 C386.99,742.07 389.22,742.47 390.71,742.89 C392.20,743.31 393.00,743.81 393.94,744.41 C394.88,745.01 396.20,745.83 396.35,746.50 Z" fill="#ebeaec"  opacity="1"/>
<path d="M343.96,793.50 C343.99,794.94 343.76,796.61 343.19,797.84 C342.61,799.08 341.64,800.26 340.49,800.89 C339.34,801.52 337.65,801.64 336.30,801.64 C334.95,801.63 333.57,801.49 332.39,800.86 C331.22,800.23 329.91,799.11 329.25,797.88 C328.58,796.65 328.35,794.97 328.40,793.50 C328.44,792.03 328.85,790.30 329.52,789.08 C330.19,787.85 331.28,786.79 332.41,786.17 C333.54,785.56 334.98,785.46 336.30,785.40 C337.62,785.34 339.22,785.17 340.34,785.81 C341.46,786.45 342.44,787.95 343.04,789.23 C343.64,790.51 343.94,792.06 343.96,793.50 Z" fill="#b98a78"  opacity="1"/>
<path d="M342.01,793.50 C342.06,794.49 341.74,795.69 341.24,796.51 C340.73,797.33 339.80,797.95 338.98,798.44 C338.15,798.93 337.21,799.40 336.30,799.44 C335.39,799.48 334.34,799.17 333.54,798.68 C332.75,798.20 331.99,797.38 331.51,796.51 C331.03,795.65 330.66,794.50 330.66,793.50 C330.65,792.50 330.99,791.43 331.48,790.52 C331.97,789.62 332.80,788.53 333.61,788.06 C334.41,787.58 335.41,787.67 336.30,787.67 C337.19,787.67 338.17,787.57 338.93,788.05 C339.69,788.53 340.37,789.65 340.89,790.55 C341.40,791.46 341.95,792.51 342.01,793.50 Z" fill="#ebeaec"  opacity="1"/>
</g>
<rect x="336.30" y="748.00" width="90.00" height="66.90" fill="#000" filter="url(#nf21)"/>
</g>
<rect x="409.30" y="806.30" width="17.00" height="8.60" fill="#fff" />
<rect x="411.30" y="808.50" width="12.60" height="1.30" fill="#151515" />
<text x="411.30" y="813.50" font-size="3.3" fill="#222" text-anchor="start" font-weight="bold"  style="">100 µm</text>
<g clip-path="url(#cp9)">
<rect x="38.70" y="824.50" width="89.70" height="66.70" fill="rgb(176,182,214)" />
<rect x="38.70" y="824.50" width="89.70" height="66.70" fill="#000" filter="url(#nf22)"/>
<rect x="38.70" y="824.50" width="89.70" height="66.70" fill="#000" filter="url(#nf23)"/>
<rect x="38.70" y="824.50" width="89.70" height="66.70" fill="#000" filter="url(#nf24)"/>
<g filter="url(#sblur)">
<g fill="none" stroke-linecap="round" stroke-linejoin="round" opacity="1.0"><path d="M56.5,834.1 L57.7,833.3 L59.0,832.5 L60.5,832.3 L62.0,832.5 L63.5,832.8 L64.3,834.0 L65.4,835.1 L66.2,836.3 L67.0,837.6 L67.8,838.8 L68.9,839.9 L70.0,841.0 M56.8,860.3 L55.9,861.5 L54.9,862.7 L54.1,863.9 L53.4,865.2 L52.5,866.4 L51.5,867.5 M68.6,889.0 L67.6,890.1 L66.8,891.4 L65.9,892.6 L65.2,894.0 L64.8,895.4 L64.4,896.8 L63.9,898.3 L63.5,899.7 L63.6,901.2 M97.1,884.8 L96.1,885.9 L95.2,887.2 L94.4,888.4 L93.8,889.8 L93.3,891.2 L92.6,892.6 L92.1,894.0 L91.6,895.4 L91.1,896.8 L91.2,898.3 L91.2,899.8 L91.2,901.3 M99.0,880.6 L98.7,879.2 L97.8,877.9 L97.6,876.5 L97.5,875.0 L97.2,873.5 L96.6,872.1 M51.7,831.6 L51.6,833.1 L51.4,834.6 L51.4,836.1 L51.3,837.6 L51.4,839.1 L51.4,840.6 L51.2,842.1 L50.7,843.5 L50.2,844.9 M133.1,836.2 L132.1,837.2 L131.1,838.4 L130.1,839.5 L129.2,840.7 L128.3,841.9 L128.0,843.4 L128.1,844.9 L127.9,846.4 L127.5,847.8 L127.5,849.3 L127.2,850.8 L127.0,852.3 L126.6,853.7 M60.0,845.4 L60.9,846.6 L61.7,847.9 L62.4,849.2 L62.7,850.7 L63.0,852.1 L63.1,853.6 M42.0,820.4 L43.1,821.5 L43.8,822.8 L44.5,824.1 L44.8,825.6 L44.5,827.0 L43.6,828.2 M130.1,848.6 L131.0,847.4 L131.5,846.0 L132.0,844.6 L133.0,843.5 L134.1,842.5 L135.0,841.3 L135.9,840.1 L137.2,839.4 L138.6,838.7 L140.1,838.5 M97.0,826.8 L95.7,826.1 L94.4,825.2 L93.1,824.6 L91.6,824.3 L90.4,823.4 L89.5,822.2 L88.8,820.8 M120.0,820.3 L118.5,820.2 L117.0,819.9 L115.5,819.7 L114.1,819.6 L112.6,819.3 L111.1,819.1 L109.6,818.9" stroke="#e2e4ea" stroke-width="2.0"/></g>
<path d="M38.70,824.50 C53.70,823.83 113.70,824.17 128.70,824.50 C143.70,824.83 133.70,826.00 128.70,826.50 C123.70,827.00 107.03,827.50 98.70,827.50 C90.37,827.50 85.37,826.33 78.70,826.50 C72.03,826.67 63.70,828.50 58.70,828.50 C53.70,828.50 52.03,826.50 48.70,826.50 C45.37,826.50 40.37,828.83 38.70,828.50 C37.03,828.17 23.70,825.17 38.70,824.50 Z" fill="#e6e8ec"  opacity="1"/>
<path d="M50.70,832.50 C50.70,830.83 54.70,832.83 56.70,834.50 C58.70,836.17 61.03,839.83 62.70,842.50 C64.37,845.17 66.70,848.83 66.70,850.50 C66.70,852.17 64.37,853.50 62.70,852.50 C61.03,851.50 58.70,847.83 56.70,844.50 C54.70,841.17 50.70,834.17 50.70,832.50 Z" fill="#e6e8ec"  opacity="1"/>
<path d="M90.70,832.50 C91.37,830.17 96.37,829.50 98.70,830.50 C101.03,831.50 104.70,836.50 104.70,838.50 C104.70,840.50 100.37,841.50 98.70,842.50 C97.03,843.50 96.03,846.17 94.70,844.50 C93.37,842.83 90.03,834.83 90.70,832.50 Z" fill="#e6e8ec"  opacity="1"/>
<path d="M60.70,874.50 C61.37,872.83 65.03,871.50 66.70,872.50 C68.37,873.50 70.37,877.50 70.70,880.50 C71.03,883.50 69.70,888.83 68.70,890.50 C67.70,892.17 65.70,891.83 64.70,890.50 C63.70,889.17 63.37,885.17 62.70,882.50 C62.03,879.83 60.03,876.17 60.70,874.50 Z" fill="#e6e8ec"  opacity="1"/>
<path d="M38.70,842.50 C39.37,837.50 41.70,840.83 42.70,844.50 C43.70,848.17 45.03,859.83 44.70,864.50 C44.37,869.17 41.70,870.83 40.70,872.50 C39.70,874.17 39.03,879.50 38.70,874.50 C38.37,869.50 38.03,847.50 38.70,842.50 Z" fill="#e6e8ec"  opacity="1"/>
<path d="M74.70,836.50 C75.70,835.50 81.70,834.17 84.70,834.50 C87.70,834.83 92.03,837.50 92.70,838.50 C93.37,839.50 91.03,840.17 88.70,840.50 C86.37,840.83 81.03,841.17 78.70,840.50 C76.37,839.83 73.70,837.50 74.70,836.50 Z" fill="#e6e8ec"  opacity="1"/>
</g>
</g>
<rect x="111.40" y="882.60" width="17.00" height="8.60" fill="#fff" />
<rect x="113.40" y="884.80" width="12.60" height="1.30" fill="#151515" />
<text x="113.40" y="889.80" font-size="3.3" fill="#222" text-anchor="start" font-weight="bold"  style="">100 µm</text>
<g clip-path="url(#cp10)">
<rect x="138.90" y="824.50" width="90.20" height="66.70" fill="rgb(176,176,206)" />
<g filter="url(#sblur)">
<g fill="none" stroke-linecap="round" stroke-linejoin="round" opacity="0.85"><path d="M148.7,837.0 L149.2,835.6 L150.3,834.6 L151.5,833.6 L152.6,832.7 L153.9,831.9 L155.3,831.4 M178.1,837.7 L176.8,838.4 L175.7,839.3 L174.5,840.3 L173.6,841.5 L172.6,842.6 L171.4,843.6 L170.7,844.9 L170.2,846.3 L170.0,847.8 L170.1,849.3 L170.7,850.7 M136.3,828.1 L136.3,829.6 L135.8,831.1 L135.4,832.5 L134.8,833.9 M195.5,869.7 L194.6,870.9 L193.9,872.2 L193.1,873.5 L192.0,874.5 M176.5,824.7 L177.8,825.5 L179.2,826.0 L180.7,826.2 L182.2,826.4 L183.5,825.7 L184.9,825.1 L186.2,824.5 M180.1,848.1 L181.4,847.4 L182.7,846.7 L184.0,846.0 L185.4,845.5 L186.9,845.2 L188.3,844.6 L189.7,844.0 L191.2,843.9 M209.3,840.4 L208.3,839.3 L207.2,838.3 L205.9,837.5 L204.5,837.0 L203.0,836.9 L201.5,836.9 L200.0,837.0 L198.5,837.2 L197.0,837.5 M149.1,871.9 L148.7,873.4 L148.5,874.8 L148.3,876.3 L147.9,877.8 L147.7,879.3 L147.7,880.8 L147.3,882.2 L146.8,883.6 L146.3,885.0 M172.9,843.4 L171.7,842.5 L170.7,841.4 L169.7,840.2 L168.5,839.3 M170.7,857.0 L170.8,855.5 L171.2,854.1 L171.7,852.7 L172.4,851.4 L173.3,850.2 L174.5,849.3 L175.9,848.7 L177.4,848.3 M155.0,886.0 L153.5,886.2 L152.1,886.7 L150.6,886.8 L149.1,886.9 L147.6,886.9 L146.1,887.0 L144.6,887.2 L143.2,887.7 M162.6,883.5 L161.7,882.3 L160.6,881.3 L159.6,880.1 L159.0,878.8 L159.1,877.3 L159.8,876.0 L160.9,874.9 L162.3,874.3 M165.3,879.0 L164.0,878.3 L162.7,877.6 L161.4,876.8 L160.1,876.1 M228.7,859.2 L227.2,859.4 L225.9,860.1 L224.7,861.0 L224.3,862.5 L224.4,864.0 L224.3,865.5 M154.9,844.3 L154.3,845.7 L153.8,847.1 L153.7,848.6 L153.6,850.1 L153.7,851.6 L153.4,853.1 L152.8,854.4 M219.5,873.9 L218.2,873.2 L217.2,872.1 L216.6,870.7 L216.3,869.2 L215.5,867.9 L214.7,866.7 L214.0,865.3 L213.1,864.1 L212.4,862.8 L212.0,861.4 L211.5,860.0 M136.2,819.8 L135.3,818.7 L134.1,817.8 L133.3,816.5 L132.7,815.1 L132.1,813.7 L132.0,812.2 M222.7,831.0 L221.9,829.7 L221.0,828.5 L220.0,827.4 L218.8,826.5 L217.5,825.7 L216.4,824.7 L215.2,823.7 L214.0,822.9 L212.5,822.4 L211.2,821.8 M207.1,824.4 L207.2,822.9 L207.0,821.4 L206.2,820.1 L205.7,818.7 L205.3,817.3 L205.2,815.8 L204.9,814.3 L204.6,812.9 L204.2,811.4 M183.5,839.8 L184.9,840.2 L186.3,840.9 L187.3,841.9 L188.0,843.3 L188.6,844.6 L188.8,846.1 L188.6,847.6 L188.4,849.1 L188.2,850.6 L187.3,851.8 M190.9,820.3 L191.0,821.8 L190.8,823.3 L190.7,824.8 L191.0,826.3 L190.8,827.8 L190.8,829.3 L191.1,830.7 M191.6,858.9 L192.1,857.5 L192.8,856.2 L193.6,854.9 L194.2,853.6 L195.0,852.3 L195.9,851.1 L197.3,850.5 L198.8,850.5 L200.3,850.8 M209.5,864.1 L208.3,865.1 L207.0,865.9 L205.7,866.6 L204.3,867.1 L202.9,867.7 M138.8,835.0 L139.8,836.1 L140.6,837.4 L141.8,838.3 L143.1,839.1 L144.3,839.9 L145.5,840.8 M185.7,836.0 L187.0,835.2 L188.5,835.0 L189.9,834.4 L190.7,833.2 L191.5,831.9 L192.1,830.5 L192.3,829.0 L192.6,827.6 L192.2,826.1 L191.5,824.8 L191.4,823.3 M215.7,862.6 L216.4,861.2 L216.8,859.8 L217.1,858.3 L217.7,856.9 L218.3,855.5 L219.3,854.4 L220.5,853.5 L221.8,852.7 L222.9,851.7 L224.2,851.0 L225.7,850.6 M160.4,860.6 L160.4,859.1 L160.2,857.6 L159.5,856.3 L158.3,855.5 L156.9,854.9 L155.4,854.8 M212.6,851.8 L214.1,851.4 L215.6,851.4 L217.1,851.5 L218.6,851.6 L220.1,851.6 L221.6,851.7 L223.1,851.7 L224.5,852.0 L226.0,852.2 L227.4,852.8 M198.9,881.5 L199.1,880.1 L198.8,878.6 L198.7,877.1 L198.6,875.6 L198.2,874.2 L198.2,872.7 L198.4,871.2 L198.3,869.7 M197.7,849.0 L196.3,849.4 L194.9,850.1 L193.5,850.7 L192.1,851.3 L190.8,851.9 L189.4,852.4 L188.2,853.3 L187.0,854.2 L185.9,855.3 M227.8,849.7 L229.3,849.3 L230.7,848.7 L232.0,848.0 L233.4,847.5 L234.7,846.8 L235.8,845.7 L236.7,844.5 L237.6,843.3 M187.2,838.2 L187.2,836.7 L187.3,835.2 L187.6,833.7 L188.3,832.4 M161.9,876.5 L160.4,876.6 L158.9,876.5 L157.4,876.4 L155.9,876.8 L154.4,876.9 L153.0,877.3 L151.8,878.2 M138.5,859.0 L140.0,858.6 L141.5,858.4 L142.9,858.0 L144.4,857.9 L145.9,857.7 L147.3,857.1 L148.6,856.4 M175.3,824.1 L176.7,823.8 L178.2,823.4 L179.7,823.2 L181.2,823.1 L182.6,823.4 L184.1,823.6 L185.5,824.2 M167.1,894.0 L166.2,892.8 L165.4,891.6 L164.5,890.4 L164.0,889.0 L163.6,887.5 L163.1,886.1 L162.9,884.6 L163.2,883.2 L163.4,881.7 M212.3,841.7 L212.2,840.2 L212.1,838.7 L211.8,837.3 L211.5,835.8 L210.9,834.5 L210.2,833.1 M223.7,843.6 L222.3,844.2 L220.8,844.4 L219.3,844.3 L217.9,843.9 L216.9,842.8 L216.0,841.5 L214.7,840.8 L213.6,839.7 L212.8,838.5 M163.4,880.4 L161.9,880.3 L160.4,880.3 L158.9,880.0 L157.7,879.2 L157.0,877.9 L156.4,876.5 L155.9,875.1 L155.9,873.6 L155.8,872.1 L155.9,870.6 M230.6,847.6 L230.1,849.1 L229.8,850.5 L229.5,852.0 L229.2,853.5 L228.9,854.9 M218.7,851.5 L220.2,851.1 L221.7,851.2 L223.1,851.2 L224.6,851.6 L226.0,852.2 L227.4,852.7 L228.8,853.1 M155.1,850.2 L153.7,850.5 L152.4,851.2 L151.0,852.0 L150.1,853.1 L149.7,854.6 L150.3,856.0 L151.0,857.3 L151.7,858.6 L152.5,859.9 M212.0,835.1 L213.4,835.7 L214.8,836.3 L216.1,836.9 L217.4,837.7 L218.8,838.2 L220.3,838.0 M181.9,825.9 L181.0,827.1 L180.0,828.1 L178.6,828.7 L177.2,829.2 M184.2,849.9 L185.1,848.8 L186.0,847.5 L187.0,846.5 L188.0,845.3 L189.1,844.4 L190.2,843.3 L191.3,842.3 L192.6,841.6 L193.8,840.6" stroke="#dcdce4" stroke-width="2.0"/></g>
</g>
<rect x="138.90" y="824.50" width="90.20" height="66.70" fill="#000" filter="url(#nf25)"/>
<rect x="138.90" y="824.50" width="90.20" height="66.70" fill="#000" filter="url(#nf26)"/>
</g>
<rect x="212.10" y="882.60" width="17.00" height="8.60" fill="#fff" />
<rect x="214.10" y="884.80" width="12.60" height="1.30" fill="#151515" />
<text x="214.10" y="889.80" font-size="3.3" fill="#222" text-anchor="start" font-weight="bold"  style="">100 µm</text>
<g clip-path="url(#cp11)">
<rect x="237.40" y="824.50" width="90.20" height="66.70" fill="rgb(194,170,184)" />
<rect x="237.40" y="824.50" width="90.20" height="66.70" fill="#000" filter="url(#nf27)"/>
<rect x="237.40" y="824.50" width="90.20" height="66.70" fill="#000" filter="url(#nf28)"/>
<rect x="237.40" y="824.50" width="90.20" height="66.70" fill="#000" filter="url(#nf29)"/>
<g filter="url(#sblur)">
<path d="M241.40,824.50 C241.73,822.50 245.73,822.83 247.40,824.50 C249.07,826.17 249.73,830.83 251.40,834.50 C253.07,838.17 257.07,844.50 257.40,846.50 C257.73,848.50 255.40,848.17 253.40,846.50 C251.40,844.83 247.40,840.17 245.40,836.50 C243.40,832.83 241.07,826.50 241.40,824.50 Z" fill="#e2e0e6"  opacity="1"/>
<path d="M257.40,880.50 C258.73,880.83 261.73,884.67 263.40,886.50 C265.07,888.33 268.40,890.67 267.40,891.50 C266.40,892.33 259.40,892.67 257.40,891.50 C255.40,890.33 255.40,886.33 255.40,884.50 C255.40,882.67 256.07,880.17 257.40,880.50 Z" fill="#e2e0e6"  opacity="1"/>
<path d="M311.40,824.50 C313.73,823.17 324.73,821.50 327.40,824.50 C330.07,827.50 328.73,840.17 327.40,842.50 C326.07,844.83 321.73,840.17 319.40,838.50 C317.07,836.83 314.73,834.83 313.40,832.50 C312.07,830.17 309.07,825.83 311.40,824.50 Z" fill="rgb(150,150,200)"  opacity="0.45"/>
<path d="M281.40,872.50 C282.73,871.17 289.07,868.17 293.40,868.50 C297.73,868.83 306.73,873.17 307.40,874.50 C308.07,875.83 301.07,876.17 297.40,876.50 C293.73,876.83 288.07,877.17 285.40,876.50 C282.73,875.83 280.07,873.83 281.40,872.50 Z" fill="rgb(150,150,200)"  opacity="0.45"/>
</g>
</g>
<rect x="310.60" y="882.60" width="17.00" height="8.60" fill="#fff" />
<rect x="312.60" y="884.80" width="12.60" height="1.30" fill="#151515" />
<text x="312.60" y="889.80" font-size="3.3" fill="#222" text-anchor="start" font-weight="bold"  style="">100 µm</text>
<g clip-path="url(#cp12)">
<rect x="336.30" y="824.50" width="90.00" height="66.70" fill="rgb(230,226,230)" />
<rect x="336.30" y="824.50" width="90.00" height="66.70" fill="#000" filter="url(#nf30)"/>
<rect x="336.30" y="824.50" width="90.00" height="66.70" fill="#000" filter="url(#nf31)"/>
<rect x="336.30" y="824.50" width="90.00" height="66.70" fill="#000" filter="url(#nf32)"/>
<g filter="url(#sblur)">
<path d="M374.30,868.50 C375.97,866.17 379.30,863.83 382.30,862.50 C385.30,861.17 389.97,860.17 392.30,860.50 C394.63,860.83 396.63,862.50 396.30,864.50 C395.97,866.50 392.97,870.50 390.30,872.50 C387.63,874.50 383.30,875.83 380.30,876.50 C377.30,877.17 373.30,877.83 372.30,876.50 C371.30,875.17 372.63,870.83 374.30,868.50 Z" fill="#ebe9ec"  opacity="1"/>
<path d="M404.30,860.50 C405.30,857.83 409.63,854.83 412.30,854.50 C414.97,854.17 418.63,855.83 420.30,858.50 C421.97,861.17 423.30,867.50 422.30,870.50 C421.30,873.50 416.97,876.50 414.30,876.50 C411.63,876.50 407.97,873.17 406.30,870.50 C404.63,867.83 403.30,863.17 404.30,860.50 Z" fill="#e8e4e9"  opacity="1"/>
<path d="M354.30,826.50 C355.63,824.83 366.97,825.17 370.30,826.50 C373.63,827.83 375.63,832.83 374.30,834.50 C372.97,836.17 365.63,837.83 362.30,836.50 C358.97,835.17 352.97,828.17 354.30,826.50 Z" fill="#e8e4e9"  opacity="1"/>
</g>
</g>
<rect x="409.30" y="882.60" width="17.00" height="8.60" fill="#fff" />
<rect x="411.30" y="884.80" width="12.60" height="1.30" fill="#151515" />
<text x="411.30" y="889.80" font-size="3.3" fill="#222" text-anchor="start" font-weight="bold"  style="">100 µm</text>
<g clip-path="url(#cp13)">
<rect x="38.70" y="898.40" width="89.70" height="66.90" fill="rgb(196,202,226)" />
<rect x="38.70" y="898.40" width="89.70" height="66.90" fill="#000" filter="url(#nf33)"/>
<rect x="38.70" y="898.40" width="89.70" height="66.90" fill="#000" filter="url(#nf34)"/>
<rect x="38.70" y="898.40" width="89.70" height="66.90" fill="#000" filter="url(#nf35)"/>
</g>
<rect x="111.40" y="956.70" width="17.00" height="8.60" fill="#fff" />
<rect x="113.40" y="958.90" width="12.60" height="1.30" fill="#151515" />
<text x="113.40" y="963.90" font-size="3.3" fill="#222" text-anchor="start" font-weight="bold"  style="">100 µm</text>
<g clip-path="url(#cp14)">
<rect x="138.90" y="898.40" width="90.20" height="66.90" fill="rgb(200,202,220)" />
<g filter="url(#sblur)">
<g fill="none" stroke-linecap="round" stroke-linejoin="round" opacity="0.7"><path d="M224.3,936.3 L223.3,935.1 L222.3,934.1 L221.5,932.8 L221.0,931.4 L220.4,930.0 L219.5,928.8 L218.7,927.5 L217.8,926.3 L216.7,925.4 L215.7,924.2 L214.7,923.1 M195.5,926.0 L197.0,925.8 L198.5,925.8 L199.9,926.4 L200.7,927.6 L201.8,928.7 L202.7,929.8 L203.2,931.2 L203.4,932.7 L203.1,934.2 L202.6,935.6 L202.2,937.0 M228.9,960.9 L230.0,959.9 L231.0,958.7 L232.1,957.8 L232.5,956.3 L232.9,954.9 L233.0,953.4 L232.6,952.0 M139.4,969.9 L138.1,970.6 L137.0,971.6 L135.6,972.3 L134.1,972.5 L132.7,972.7 L131.2,972.9 M175.4,934.8 L176.6,933.9 L177.8,933.0 L178.8,931.9 L179.1,930.5 L178.7,929.0 L177.6,928.0 L176.2,927.5 M164.3,960.5 L165.8,960.3 L167.3,960.2 L168.8,960.1 L170.3,960.0 L171.8,960.2 L173.2,960.8 L174.7,960.8 L176.1,961.3 M179.1,931.5 L180.4,930.7 L181.9,931.0 L183.3,931.4 L184.7,932.0 L185.8,933.0 L187.2,933.5 L188.4,934.5 L189.8,935.1 L191.1,935.9 M187.9,916.9 L188.6,915.6 L189.4,914.3 L190.2,913.0 L191.4,912.1 L192.7,911.3 L194.0,910.5 L195.4,910.1 L196.8,909.7 L198.3,910.1 M157.0,921.2 L156.1,922.3 L154.8,923.1 L153.4,923.8 L152.3,924.8 L151.4,926.0 L150.6,927.3 L149.8,928.6 L149.2,929.9 M147.4,909.6 L148.7,910.4 L149.6,911.5 L150.0,913.0 L150.2,914.5 L149.6,915.8 L148.7,917.0 L147.5,918.0 L146.4,918.9 L144.9,919.2 L143.4,919.1 M198.9,946.9 L200.4,947.0 L201.9,947.0 L203.4,947.2 L204.9,947.4 L206.1,948.2 L207.5,948.9 M195.5,941.2 L196.8,940.5 L198.1,939.7 L199.2,938.7 L200.5,938.0 L201.8,937.2 L203.2,936.6 L204.5,935.9 M139.2,957.9 L140.1,959.1 L141.4,960.0 L142.3,961.2 L143.4,962.2 L144.1,963.5 M177.6,917.1 L177.7,918.6 L178.4,919.9 L179.4,921.0 L179.9,922.4 L180.4,923.9 L180.9,925.3 L181.5,926.6 M171.8,955.6 L171.7,957.1 L172.2,958.5 L172.2,960.0 L172.3,961.5 L172.1,963.0 M136.4,951.6 L136.8,950.2 L137.5,948.8 L137.7,947.3 L138.3,945.9 L138.8,944.5 L138.3,943.1 L137.4,941.9 L136.6,940.7 L135.4,939.8 L134.0,939.0 M161.0,913.6 L160.4,915.0 L159.4,916.1 L158.6,917.4 L157.9,918.7 L157.3,920.1 M143.7,899.1 L144.2,897.7 L144.2,896.2 L144.4,894.7 L143.9,893.3 L143.5,891.8 L143.4,890.3 L143.0,888.9 L142.3,887.5 L141.7,886.2 L140.5,885.2 L139.2,884.5 L137.9,883.8 M221.9,955.7 L221.8,957.2 L222.0,958.7 L221.8,960.2 L221.5,961.6 L220.8,963.0 L219.9,964.2 L219.0,965.3 L218.0,966.5 M134.8,904.4 L133.7,903.5 L133.3,902.0 L132.7,900.6 L132.2,899.2 L132.4,897.7 L132.0,896.3 L131.3,894.9 M207.1,937.3 L206.1,938.5 L205.4,939.8 L204.7,941.1 L203.5,942.0 L202.2,942.8 L201.4,944.0 L200.4,945.1 L199.3,946.2 M155.4,960.7 L155.4,959.2 L154.9,957.8 L154.3,956.4 L153.2,955.4 L151.8,954.8 L150.3,954.7 L148.8,954.6 M225.6,964.1 L224.4,965.0 L223.0,965.5 L221.5,965.7 L220.0,965.8 L218.5,966.0 L217.1,966.2 L215.6,966.3 L214.1,966.3 L212.6,966.6 L211.1,966.3 M194.1,943.8 L195.3,943.0 L196.5,942.0 L197.3,940.8 L198.5,939.9 L199.7,938.9 L200.7,937.9 M212.0,946.3 L210.6,945.7 L209.5,944.7 L208.3,943.8 L207.4,942.6 L206.8,941.2 L206.0,939.9 L205.4,938.6 L204.7,937.3 L203.9,935.9 M135.9,900.9 L137.4,901.0 L138.9,901.2 L140.0,902.1 L140.6,903.5 L141.1,904.9 M192.6,928.9 L192.8,927.4 L192.4,926.0 L192.7,924.5 L192.7,923.0 L192.5,921.5 L192.4,920.0 L192.9,918.6 L193.2,917.1 L193.7,915.7 L194.1,914.2 L194.6,912.8 L194.8,911.3 M228.0,944.4 L226.5,944.2 L225.0,944.2 L223.6,944.7 L222.3,945.3 L220.8,945.6 L219.3,945.9 L217.8,945.7 M193.7,897.5 L195.2,897.6 L196.6,898.1 L197.8,899.0 L198.8,900.1 L199.7,901.3 L200.5,902.6 L200.8,904.1 L200.6,905.5 L200.8,907.0 L201.2,908.5 L200.8,909.9 M159.9,919.5 L160.9,918.4 L162.4,918.0 L163.8,918.5 L165.1,919.2 L166.1,920.3 L166.4,921.8 L165.8,923.2 L164.7,924.2 L163.4,924.9 L162.1,925.6 M181.1,961.6 L180.2,962.9 L179.0,963.8 L177.5,964.1 L176.1,963.8 L174.6,963.5 L173.2,963.0 L171.9,962.2 M194.2,911.6 L195.2,912.7 L196.6,913.4 L197.6,914.4 L198.7,915.5 L199.8,916.5 L200.7,917.7 L201.9,918.6 L203.2,919.3 L204.6,919.9 L206.1,919.8 L207.5,919.3 M203.9,901.5 L202.6,900.9 L201.3,900.0 L200.0,899.3 L199.1,898.1 L198.1,897.0 L197.5,895.6 L197.2,894.1 M144.5,958.2 L145.4,957.0 L146.0,955.6 L147.0,954.5 L148.0,953.4 L148.7,952.0 L149.5,950.8 L149.3,949.3 L148.5,948.0 L147.7,946.8 L146.9,945.5 L146.7,944.0 M145.5,968.2 L145.4,966.7 L145.5,965.2 L145.8,963.7 L146.3,962.3 L146.9,960.9 L147.7,959.7 L148.4,958.4 L148.9,956.9 M171.5,904.8 L170.4,903.8 L169.1,902.9 L167.8,902.3 L166.4,901.8 L164.9,901.3 L163.5,900.9 L162.0,900.5 L160.6,900.7 L159.1,901.1 L157.9,902.0 L156.9,903.1 M135.7,954.5 L137.1,954.0 L138.3,953.2 L139.6,952.3 L140.9,951.6 L142.3,951.4 L143.8,951.0 L145.3,951.0 L146.8,950.9 L148.3,950.8 L149.8,951.0 M142.1,948.0 L140.9,948.9 L139.4,949.2 L137.9,949.2 L136.5,948.8 L135.3,947.9 L134.3,946.7 L133.3,945.6 L132.7,944.3 M233.1,928.3 L233.2,929.8 L233.0,931.2 L232.7,932.7 L232.5,934.2 L232.5,935.7 L233.0,937.1 L233.6,938.5 M224.7,954.5 L224.2,953.1 L223.6,951.7 L222.7,950.5 L222.0,949.2 L221.2,947.9 L220.5,946.6 L220.0,945.2 L219.3,943.8 L218.2,942.8 L217.4,941.6 M209.4,918.6 L208.1,917.9 L206.8,917.2 L205.3,916.8 L203.8,916.7 L202.3,916.8 L200.9,917.1 L199.4,917.1 L197.9,917.3 M173.1,952.6 L172.8,954.1 L172.2,955.5 L171.4,956.8 L170.3,957.8 L169.0,958.6 L167.6,958.9 L166.1,958.8 L164.7,958.1 L163.5,957.3 L162.4,956.2 L161.5,955.0 M206.3,959.8 L206.4,958.3 L206.1,956.9 L205.8,955.4 L205.4,954.0 L204.5,952.8 L203.5,951.7 L202.6,950.5 L201.9,949.2 L200.7,948.2 L199.6,947.3 L198.8,946.0 M188.0,899.0 L186.5,899.3 L185.0,899.4 L183.6,899.7 L182.1,899.6 L180.6,900.1 L179.2,900.5 L177.8,900.9 L176.3,900.9 M156.3,926.3 L155.0,925.6 L153.8,924.7 L152.6,923.9 L151.4,922.9 L150.4,921.8 M220.9,934.3 L221.8,935.5 L223.0,936.4 L224.1,937.3 L225.4,938.2 L226.5,939.2 L228.0,939.6 M156.6,942.1 L157.1,940.7 L157.2,939.2 L157.5,937.7 L157.8,936.3 L157.7,934.8 M223.0,916.4 L221.7,917.0 L220.2,917.2 L218.7,917.1 L217.2,917.1 L215.7,917.5 L214.3,917.9 M165.2,966.2 L164.8,964.8 L164.3,963.4 L163.1,962.4 L161.7,961.8 L160.3,961.6 L158.8,961.3 L157.3,961.2 L155.8,960.8 L154.4,960.4 L153.0,960.0 L151.5,959.9 M163.3,959.1 L164.3,957.9 L165.3,956.8 L166.0,955.5 L166.9,954.2 L167.5,952.9 M152.9,938.8 L153.6,940.1 L153.8,941.6 L153.9,943.1 L153.5,944.5 L153.3,946.0 L152.9,947.5 L152.5,948.9 L152.2,950.4 L151.2,951.5 L150.2,952.7 L148.9,953.5 M208.7,933.6 L209.0,932.1 L209.1,930.6 L208.9,929.1 L209.1,927.6 L209.3,926.1 L209.2,924.6 L209.3,923.1 L209.5,921.7 L209.7,920.2 L210.1,918.7 L210.5,917.3 L210.8,915.8 M201.0,964.4 L199.5,964.8 L198.0,964.9 L196.6,964.7 L195.1,964.3 L193.7,963.8 L192.4,963.1 L190.9,962.6 L189.5,962.2 L188.2,961.4 L187.4,960.2 M151.1,912.6 L150.9,914.1 L150.1,915.3 L149.4,916.7 L148.4,917.7 L147.2,918.7 L145.9,919.4 L144.6,920.2 M205.4,938.0 L206.5,939.0 L207.5,940.1 L208.4,941.3 L209.2,942.6 L209.6,944.0 M189.6,913.8 L191.0,913.6 L192.4,913.0 L193.7,912.1 L195.0,911.4 L196.3,910.8 L197.7,910.2 L199.1,909.6 L200.3,908.7 M171.3,924.0 L169.8,923.8 L168.3,923.8 L166.8,923.7 L165.3,923.9 L163.8,924.1 L162.3,924.2 L160.8,923.9 M167.1,901.5 L165.7,900.9 L164.5,900.1 L163.4,899.1 L162.5,897.9 L161.3,897.0 M182.8,948.0 L181.9,946.9 L181.2,945.5 L180.9,944.0 L181.0,942.5 L181.0,941.0 L181.4,939.6 L181.7,938.1 L182.1,936.7 L183.3,935.7 M197.6,920.7 L197.7,922.2 L197.5,923.7 L197.4,925.2 L197.2,926.7 L197.0,928.1 L196.7,929.6 L196.3,931.0 L195.8,932.5" stroke="rgb(150,152,194)" stroke-width="2.8"/></g>
</g>
<rect x="138.90" y="898.40" width="90.20" height="66.90" fill="#000" filter="url(#nf36)"/>
<rect x="138.90" y="898.40" width="90.20" height="66.90" fill="#000" filter="url(#nf37)"/>
</g>
<rect x="212.10" y="956.70" width="17.00" height="8.60" fill="#fff" />
<rect x="214.10" y="958.90" width="12.60" height="1.30" fill="#151515" />
<text x="214.10" y="963.90" font-size="3.3" fill="#222" text-anchor="start" font-weight="bold"  style="">100 µm</text>
<g clip-path="url(#cp15)">
<rect x="237.40" y="898.40" width="90.20" height="66.90" fill="rgb(200,194,204)" />
<rect x="237.40" y="898.40" width="90.20" height="66.90" fill="#000" filter="url(#nf38)"/>
<rect x="237.40" y="898.40" width="90.20" height="66.90" fill="#000" filter="url(#nf39)"/>
<rect x="237.40" y="898.40" width="90.20" height="66.90" fill="#000" filter="url(#nf40)"/>
<g filter="url(#sblur)">
<path d="M235.40,913.40 C237.57,911.40 253.40,914.90 259.40,914.40 C265.40,913.90 265.73,911.07 271.40,910.40 C277.07,909.73 287.90,909.23 293.40,910.40 C298.90,911.57 301.23,913.07 304.40,917.40 C307.57,921.73 311.07,931.40 312.40,936.40 C313.73,941.40 315.07,944.57 312.40,947.40 C309.73,950.23 302.40,951.90 296.40,953.40 C290.40,954.90 281.07,955.23 276.40,956.40 C271.73,957.57 270.73,960.90 268.40,960.40 C266.07,959.90 264.57,956.90 262.40,953.40 C260.23,949.90 258.07,943.90 255.40,939.40 C252.73,934.90 249.73,930.73 246.40,926.40 C243.07,922.07 233.23,915.40 235.40,913.40 Z" fill="rgb(175,140,150)"  opacity="0.45"/>
</g>
</g>
<rect x="312.10" y="958.00" width="15.50" height="7.30" fill="#fff" />
<g clip-path="url(#cp16)">
<rect x="336.30" y="898.40" width="90.00" height="66.90" fill="rgb(214,200,206)" />
<rect x="336.30" y="898.40" width="90.00" height="66.90" fill="#000" filter="url(#nf41)"/>
<rect x="336.30" y="898.40" width="90.00" height="66.90" fill="#000" filter="url(#nf42)"/>
<g filter="url(#sblur)">
<path d="M340.90,904.70 C344.37,902.15 355.92,900.73 361.70,900.50 C367.48,900.27 371.67,900.75 375.60,903.30 C379.53,905.85 383.45,910.25 385.30,915.80 C387.15,921.35 387.62,931.52 386.70,936.60 C385.78,941.68 383.27,944.68 379.80,946.30 C376.33,947.92 368.92,947.92 365.90,946.30 C362.88,944.68 363.55,939.37 361.70,936.60 C359.85,933.83 357.10,932.02 354.80,929.70 C352.50,927.38 350.22,925.02 347.90,922.70 C345.58,920.38 342.07,918.80 340.90,915.80 C339.73,912.80 337.43,907.25 340.90,904.70 Z" fill="#a86a55"  opacity="1"/>
<path d="M390.90,899.20 C394.37,895.28 407.55,896.43 411.70,899.20 C415.85,901.97 415.80,910.03 415.80,915.80 C415.80,921.57 413.55,929.63 411.70,933.80 C409.85,937.97 407.48,939.87 404.70,940.80 C401.92,941.73 397.30,942.42 395.00,939.40 C392.70,936.38 391.58,929.40 390.90,922.70 C390.22,916.00 387.43,903.12 390.90,899.20 Z" fill="#a86a55"  opacity="1"/>
<path d="M336.80,929.70 C337.95,925.30 342.32,930.80 343.70,933.80 C345.08,936.80 345.57,943.53 345.10,947.70 C344.63,951.87 342.28,956.72 340.90,958.80 C339.52,960.88 337.48,965.05 336.80,960.20 C336.12,955.35 335.65,934.10 336.80,929.70 Z" fill="#a86a55"  opacity="1"/>
<path d="M343.70,953.30 C345.32,950.77 351.10,950.50 354.80,950.50 C358.50,950.50 362.67,951.68 365.90,953.30 C369.13,954.92 373.05,958.13 374.20,960.20 C375.35,962.27 377.65,964.78 372.80,965.70 C367.95,966.62 349.95,967.77 345.10,965.70 C340.25,963.63 342.08,955.83 343.70,953.30 Z" fill="#a86a55"  opacity="1"/>
<path d="M416.30,942.40 C417.30,939.73 424.63,938.07 426.30,940.40 C427.97,942.73 427.30,953.73 426.30,956.40 C425.30,959.07 421.97,958.73 420.30,956.40 C418.63,954.07 415.30,945.07 416.30,942.40 Z" fill="#bb8470"  opacity="1"/>
<path d="M354.30,912.40 C355.13,911.07 357.80,912.07 358.30,914.40 C358.80,916.73 356.97,923.07 357.30,926.40 C357.63,929.73 360.47,933.40 360.30,934.40 C360.13,935.40 357.47,934.40 356.30,932.40 C355.13,930.40 353.63,925.73 353.30,922.40 C352.97,919.07 353.47,913.73 354.30,912.40 Z" fill="#e6dadc"  opacity="1"/>
<path d="M362.30,918.40 C363.13,918.73 365.97,926.07 366.30,928.40 C366.63,930.73 365.13,932.73 364.30,932.40 C363.47,932.07 361.63,928.73 361.30,926.40 C360.97,924.07 361.47,918.07 362.30,918.40 Z" fill="#eee4e6"  opacity="1"/>
</g>
<rect x="336.30" y="898.40" width="90.00" height="66.90" fill="#000" filter="url(#nf43)"/>
<rect x="336.30" y="898.40" width="90.00" height="66.90" fill="#000" filter="url(#nf44)"/>
<rect x="336.30" y="898.40" width="90.00" height="66.90" fill="#000" filter="url(#nf45)"/>
</g>
<rect x="409.30" y="956.70" width="17.00" height="8.60" fill="#fff" />
<rect x="411.30" y="958.90" width="12.60" height="1.30" fill="#151515" />
<text x="411.30" y="963.90" font-size="3.3" fill="#222" text-anchor="start" font-weight="bold"  style="">100 µm</text>
</svg></body></html>
